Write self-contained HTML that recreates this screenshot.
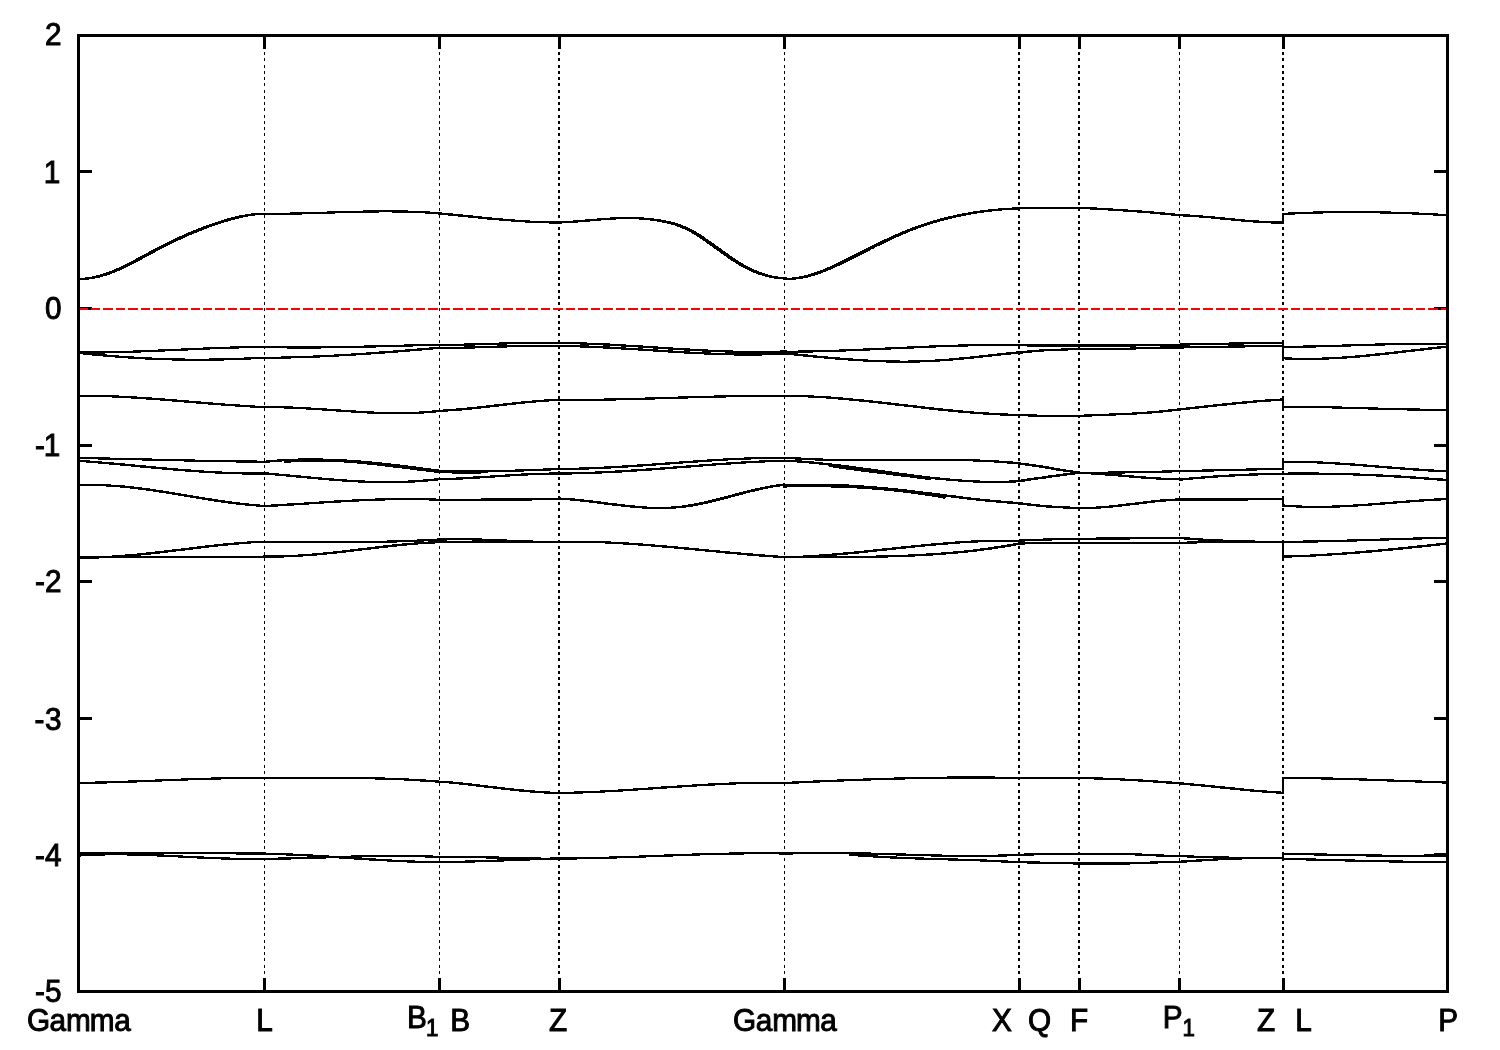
<!DOCTYPE html><html><head><meta charset="utf-8"><style>html,body{margin:0;padding:0;background:#fff;}svg{display:block}text{font-family:"Liberation Sans",Arial,sans-serif;fill:#000;stroke:#000;stroke-width:1px}</style></head><body>
<svg width="1500" height="1050" viewBox="0 0 1500 1050">
<rect width="1500" height="1050" fill="#fff"/>
<g stroke="#000" stroke-dasharray="3 3.25" shape-rendering="crispEdges" fill="none">
<path d="M264.5 52V976" stroke-width="1"/>
<path d="M439.5 52V976" stroke-width="1"/>
<path d="M559 52V976" stroke-width="2"/>
<path d="M784.5 52V976" stroke-width="1"/>
<path d="M1019 52V976" stroke-width="2"/>
<path d="M1079 52V976" stroke-width="2"/>
<path d="M1179.5 52V976" stroke-width="1"/>
<path d="M1283 52V976" stroke-width="2"/>
</g>
<defs><g id="bands" fill="none" stroke="#000" stroke-width="2.2" stroke-linejoin="round"><path d="M78.5 278.8L80.0 278.8L81.5 278.8L83.0 278.8L84.5 278.7L86.0 278.6L87.5 278.4L89.0 278.3L90.5 278.1L92.0 277.8L93.5 277.5L95.0 277.2L96.5 276.9L98.0 276.5L99.5 276.2L101.0 275.7L102.5 275.3L104.0 274.8L105.5 274.4L107.0 273.8L108.5 273.3L110.0 272.8L111.5 272.2L113.0 271.6L114.5 271.0L116.0 270.4L117.5 269.7L119.0 269.0L120.5 268.4L122.0 267.7L123.5 267.0L125.0 266.2L126.5 265.5L128.0 264.8L129.5 264.0L131.0 263.2L132.5 262.5L134.0 261.7L135.5 260.9L137.0 260.1L138.5 259.3L140.0 258.5L141.5 257.7L143.0 256.9L144.5 256.1L146.0 255.3L147.5 254.5L149.0 253.6L150.5 252.8L152.0 252.0L153.5 251.2L155.0 250.4L156.5 249.6L158.0 248.8L159.5 248.1L161.0 247.3L162.5 246.5L164.0 245.7L165.5 245.0L167.0 244.2L168.5 243.5L170.0 242.7L171.5 242.0L173.0 241.3L174.5 240.6L176.0 239.9L177.5 239.2L179.0 238.5L180.5 237.8L182.0 237.1L183.5 236.4L185.0 235.7L186.5 235.1L188.0 234.4L189.5 233.8L191.0 233.1L192.5 232.5L194.0 231.9L195.5 231.3L197.0 230.7L198.5 230.1L200.0 229.5L201.5 228.9L203.0 228.3L204.5 227.7L206.0 227.2L207.5 226.6L209.0 226.1L210.5 225.5L212.0 225.0L213.5 224.5L215.0 224.0L216.5 223.5L218.0 223.0L219.5 222.5L221.0 222.0L222.5 221.5L224.0 221.1L225.5 220.6L227.0 220.2L228.5 219.7L230.0 219.3L231.5 218.9L233.0 218.5L234.5 218.1L236.0 217.7L237.5 217.4L239.0 217.0L240.5 216.7L242.0 216.3L243.5 216.0L245.0 215.8L246.5 215.5L248.0 215.2L249.5 215.0L251.0 214.8L252.5 214.6L254.0 214.4L255.5 214.2L257.0 214.1L258.5 214.0L260.0 213.9L261.5 213.8L263.0 213.7L264.5 213.7L266.0 213.8L267.5 213.8L269.0 213.8L270.5 213.8L272.0 213.8L273.6 213.8L275.1 213.8L276.6 213.8L278.1 213.8L279.6 213.8L281.1 213.7L282.6 213.7L284.1 213.7L285.6 213.7L287.1 213.7L288.6 213.6L290.1 213.6L291.7 213.6L293.2 213.5L294.7 213.5L296.2 213.5L297.7 213.4L299.2 213.4L300.7 213.4L302.2 213.3L303.7 213.3L305.2 213.3L306.7 213.2L308.2 213.2L309.8 213.1L311.3 213.1L312.8 213.0L314.3 213.0L315.8 212.9L317.3 212.9L318.8 212.9L320.3 212.8L321.8 212.8L323.3 212.7L324.8 212.7L326.4 212.6L327.9 212.6L329.4 212.5L330.9 212.5L332.4 212.4L333.9 212.4L335.4 212.3L336.9 212.3L338.4 212.2L339.9 212.2L341.4 212.1L342.9 212.1L344.5 212.0L346.0 212.0L347.5 212.0L349.0 211.9L350.5 211.9L352.0 211.8L353.5 211.8L355.0 211.8L356.5 211.7L358.0 211.7L359.5 211.6L361.1 211.6L362.6 211.6L364.1 211.6L365.6 211.5L367.1 211.5L368.6 211.5L370.1 211.4L371.6 211.4L373.1 211.4L374.6 211.4L376.1 211.4L377.6 211.4L379.2 211.3L380.7 211.3L382.2 211.3L383.7 211.3L385.2 211.3L386.7 211.3L388.2 211.3L389.7 211.3L391.2 211.3L392.7 211.4L394.2 211.4L395.8 211.4L397.3 211.4L398.8 211.4L400.3 211.5L401.8 211.5L403.3 211.5L404.8 211.5L406.3 211.6L407.8 211.6L409.3 211.7L410.8 211.7L412.3 211.8L413.9 211.8L415.4 211.9L416.9 212.0L418.4 212.0L419.9 212.1L421.4 212.2L422.9 212.3L424.4 212.3L425.9 212.4L427.4 212.5L428.9 212.6L430.4 212.7L432.0 212.8L433.5 212.9L435.0 213.1L436.5 213.2L438.0 213.3L439.5 213.4L441.0 213.6L442.5 213.7L444.0 213.9L445.6 214.0L447.1 214.2L448.6 214.3L450.1 214.5L451.6 214.6L453.1 214.8L454.6 214.9L456.1 215.1L457.7 215.2L459.2 215.4L460.7 215.5L462.2 215.7L463.7 215.9L465.2 216.0L466.7 216.2L468.2 216.3L469.8 216.5L471.3 216.6L472.8 216.8L474.3 217.0L475.8 217.1L477.3 217.3L478.8 217.4L480.3 217.6L481.9 217.7L483.4 217.9L484.9 218.0L486.4 218.2L487.9 218.3L489.4 218.5L490.9 218.6L492.4 218.7L494.0 218.9L495.5 219.0L497.0 219.2L498.5 219.3L500.0 219.4L501.5 219.6L503.0 219.7L504.5 219.8L506.1 220.0L507.6 220.1L509.1 220.2L510.6 220.3L512.1 220.4L513.6 220.6L515.1 220.7L516.6 220.8L518.2 220.9L519.7 221.0L521.2 221.1L522.7 221.2L524.2 221.3L525.7 221.4L527.2 221.5L528.7 221.6L530.3 221.6L531.8 221.7L533.3 221.8L534.8 221.9L536.3 221.9L537.8 222.0L539.3 222.0L540.8 222.1L542.4 222.2L543.9 222.2L545.4 222.2L546.9 222.3L548.4 222.3L549.9 222.4L551.4 222.4L552.9 222.4L554.5 222.4L556.0 222.4L557.5 222.4L559.0 222.4L560.5 222.4L562.0 222.3L563.5 222.3L565.0 222.2L566.5 222.1L568.0 222.0L569.5 221.9L571.0 221.8L572.5 221.7L574.0 221.6L575.5 221.5L577.0 221.4L578.5 221.2L580.0 221.1L581.5 221.0L583.1 220.9L584.6 220.7L586.1 220.6L587.6 220.5L589.1 220.3L590.6 220.2L592.1 220.1L593.6 220.0L595.1 219.8L596.6 219.7L598.1 219.6L599.6 219.4L601.1 219.3L602.6 219.2L604.1 219.1L605.6 219.0L607.1 218.9L608.6 218.8L610.1 218.7L611.6 218.6L613.1 218.5L614.6 218.4L616.1 218.3L617.6 218.3L619.1 218.2L620.6 218.2L622.1 218.1L623.6 218.1L625.1 218.0L626.6 218.0L628.2 218.0L629.7 218.0L631.2 218.0L632.7 218.1L634.2 218.1L635.7 218.2L637.2 218.2L638.7 218.3L640.2 218.4L641.7 218.5L643.2 218.6L644.7 218.7L646.2 218.9L647.7 219.0L649.2 219.2L650.7 219.4L652.2 219.5L653.7 219.7L655.2 219.9L656.7 220.2L658.2 220.4L659.7 220.6L661.2 220.9L662.7 221.2L664.2 221.5L665.7 221.8L667.2 222.1L668.7 222.4L670.2 222.8L671.8 223.2L673.3 223.6L674.8 224.1L676.3 224.5L677.8 225.0L679.3 225.6L680.8 226.1L682.3 226.7L683.8 227.4L685.3 228.0L686.8 228.7L688.3 229.4L689.8 230.2L691.3 231.0L692.8 231.8L694.3 232.7L695.8 233.6L697.3 234.5L698.8 235.4L700.3 236.4L701.8 237.4L703.3 238.4L704.8 239.5L706.3 240.5L707.8 241.6L709.3 242.6L710.8 243.7L712.3 244.8L713.8 245.9L715.3 247.0L716.9 248.1L718.4 249.2L719.9 250.2L721.4 251.3L722.9 252.4L724.4 253.5L725.9 254.5L727.4 255.6L728.9 256.6L730.4 257.7L731.9 258.7L733.4 259.7L734.9 260.7L736.4 261.6L737.9 262.6L739.4 263.5L740.9 264.4L742.4 265.3L743.9 266.1L745.4 267.0L746.9 267.8L748.4 268.5L749.9 269.3L751.4 270.0L752.9 270.7L754.4 271.3L755.9 271.9L757.4 272.5L758.9 273.1L760.4 273.6L762.0 274.1L763.5 274.6L765.0 275.1L766.5 275.5L768.0 275.9L769.5 276.3L771.0 276.6L772.5 276.9L774.0 277.2L775.5 277.5L777.0 277.7L778.5 277.9L780.0 278.1L781.5 278.2L783.0 278.3L784.5 278.4L786.0 278.9L787.5 278.9L789.0 278.8L790.5 278.8L792.0 278.7L793.5 278.6L795.0 278.4L796.5 278.2L798.0 278.0L799.5 277.8L801.0 277.5L802.5 277.2L804.0 276.9L805.5 276.6L807.0 276.2L808.6 275.8L810.1 275.4L811.6 274.9L813.1 274.5L814.6 274.0L816.1 273.5L817.6 273.0L819.1 272.5L820.6 271.9L822.1 271.3L823.6 270.8L825.1 270.2L826.6 269.5L828.1 268.9L829.6 268.3L831.1 267.6L832.6 267.0L834.1 266.3L835.6 265.6L837.1 264.9L838.6 264.2L840.1 263.5L841.6 262.7L843.1 262.0L844.6 261.3L846.1 260.5L847.6 259.8L849.1 259.0L850.6 258.3L852.1 257.5L853.6 256.7L855.2 256.0L856.7 255.2L858.2 254.4L859.7 253.7L861.2 252.9L862.7 252.2L864.2 251.4L865.7 250.6L867.2 249.9L868.7 249.1L870.2 248.3L871.7 247.6L873.2 246.8L874.7 246.1L876.2 245.3L877.7 244.6L879.2 243.9L880.7 243.1L882.2 242.4L883.7 241.7L885.2 240.9L886.7 240.2L888.2 239.5L889.7 238.8L891.2 238.1L892.7 237.4L894.2 236.7L895.7 236.1L897.2 235.4L898.7 234.7L900.2 234.1L901.8 233.4L903.3 232.8L904.8 232.2L906.3 231.5L907.8 230.9L909.3 230.3L910.8 229.7L912.3 229.2L913.8 228.6L915.3 228.0L916.8 227.5L918.3 226.9L919.8 226.4L921.3 225.9L922.8 225.3L924.3 224.8L925.8 224.3L927.3 223.9L928.8 223.4L930.3 222.9L931.8 222.4L933.3 222.0L934.8 221.5L936.3 221.1L937.8 220.7L939.3 220.2L940.8 219.8L942.3 219.4L943.8 219.0L945.3 218.6L946.8 218.3L948.3 217.9L949.9 217.5L951.4 217.2L952.9 216.8L954.4 216.5L955.9 216.2L957.4 215.8L958.9 215.5L960.4 215.2L961.9 214.9L963.4 214.6L964.9 214.3L966.4 214.0L967.9 213.8L969.4 213.5L970.9 213.2L972.4 213.0L973.9 212.7L975.4 212.5L976.9 212.3L978.4 212.0L979.9 211.8L981.4 211.6L982.9 211.4L984.4 211.2L985.9 211.0L987.4 210.8L988.9 210.7L990.4 210.5L991.9 210.3L993.4 210.2L994.9 210.0L996.5 209.9L998.0 209.7L999.5 209.6L1001.0 209.4L1002.5 209.3L1004.0 209.2L1005.5 209.1L1007.0 209.0L1008.5 208.9L1010.0 208.8L1011.5 208.7L1013.0 208.6L1014.5 208.5L1016.0 208.5L1017.5 208.4L1019.0 208.3L1020.5 208.2L1022.0 208.1L1023.5 208.0L1025.0 208.0L1026.5 207.9L1028.0 207.8L1029.5 207.8L1031.0 207.7L1032.5 207.7L1034.0 207.7L1035.5 207.7L1037.0 207.7L1038.5 207.7L1040.0 207.7L1041.5 207.6L1043.0 207.6L1044.5 207.6L1046.0 207.6L1047.5 207.6L1049.0 207.6L1050.5 207.6L1052.0 207.6L1053.5 207.6L1055.0 207.6L1056.5 207.6L1058.0 207.6L1059.5 207.6L1061.0 207.6L1062.5 207.6L1064.0 207.6L1065.5 207.6L1067.0 207.6L1068.5 207.6L1070.0 207.6L1071.5 207.6L1073.0 207.7L1074.5 207.7L1076.0 207.7L1077.5 207.7L1079.0 207.7L1080.5 207.8L1082.0 207.9L1083.5 208.0L1085.0 208.0L1086.5 208.1L1088.0 208.2L1089.5 208.3L1091.0 208.4L1092.5 208.4L1094.0 208.5L1095.5 208.6L1097.0 208.7L1098.5 208.8L1100.0 208.9L1101.5 209.0L1103.0 209.0L1104.5 209.1L1106.0 209.2L1107.5 209.3L1109.0 209.4L1110.5 209.5L1112.0 209.6L1113.5 209.7L1115.0 209.8L1116.5 209.9L1118.0 210.0L1119.5 210.1L1121.0 210.2L1122.5 210.3L1124.0 210.4L1125.5 210.5L1127.0 210.6L1128.5 210.7L1130.0 210.8L1131.5 210.9L1133.0 211.0L1134.5 211.1L1136.0 211.2L1137.5 211.3L1139.0 211.5L1140.5 211.6L1142.0 211.7L1143.5 211.8L1145.0 211.9L1146.5 212.1L1148.0 212.2L1149.5 212.3L1151.0 212.4L1152.5 212.6L1154.0 212.7L1155.5 212.8L1157.0 213.0L1158.5 213.1L1160.0 213.2L1161.5 213.4L1163.0 213.5L1164.5 213.7L1166.0 213.8L1167.5 214.0L1169.0 214.1L1170.5 214.3L1172.0 214.4L1173.5 214.6L1175.0 214.7L1176.5 214.9L1178.0 215.0L1179.5 215.2L1181.0 215.3L1182.5 215.3L1184.0 215.4L1185.5 215.5L1187.0 215.5L1188.5 215.6L1190.0 215.7L1191.5 215.8L1193.0 215.9L1194.5 216.0L1196.0 216.1L1197.5 216.2L1199.0 216.3L1200.5 216.4L1202.0 216.6L1203.5 216.7L1205.0 216.8L1206.5 216.9L1208.0 217.1L1209.5 217.2L1211.0 217.3L1212.5 217.5L1214.0 217.6L1215.5 217.8L1217.0 217.9L1218.5 218.1L1220.0 218.2L1221.5 218.4L1223.0 218.5L1224.5 218.7L1226.0 218.8L1227.5 219.0L1229.0 219.1L1230.5 219.3L1232.0 219.4L1233.5 219.6L1235.0 219.7L1236.5 219.9L1238.0 220.0L1239.5 220.2L1241.0 220.3L1242.5 220.4L1244.0 220.6L1245.5 220.7L1247.0 220.8L1248.5 221.0L1250.0 221.1L1251.5 221.2L1253.0 221.3L1254.5 221.4L1256.0 221.5L1257.5 221.6L1259.0 221.7L1260.5 221.8L1262.0 221.9L1263.5 222.0L1265.0 222.1L1266.5 222.1L1268.0 222.2L1269.5 222.3L1271.0 222.3L1272.5 222.4L1274.0 222.4L1275.5 222.4L1277.0 222.4L1278.5 222.5L1280.0 222.5L1281.5 222.5L1283.0 222.5M1283.0 213.9L1284.5 213.8L1286.0 213.7L1287.5 213.6L1289.0 213.6L1290.5 213.5L1292.1 213.4L1293.6 213.4L1295.1 213.3L1296.6 213.2L1298.1 213.2L1299.6 213.1L1301.1 213.0L1302.6 213.0L1304.1 212.9L1305.6 212.9L1307.1 212.8L1308.7 212.8L1310.2 212.7L1311.7 212.7L1313.2 212.6L1314.7 212.6L1316.2 212.5L1317.7 212.5L1319.2 212.5L1320.7 212.4L1322.2 212.4L1323.7 212.3L1325.3 212.3L1326.8 212.3L1328.3 212.3L1329.8 212.2L1331.3 212.2L1332.8 212.2L1334.3 212.2L1335.8 212.1L1337.3 212.1L1338.8 212.1L1340.3 212.1L1341.9 212.1L1343.4 212.1L1344.9 212.1L1346.4 212.1L1347.9 212.1L1349.4 212.1L1350.9 212.0L1352.4 212.0L1353.9 212.0L1355.4 212.1L1356.9 212.1L1358.5 212.1L1360.0 212.1L1361.5 212.1L1363.0 212.1L1364.5 212.1L1366.0 212.1L1367.5 212.1L1369.0 212.2L1370.5 212.2L1372.0 212.2L1373.6 212.2L1375.1 212.2L1376.6 212.3L1378.1 212.3L1379.6 212.3L1381.1 212.4L1382.6 212.4L1384.1 212.4L1385.6 212.5L1387.1 212.5L1388.6 212.5L1390.2 212.6L1391.7 212.6L1393.2 212.7L1394.7 212.7L1396.2 212.8L1397.7 212.8L1399.2 212.8L1400.7 212.9L1402.2 213.0L1403.7 213.0L1405.2 213.1L1406.8 213.1L1408.3 213.2L1409.8 213.2L1411.3 213.3L1412.8 213.4L1414.3 213.4L1415.8 213.5L1417.3 213.6L1418.8 213.6L1420.3 213.7L1421.8 213.8L1423.4 213.9L1424.9 213.9L1426.4 214.0L1427.9 214.1L1429.4 214.2L1430.9 214.2L1432.4 214.3L1433.9 214.4L1435.4 214.5L1436.9 214.6L1438.4 214.7L1440.0 214.8L1441.5 214.9L1443.0 215.0L1444.5 215.1L1446.0 215.1L1447.5 215.2"/><path d="M78.5 352.4L80.0 352.5L81.5 352.5L83.0 352.5L84.5 352.5L86.0 352.5L87.5 352.5L89.0 352.5L90.5 352.5L92.0 352.5L93.5 352.5L95.0 352.5L96.5 352.4L98.0 352.4L99.5 352.4L101.0 352.4L102.5 352.4L104.0 352.4L105.5 352.3L107.0 352.3L108.5 352.3L110.0 352.3L111.5 352.2L113.0 352.2L114.5 352.2L116.0 352.1L117.5 352.1L119.0 352.1L120.5 352.0L122.0 352.0L123.5 351.9L125.0 351.9L126.5 351.8L128.0 351.8L129.5 351.8L131.0 351.7L132.5 351.7L134.0 351.6L135.5 351.5L137.0 351.5L138.5 351.4L140.0 351.4L141.5 351.3L143.0 351.3L144.5 351.2L146.0 351.2L147.5 351.1L149.0 351.0L150.5 351.0L152.0 350.9L153.5 350.8L155.0 350.8L156.5 350.7L158.0 350.7L159.5 350.6L161.0 350.5L162.5 350.5L164.0 350.4L165.5 350.3L167.0 350.3L168.5 350.2L170.0 350.1L171.5 350.1L173.0 350.0L174.5 349.9L176.0 349.8L177.5 349.8L179.0 349.7L180.5 349.6L182.0 349.6L183.5 349.5L185.0 349.4L186.5 349.4L188.0 349.3L189.5 349.2L191.0 349.2L192.5 349.1L194.0 349.0L195.5 349.0L197.0 348.9L198.5 348.8L200.0 348.8L201.5 348.7L203.0 348.6L204.5 348.6L206.0 348.5L207.5 348.4L209.0 348.4L210.5 348.3L212.0 348.3L213.5 348.2L215.0 348.1L216.5 348.1L218.0 348.0L219.5 348.0L221.0 347.9L222.5 347.9L224.0 347.8L225.5 347.8L227.0 347.7L228.5 347.7L230.0 347.6L231.5 347.6L233.0 347.5L234.5 347.5L236.0 347.4L237.5 347.4L239.0 347.3L240.5 347.3L242.0 347.3L243.5 347.2L245.0 347.2L246.5 347.2L248.0 347.1L249.5 347.1L251.0 347.1L252.5 347.0L254.0 347.0L255.5 347.0L257.0 347.0L258.5 347.0L260.0 346.9L261.5 346.9L263.0 346.9L264.5 346.9L266.0 347.0L267.5 347.0L269.0 347.1L270.5 347.1L272.0 347.1L273.6 347.1L275.1 347.2L276.6 347.2L278.1 347.2L279.6 347.3L281.1 347.3L282.6 347.3L284.1 347.3L285.6 347.3L287.1 347.3L288.6 347.4L290.1 347.4L291.7 347.4L293.2 347.4L294.7 347.4L296.2 347.4L297.7 347.4L299.2 347.4L300.7 347.4L302.2 347.4L303.7 347.4L305.2 347.4L306.7 347.4L308.2 347.4L309.8 347.4L311.3 347.4L312.8 347.4L314.3 347.4L315.8 347.4L317.3 347.4L318.8 347.4L320.3 347.4L321.8 347.3L323.3 347.3L324.8 347.3L326.4 347.3L327.9 347.3L329.4 347.3L330.9 347.2L332.4 347.2L333.9 347.2L335.4 347.2L336.9 347.2L338.4 347.1L339.9 347.1L341.4 347.1L342.9 347.1L344.5 347.0L346.0 347.0L347.5 347.0L349.0 346.9L350.5 346.9L352.0 346.9L353.5 346.8L355.0 346.8L356.5 346.8L358.0 346.8L359.5 346.7L361.1 346.7L362.6 346.7L364.1 346.6L365.6 346.6L367.1 346.5L368.6 346.5L370.1 346.5L371.6 346.4L373.1 346.4L374.6 346.4L376.1 346.3L377.6 346.3L379.2 346.2L380.7 346.2L382.2 346.2L383.7 346.1L385.2 346.1L386.7 346.0L388.2 346.0L389.7 346.0L391.2 345.9L392.7 345.9L394.2 345.8L395.8 345.8L397.3 345.8L398.8 345.7L400.3 345.7L401.8 345.6L403.3 345.6L404.8 345.6L406.3 345.5L407.8 345.5L409.3 345.4L410.8 345.4L412.3 345.4L413.9 345.3L415.4 345.3L416.9 345.2L418.4 345.2L419.9 345.2L421.4 345.1L422.9 345.1L424.4 345.0L425.9 345.0L427.4 345.0L428.9 344.9L430.4 344.9L432.0 344.8L433.5 344.8L435.0 344.8L436.5 344.7L438.0 344.7L439.5 344.7L441.0 344.6L442.5 344.7L444.0 344.7L445.6 344.7L447.1 344.7L448.6 344.7L450.1 344.7L451.6 344.7L453.1 344.7L454.6 344.7L456.1 344.7L457.7 344.7L459.2 344.6L460.7 344.6L462.2 344.6L463.7 344.6L465.2 344.6L466.7 344.5L468.2 344.5L469.8 344.5L471.3 344.4L472.8 344.4L474.3 344.4L475.8 344.3L477.3 344.3L478.8 344.2L480.3 344.2L481.9 344.1L483.4 344.1L484.9 344.1L486.4 344.0L487.9 344.0L489.4 343.9L490.9 343.9L492.4 343.8L494.0 343.8L495.5 343.7L497.0 343.7L498.5 343.6L500.0 343.6L501.5 343.5L503.0 343.5L504.5 343.4L506.1 343.4L507.6 343.3L509.1 343.3L510.6 343.2L512.1 343.2L513.6 343.1L515.1 343.1L516.6 343.1L518.2 343.0L519.7 343.0L521.2 342.9L522.7 342.9L524.2 342.9L525.7 342.8L527.2 342.8L528.7 342.8L530.3 342.8L531.8 342.7L533.3 342.7L534.8 342.7L536.3 342.7L537.8 342.7L539.3 342.6L540.8 342.6L542.4 342.6L543.9 342.6L545.4 342.6L546.9 342.6L548.4 342.6L549.9 342.7L551.4 342.7L552.9 342.7L554.5 342.7L556.0 342.7L557.5 342.8L559.0 342.8L560.5 342.8L562.0 342.9L563.5 342.9L565.0 342.9L566.5 342.9L568.0 343.0L569.5 343.0L571.0 343.1L572.5 343.1L574.0 343.1L575.5 343.2L577.0 343.2L578.5 343.3L580.0 343.3L581.5 343.4L583.1 343.4L584.6 343.5L586.1 343.6L587.6 343.6L589.1 343.7L590.6 343.7L592.1 343.8L593.6 343.9L595.1 343.9L596.6 344.0L598.1 344.1L599.6 344.2L601.1 344.2L602.6 344.3L604.1 344.4L605.6 344.5L607.1 344.5L608.6 344.6L610.1 344.7L611.6 344.8L613.1 344.9L614.6 345.0L616.1 345.0L617.6 345.1L619.1 345.2L620.6 345.3L622.1 345.4L623.6 345.5L625.1 345.6L626.6 345.7L628.2 345.8L629.7 345.9L631.2 346.0L632.7 346.1L634.2 346.2L635.7 346.2L637.2 346.3L638.7 346.4L640.2 346.5L641.7 346.6L643.2 346.7L644.7 346.8L646.2 346.9L647.7 347.0L649.2 347.1L650.7 347.2L652.2 347.3L653.7 347.4L655.2 347.5L656.7 347.6L658.2 347.7L659.7 347.8L661.2 347.9L662.7 348.0L664.2 348.1L665.7 348.2L667.2 348.3L668.7 348.4L670.2 348.5L671.8 348.6L673.3 348.7L674.8 348.8L676.3 348.9L677.8 349.0L679.3 349.1L680.8 349.2L682.3 349.2L683.8 349.3L685.3 349.4L686.8 349.5L688.3 349.6L689.8 349.7L691.3 349.8L692.8 349.9L694.3 349.9L695.8 350.0L697.3 350.1L698.8 350.2L700.3 350.3L701.8 350.3L703.3 350.4L704.8 350.5L706.3 350.6L707.8 350.6L709.3 350.7L710.8 350.8L712.3 350.8L713.8 350.9L715.3 351.0L716.9 351.0L718.4 351.1L719.9 351.2L721.4 351.2L722.9 351.3L724.4 351.3L725.9 351.4L727.4 351.4L728.9 351.5L730.4 351.5L731.9 351.6L733.4 351.6L734.9 351.6L736.4 351.7L737.9 351.7L739.4 351.7L740.9 351.8L742.4 351.8L743.9 351.8L745.4 351.9L746.9 351.9L748.4 351.9L749.9 351.9L751.4 351.9L752.9 351.9L754.4 351.9L755.9 351.9L757.4 351.9L758.9 351.9L760.4 351.9L762.0 351.9L763.5 351.9L765.0 351.9L766.5 351.9L768.0 351.9L769.5 351.8L771.0 351.8L772.5 351.8L774.0 351.8L775.5 351.7L777.0 351.7L778.5 351.6L780.0 351.6L781.5 351.6L783.0 351.5L784.5 351.4L786.0 351.6L787.5 351.6L789.0 351.6L790.5 351.6L792.0 351.6L793.5 351.6L795.0 351.6L796.5 351.6L798.0 351.6L799.5 351.6L801.0 351.5L802.5 351.5L804.0 351.5L805.5 351.5L807.0 351.5L808.6 351.4L810.1 351.4L811.6 351.4L813.1 351.3L814.6 351.3L816.1 351.3L817.6 351.2L819.1 351.2L820.6 351.2L822.1 351.1L823.6 351.1L825.1 351.1L826.6 351.0L828.1 351.0L829.6 350.9L831.1 350.9L832.6 350.8L834.1 350.8L835.6 350.7L837.1 350.7L838.6 350.6L840.1 350.6L841.6 350.5L843.1 350.5L844.6 350.4L846.1 350.3L847.6 350.3L849.1 350.2L850.6 350.2L852.1 350.1L853.6 350.0L855.2 350.0L856.7 349.9L858.2 349.9L859.7 349.8L861.2 349.7L862.7 349.7L864.2 349.6L865.7 349.5L867.2 349.5L868.7 349.4L870.2 349.3L871.7 349.3L873.2 349.2L874.7 349.1L876.2 349.0L877.7 349.0L879.2 348.9L880.7 348.8L882.2 348.8L883.7 348.7L885.2 348.6L886.7 348.6L888.2 348.5L889.7 348.4L891.2 348.3L892.7 348.3L894.2 348.2L895.7 348.1L897.2 348.1L898.7 348.0L900.2 347.9L901.8 347.8L903.3 347.8L904.8 347.7L906.3 347.6L907.8 347.6L909.3 347.5L910.8 347.4L912.3 347.4L913.8 347.3L915.3 347.2L916.8 347.1L918.3 347.1L919.8 347.0L921.3 347.0L922.8 346.9L924.3 346.8L925.8 346.8L927.3 346.7L928.8 346.6L930.3 346.6L931.8 346.5L933.3 346.4L934.8 346.4L936.3 346.3L937.8 346.3L939.3 346.2L940.8 346.2L942.3 346.1L943.8 346.1L945.3 346.0L946.8 345.9L948.3 345.9L949.9 345.8L951.4 345.8L952.9 345.8L954.4 345.7L955.9 345.7L957.4 345.6L958.9 345.6L960.4 345.5L961.9 345.5L963.4 345.5L964.9 345.4L966.4 345.4L967.9 345.3L969.4 345.3L970.9 345.3L972.4 345.3L973.9 345.2L975.4 345.2L976.9 345.2L978.4 345.2L979.9 345.1L981.4 345.1L982.9 345.1L984.4 345.1L985.9 345.1L987.4 345.1L988.9 345.0L990.4 345.0L991.9 345.0L993.4 345.0L994.9 345.0L996.5 345.0L998.0 345.0L999.5 345.0L1001.0 345.0L1002.5 345.0L1004.0 345.1L1005.5 345.1L1007.0 345.1L1008.5 345.1L1010.0 345.1L1011.5 345.1L1013.0 345.2L1014.5 345.2L1016.0 345.2L1017.5 345.3L1019.0 345.3L1020.5 345.2L1022.0 345.3L1023.5 345.3L1025.0 345.3L1026.5 345.3L1028.0 345.4L1029.5 345.4L1031.0 345.4L1032.5 345.4L1034.0 345.5L1035.5 345.5L1037.0 345.5L1038.5 345.5L1040.0 345.5L1041.5 345.5L1043.0 345.5L1044.5 345.5L1046.0 345.5L1047.5 345.5L1049.0 345.5L1050.5 345.5L1052.0 345.5L1053.5 345.5L1055.0 345.5L1056.5 345.5L1058.0 345.5L1059.5 345.5L1061.0 345.5L1062.5 345.5L1064.0 345.5L1065.5 345.5L1067.0 345.5L1068.5 345.5L1070.0 345.5L1071.5 345.5L1073.0 345.5L1074.5 345.5L1076.0 345.5L1077.5 345.5L1079.0 345.5L1080.5 345.5L1082.0 345.5L1083.5 345.5L1085.0 345.5L1086.5 345.5L1088.0 345.5L1089.5 345.5L1091.0 345.5L1092.5 345.5L1094.0 345.5L1095.5 345.5L1097.0 345.5L1098.5 345.5L1100.0 345.5L1101.5 345.5L1103.0 345.5L1104.5 345.5L1106.0 345.5L1107.5 345.5L1109.0 345.5L1110.5 345.5L1112.0 345.5L1113.5 345.5L1115.0 345.5L1116.5 345.5L1118.0 345.5L1119.5 345.5L1121.0 345.5L1122.5 345.5L1124.0 345.5L1125.5 345.5L1127.0 345.5L1128.5 345.5L1130.0 345.5L1131.5 345.5L1133.0 345.4L1134.5 345.4L1136.0 345.3L1137.5 345.3L1139.0 345.2L1140.5 345.2L1142.0 345.2L1143.5 345.1L1145.0 345.1L1146.5 345.1L1148.0 345.0L1149.5 345.0L1151.0 345.0L1152.5 345.0L1154.0 344.9L1155.5 344.9L1157.0 344.9L1158.5 344.9L1160.0 344.8L1161.5 344.8L1163.0 344.8L1164.5 344.8L1166.0 344.7L1167.5 344.7L1169.0 344.7L1170.5 344.7L1172.0 344.7L1173.5 344.7L1175.0 344.6L1176.5 344.6L1178.0 344.6L1179.5 344.6L1181.0 344.6L1182.5 344.5L1184.0 344.5L1185.5 344.4L1187.0 344.4L1188.5 344.4L1190.0 344.3L1191.5 344.3L1193.0 344.3L1194.5 344.2L1196.0 344.2L1197.5 344.2L1199.0 344.1L1200.5 344.1L1202.0 344.1L1203.5 344.0L1205.0 344.0L1206.5 344.0L1208.0 343.9L1209.5 343.9L1211.0 343.9L1212.5 343.9L1214.0 343.8L1215.5 343.8L1217.0 343.8L1218.5 343.8L1220.0 343.7L1221.5 343.7L1223.0 343.7L1224.5 343.7L1226.0 343.6L1227.5 343.6L1229.0 343.6L1230.5 343.6L1232.0 343.5L1233.5 343.5L1235.0 343.5L1236.5 343.5L1238.0 343.4L1239.5 343.4L1241.0 343.4L1242.5 343.4L1244.0 343.3L1245.5 343.3L1247.0 343.3L1248.5 343.2L1250.0 343.2L1251.5 343.2L1253.0 343.2L1254.5 343.1L1256.0 343.1L1257.5 343.1L1259.0 343.1L1260.5 343.0L1262.0 343.0L1263.5 343.0L1265.0 342.9L1266.5 342.9L1268.0 342.9L1269.5 342.9L1271.0 342.8L1272.5 342.8L1274.0 342.8L1275.5 342.7L1277.0 342.7L1278.5 342.7L1280.0 342.7L1281.5 342.6L1283.0 342.6M1283.0 346.8L1284.5 346.8L1286.0 346.8L1287.5 346.8L1289.0 346.8L1290.5 346.7L1292.1 346.7L1293.6 346.7L1295.1 346.7L1296.6 346.7L1298.1 346.7L1299.6 346.6L1301.1 346.6L1302.6 346.6L1304.1 346.6L1305.6 346.5L1307.1 346.5L1308.7 346.5L1310.2 346.5L1311.7 346.4L1313.2 346.4L1314.7 346.4L1316.2 346.3L1317.7 346.3L1319.2 346.2L1320.7 346.2L1322.2 346.2L1323.7 346.1L1325.3 346.1L1326.8 346.1L1328.3 346.0L1329.8 346.0L1331.3 345.9L1332.8 345.9L1334.3 345.8L1335.8 345.8L1337.3 345.8L1338.8 345.7L1340.3 345.7L1341.9 345.6L1343.4 345.6L1344.9 345.5L1346.4 345.5L1347.9 345.4L1349.4 345.4L1350.9 345.3L1352.4 345.3L1353.9 345.2L1355.4 345.2L1356.9 345.1L1358.5 345.1L1360.0 345.1L1361.5 345.0L1363.0 345.0L1364.5 344.9L1366.0 344.9L1367.5 344.8L1369.0 344.8L1370.5 344.7L1372.0 344.7L1373.6 344.6L1375.1 344.6L1376.6 344.6L1378.1 344.5L1379.6 344.5L1381.1 344.4L1382.6 344.4L1384.1 344.4L1385.6 344.3L1387.1 344.3L1388.6 344.2L1390.2 344.2L1391.7 344.2L1393.2 344.1L1394.7 344.1L1396.2 344.1L1397.7 344.1L1399.2 344.0L1400.7 344.0L1402.2 344.0L1403.7 343.9L1405.2 343.9L1406.8 343.9L1408.3 343.9L1409.8 343.9L1411.3 343.8L1412.8 343.8L1414.3 343.8L1415.8 343.8L1417.3 343.8L1418.8 343.8L1420.3 343.8L1421.8 343.8L1423.4 343.8L1424.9 343.8L1426.4 343.8L1427.9 343.8L1429.4 343.8L1430.9 343.8L1432.4 343.8L1433.9 343.8L1435.4 343.8L1436.9 343.8L1438.4 343.8L1440.0 343.9L1441.5 343.9L1443.0 343.9L1444.5 343.9L1446.0 344.0L1447.5 344.0"/><path d="M78.5 352.8L80.0 352.9L81.5 353.1L83.0 353.3L84.5 353.5L86.0 353.6L87.5 353.8L89.0 353.9L90.5 354.1L92.0 354.3L93.5 354.4L95.0 354.6L96.5 354.7L98.0 354.9L99.5 355.0L101.0 355.2L102.5 355.3L104.0 355.4L105.5 355.6L107.0 355.7L108.5 355.8L110.0 356.0L111.5 356.1L113.0 356.2L114.5 356.3L116.0 356.4L117.5 356.6L119.0 356.7L120.5 356.8L122.0 356.9L123.5 357.0L125.0 357.1L126.5 357.2L128.0 357.3L129.5 357.4L131.0 357.5L132.5 357.6L134.0 357.7L135.5 357.8L137.0 357.9L138.5 358.0L140.0 358.1L141.5 358.1L143.0 358.2L144.5 358.3L146.0 358.4L147.5 358.5L149.0 358.5L150.5 358.6L152.0 358.7L153.5 358.7L155.0 358.8L156.5 358.8L158.0 358.9L159.5 359.0L161.0 359.0L162.5 359.1L164.0 359.1L165.5 359.2L167.0 359.2L168.5 359.2L170.0 359.3L171.5 359.3L173.0 359.4L174.5 359.4L176.0 359.4L177.5 359.5L179.0 359.5L180.5 359.5L182.0 359.5L183.5 359.6L185.0 359.6L186.5 359.6L188.0 359.6L189.5 359.6L191.0 359.6L192.5 359.6L194.0 359.6L195.5 359.6L197.0 359.6L198.5 359.6L200.0 359.6L201.5 359.6L203.0 359.6L204.5 359.6L206.0 359.6L207.5 359.6L209.0 359.6L210.5 359.6L212.0 359.5L213.5 359.5L215.0 359.5L216.5 359.5L218.0 359.4L219.5 359.4L221.0 359.4L222.5 359.4L224.0 359.3L225.5 359.3L227.0 359.2L228.5 359.2L230.0 359.1L231.5 359.1L233.0 359.1L234.5 359.0L236.0 359.0L237.5 358.9L239.0 358.8L240.5 358.8L242.0 358.7L243.5 358.7L245.0 358.6L246.5 358.5L248.0 358.5L249.5 358.4L251.0 358.3L252.5 358.2L254.0 358.2L255.5 358.1L257.0 358.0L258.5 357.9L260.0 357.8L261.5 357.7L263.0 357.7L264.5 357.6L266.0 357.8L267.5 357.8L269.0 357.7L270.5 357.7L272.0 357.7L273.6 357.7L275.1 357.7L276.6 357.7L278.1 357.6L279.6 357.6L281.1 357.6L282.6 357.6L284.1 357.5L285.6 357.5L287.1 357.5L288.6 357.4L290.1 357.4L291.7 357.3L293.2 357.3L294.7 357.3L296.2 357.2L297.7 357.2L299.2 357.1L300.7 357.1L302.2 357.0L303.7 357.0L305.2 356.9L306.7 356.9L308.2 356.8L309.8 356.8L311.3 356.7L312.8 356.6L314.3 356.6L315.8 356.5L317.3 356.5L318.8 356.4L320.3 356.3L321.8 356.3L323.3 356.2L324.8 356.1L326.4 356.0L327.9 356.0L329.4 355.9L330.9 355.8L332.4 355.7L333.9 355.7L335.4 355.6L336.9 355.5L338.4 355.4L339.9 355.3L341.4 355.2L342.9 355.2L344.5 355.1L346.0 355.0L347.5 354.9L349.0 354.8L350.5 354.7L352.0 354.6L353.5 354.5L355.0 354.4L356.5 354.3L358.0 354.2L359.5 354.1L361.1 354.0L362.6 353.9L364.1 353.8L365.6 353.7L367.1 353.6L368.6 353.5L370.1 353.4L371.6 353.3L373.1 353.2L374.6 353.1L376.1 353.0L377.6 352.9L379.2 352.8L380.7 352.6L382.2 352.5L383.7 352.4L385.2 352.3L386.7 352.2L388.2 352.1L389.7 352.0L391.2 351.8L392.7 351.7L394.2 351.6L395.8 351.5L397.3 351.4L398.8 351.2L400.3 351.1L401.8 351.0L403.3 350.9L404.8 350.7L406.3 350.6L407.8 350.5L409.3 350.4L410.8 350.2L412.3 350.1L413.9 350.0L415.4 349.9L416.9 349.7L418.4 349.6L419.9 349.5L421.4 349.4L422.9 349.2L424.4 349.1L425.9 349.0L427.4 348.8L428.9 348.7L430.4 348.6L432.0 348.4L433.5 348.3L435.0 348.2L436.5 348.0L438.0 347.9L439.5 347.8L441.0 347.8L442.5 347.8L444.0 347.8L445.6 347.8L447.1 347.8L448.6 347.8L450.1 347.8L451.6 347.8L453.1 347.8L454.6 347.8L456.1 347.7L457.7 347.7L459.2 347.7L460.7 347.7L462.2 347.6L463.7 347.6L465.2 347.6L466.7 347.5L468.2 347.5L469.8 347.5L471.3 347.4L472.8 347.4L474.3 347.4L475.8 347.3L477.3 347.3L478.8 347.2L480.3 347.2L481.9 347.1L483.4 347.1L484.9 347.0L486.4 347.0L487.9 346.9L489.4 346.9L490.9 346.8L492.4 346.8L494.0 346.7L495.5 346.7L497.0 346.6L498.5 346.6L500.0 346.5L501.5 346.5L503.0 346.5L504.5 346.4L506.1 346.4L507.6 346.3L509.1 346.3L510.6 346.2L512.1 346.2L513.6 346.1L515.1 346.1L516.6 346.1L518.2 346.0L519.7 346.0L521.2 345.9L522.7 345.9L524.2 345.9L525.7 345.8L527.2 345.8L528.7 345.8L530.3 345.8L531.8 345.7L533.3 345.7L534.8 345.7L536.3 345.7L537.8 345.7L539.3 345.7L540.8 345.7L542.4 345.7L543.9 345.6L545.4 345.6L546.9 345.7L548.4 345.7L549.9 345.7L551.4 345.7L552.9 345.7L554.5 345.7L556.0 345.7L557.5 345.8L559.0 345.8L560.5 345.9L562.0 345.9L563.5 345.9L565.0 345.9L566.5 345.9L568.0 346.0L569.5 346.0L571.0 346.0L572.5 346.1L574.0 346.1L575.5 346.2L577.0 346.2L578.5 346.3L580.0 346.3L581.5 346.4L583.1 346.4L584.6 346.5L586.1 346.5L587.6 346.6L589.1 346.6L590.6 346.7L592.1 346.8L593.6 346.8L595.1 346.9L596.6 347.0L598.1 347.1L599.6 347.1L601.1 347.2L602.6 347.3L604.1 347.4L605.6 347.4L607.1 347.5L608.6 347.6L610.1 347.7L611.6 347.8L613.1 347.9L614.6 347.9L616.1 348.0L617.6 348.1L619.1 348.2L620.6 348.3L622.1 348.4L623.6 348.5L625.1 348.6L626.6 348.7L628.2 348.8L629.7 348.9L631.2 348.9L632.7 349.0L634.2 349.1L635.7 349.2L637.2 349.3L638.7 349.4L640.2 349.5L641.7 349.6L643.2 349.7L644.7 349.8L646.2 349.9L647.7 350.0L649.2 350.1L650.7 350.2L652.2 350.3L653.7 350.4L655.2 350.5L656.7 350.6L658.2 350.7L659.7 350.8L661.2 350.9L662.7 351.0L664.2 351.1L665.7 351.2L667.2 351.3L668.7 351.4L670.2 351.5L671.8 351.6L673.3 351.7L674.8 351.8L676.3 351.9L677.8 352.0L679.3 352.0L680.8 352.1L682.3 352.2L683.8 352.3L685.3 352.4L686.8 352.5L688.3 352.6L689.8 352.7L691.3 352.7L692.8 352.8L694.3 352.9L695.8 353.0L697.3 353.0L698.8 353.1L700.3 353.2L701.8 353.3L703.3 353.3L704.8 353.4L706.3 353.5L707.8 353.5L709.3 353.6L710.8 353.7L712.3 353.7L713.8 353.8L715.3 353.8L716.9 353.9L718.4 353.9L719.9 354.0L721.4 354.0L722.9 354.1L724.4 354.1L725.9 354.2L727.4 354.2L728.9 354.2L730.4 354.3L731.9 354.3L733.4 354.3L734.9 354.4L736.4 354.4L737.9 354.4L739.4 354.4L740.9 354.4L742.4 354.5L743.9 354.5L745.4 354.5L746.9 354.5L748.4 354.5L749.9 354.5L751.4 354.5L752.9 354.5L754.4 354.4L755.9 354.4L757.4 354.4L758.9 354.4L760.4 354.4L762.0 354.3L763.5 354.3L765.0 354.3L766.5 354.2L768.0 354.2L769.5 354.2L771.0 354.1L772.5 354.0L774.0 354.0L775.5 353.9L777.0 353.9L778.5 353.8L780.0 353.7L781.5 353.6L783.0 353.6L784.5 353.5L786.0 353.4L787.5 353.6L789.0 353.8L790.5 353.9L792.0 354.1L793.5 354.3L795.0 354.4L796.5 354.6L798.0 354.7L799.5 354.9L801.0 355.1L802.5 355.2L804.0 355.4L805.5 355.5L807.0 355.7L808.6 355.8L810.1 356.0L811.6 356.1L813.1 356.3L814.6 356.4L816.1 356.6L817.6 356.7L819.1 356.9L820.6 357.0L822.1 357.2L823.6 357.3L825.1 357.4L826.6 357.6L828.1 357.7L829.6 357.8L831.1 358.0L832.6 358.1L834.1 358.2L835.6 358.4L837.1 358.5L838.6 358.6L840.1 358.7L841.6 358.9L843.1 359.0L844.6 359.1L846.1 359.2L847.6 359.3L849.1 359.4L850.6 359.5L852.1 359.7L853.6 359.8L855.2 359.9L856.7 360.0L858.2 360.1L859.7 360.1L861.2 360.2L862.7 360.3L864.2 360.4L865.7 360.5L867.2 360.6L868.7 360.7L870.2 360.7L871.7 360.8L873.2 360.9L874.7 360.9L876.2 361.0L877.7 361.1L879.2 361.1L880.7 361.2L882.2 361.2L883.7 361.3L885.2 361.3L886.7 361.4L888.2 361.4L889.7 361.4L891.2 361.5L892.7 361.5L894.2 361.5L895.7 361.5L897.2 361.5L898.7 361.6L900.2 361.6L901.8 361.6L903.3 361.6L904.8 361.6L906.3 361.6L907.8 361.6L909.3 361.6L910.8 361.5L912.3 361.5L913.8 361.5L915.3 361.5L916.8 361.4L918.3 361.4L919.8 361.3L921.3 361.3L922.8 361.2L924.3 361.2L925.8 361.1L927.3 361.1L928.8 361.0L930.3 360.9L931.8 360.8L933.3 360.8L934.8 360.7L936.3 360.6L937.8 360.5L939.3 360.4L940.8 360.3L942.3 360.2L943.8 360.1L945.3 360.0L946.8 359.8L948.3 359.7L949.9 359.6L951.4 359.5L952.9 359.3L954.4 359.2L955.9 359.1L957.4 358.9L958.9 358.8L960.4 358.6L961.9 358.5L963.4 358.4L964.9 358.2L966.4 358.1L967.9 357.9L969.4 357.7L970.9 357.6L972.4 357.4L973.9 357.3L975.4 357.1L976.9 356.9L978.4 356.8L979.9 356.6L981.4 356.5L982.9 356.3L984.4 356.1L985.9 356.0L987.4 355.8L988.9 355.6L990.4 355.5L991.9 355.3L993.4 355.1L994.9 355.0L996.5 354.8L998.0 354.7L999.5 354.5L1001.0 354.3L1002.5 354.2L1004.0 354.0L1005.5 353.8L1007.0 353.7L1008.5 353.5L1010.0 353.4L1011.5 353.2L1013.0 353.1L1014.5 352.9L1016.0 352.8L1017.5 352.6L1019.0 352.5L1020.5 352.6L1022.0 352.4L1023.5 352.2L1025.0 352.0L1026.5 351.9L1028.0 351.7L1029.5 351.5L1031.0 351.4L1032.5 351.2L1034.0 351.1L1035.5 350.9L1037.0 350.8L1038.5 350.7L1040.0 350.6L1041.5 350.5L1043.0 350.4L1044.5 350.3L1046.0 350.3L1047.5 350.2L1049.0 350.1L1050.5 350.1L1052.0 350.0L1053.5 349.9L1055.0 349.9L1056.5 349.8L1058.0 349.8L1059.5 349.7L1061.0 349.7L1062.5 349.6L1064.0 349.5L1065.5 349.5L1067.0 349.4L1068.5 349.3L1070.0 349.3L1071.5 349.2L1073.0 349.1L1074.5 349.0L1076.0 349.0L1077.5 348.9L1079.0 348.8L1080.5 348.8L1082.0 348.8L1083.5 348.8L1085.0 348.8L1086.5 348.8L1088.0 348.8L1089.5 348.8L1091.0 348.8L1092.5 348.8L1094.0 348.8L1095.5 348.8L1097.0 348.8L1098.5 348.8L1100.0 348.8L1101.5 348.8L1103.0 348.8L1104.5 348.8L1106.0 348.8L1107.5 348.8L1109.0 348.8L1110.5 348.8L1112.0 348.8L1113.5 348.8L1115.0 348.8L1116.5 348.7L1118.0 348.7L1119.5 348.7L1121.0 348.7L1122.5 348.7L1124.0 348.7L1125.5 348.7L1127.0 348.7L1128.5 348.7L1130.0 348.7L1131.5 348.6L1133.0 348.5L1134.5 348.4L1136.0 348.3L1137.5 348.2L1139.0 348.1L1140.5 348.1L1142.0 348.0L1143.5 348.0L1145.0 348.0L1146.5 347.9L1148.0 347.9L1149.5 347.8L1151.0 347.8L1152.5 347.8L1154.0 347.7L1155.5 347.7L1157.0 347.7L1158.5 347.6L1160.0 347.6L1161.5 347.6L1163.0 347.5L1164.5 347.5L1166.0 347.5L1167.5 347.5L1169.0 347.5L1170.5 347.4L1172.0 347.4L1173.5 347.4L1175.0 347.4L1176.5 347.4L1178.0 347.4L1179.5 347.4L1181.0 347.4L1182.5 347.4L1184.0 347.3L1185.5 347.3L1187.0 347.3L1188.5 347.3L1190.0 347.3L1191.5 347.2L1193.0 347.2L1194.5 347.2L1196.0 347.2L1197.5 347.1L1199.0 347.1L1200.5 347.1L1202.0 347.1L1203.5 347.0L1205.0 347.0L1206.5 347.0L1208.0 347.0L1209.5 346.9L1211.0 346.9L1212.5 346.9L1214.0 346.8L1215.5 346.8L1217.0 346.8L1218.5 346.8L1220.0 346.7L1221.5 346.7L1223.0 346.7L1224.5 346.6L1226.0 346.6L1227.5 346.6L1229.0 346.6L1230.5 346.5L1232.0 346.5L1233.5 346.5L1235.0 346.5L1236.5 346.4L1238.0 346.4L1239.5 346.4L1241.0 346.4L1242.5 346.4L1244.0 346.4L1245.5 346.3L1247.0 346.3L1248.5 346.3L1250.0 346.3L1251.5 346.3L1253.0 346.2L1254.5 346.2L1256.0 346.2L1257.5 346.2L1259.0 346.2L1260.5 346.2L1262.0 346.2L1263.5 346.1L1265.0 346.1L1266.5 346.1L1268.0 346.1L1269.5 346.1L1271.0 346.1L1272.5 346.1L1274.0 346.1L1275.5 346.0L1277.0 346.0L1278.5 346.0L1280.0 346.0L1281.5 346.0L1283.0 346.0M1283.0 358.2L1284.5 358.3L1286.0 358.4L1287.5 358.4L1289.0 358.5L1290.5 358.6L1292.1 358.6L1293.6 358.7L1295.1 358.7L1296.6 358.8L1298.1 358.8L1299.6 358.8L1301.1 358.9L1302.6 358.9L1304.1 358.9L1305.6 358.9L1307.1 358.9L1308.7 358.9L1310.2 358.9L1311.7 358.9L1313.2 358.9L1314.7 358.8L1316.2 358.8L1317.7 358.8L1319.2 358.7L1320.7 358.7L1322.2 358.6L1323.7 358.6L1325.3 358.5L1326.8 358.5L1328.3 358.4L1329.8 358.3L1331.3 358.3L1332.8 358.2L1334.3 358.1L1335.8 358.0L1337.3 358.0L1338.8 357.9L1340.3 357.8L1341.9 357.7L1343.4 357.6L1344.9 357.5L1346.4 357.4L1347.9 357.3L1349.4 357.1L1350.9 357.0L1352.4 356.9L1353.9 356.8L1355.4 356.7L1356.9 356.5L1358.5 356.4L1360.0 356.3L1361.5 356.1L1363.0 356.0L1364.5 355.9L1366.0 355.7L1367.5 355.6L1369.0 355.4L1370.5 355.3L1372.0 355.1L1373.6 355.0L1375.1 354.8L1376.6 354.6L1378.1 354.5L1379.6 354.3L1381.1 354.2L1382.6 354.0L1384.1 353.8L1385.6 353.7L1387.1 353.5L1388.6 353.3L1390.2 353.2L1391.7 353.0L1393.2 352.8L1394.7 352.7L1396.2 352.5L1397.7 352.3L1399.2 352.1L1400.7 352.0L1402.2 351.8L1403.7 351.6L1405.2 351.4L1406.8 351.3L1408.3 351.1L1409.8 350.9L1411.3 350.7L1412.8 350.5L1414.3 350.4L1415.8 350.2L1417.3 350.0L1418.8 349.8L1420.3 349.7L1421.8 349.5L1423.4 349.3L1424.9 349.1L1426.4 349.0L1427.9 348.8L1429.4 348.6L1430.9 348.4L1432.4 348.3L1433.9 348.1L1435.4 347.9L1436.9 347.8L1438.4 347.6L1440.0 347.4L1441.5 347.3L1443.0 347.1L1444.5 347.0L1446.0 346.8L1447.5 346.6"/><path d="M78.5 395.6L80.0 395.6L81.5 395.6L83.0 395.6L84.5 395.6L86.0 395.6L87.5 395.7L89.0 395.7L90.5 395.7L92.0 395.7L93.5 395.7L95.0 395.8L96.5 395.8L98.0 395.8L99.5 395.9L101.0 395.9L102.5 396.0L104.0 396.0L105.5 396.1L107.0 396.1L108.5 396.2L110.0 396.2L111.5 396.3L113.0 396.4L114.5 396.4L116.0 396.5L117.5 396.6L119.0 396.6L120.5 396.7L122.0 396.8L123.5 396.9L125.0 397.0L126.5 397.0L128.0 397.1L129.5 397.2L131.0 397.3L132.5 397.4L134.0 397.5L135.5 397.6L137.0 397.7L138.5 397.8L140.0 397.9L141.5 398.0L143.0 398.1L144.5 398.2L146.0 398.3L147.5 398.4L149.0 398.5L150.5 398.6L152.0 398.7L153.5 398.8L155.0 399.0L156.5 399.1L158.0 399.2L159.5 399.3L161.0 399.4L162.5 399.5L164.0 399.7L165.5 399.8L167.0 399.9L168.5 400.0L170.0 400.1L171.5 400.3L173.0 400.4L174.5 400.5L176.0 400.6L177.5 400.8L179.0 400.9L180.5 401.0L182.0 401.1L183.5 401.3L185.0 401.4L186.5 401.5L188.0 401.6L189.5 401.8L191.0 401.9L192.5 402.0L194.0 402.1L195.5 402.3L197.0 402.4L198.5 402.5L200.0 402.6L201.5 402.8L203.0 402.9L204.5 403.0L206.0 403.1L207.5 403.3L209.0 403.4L210.5 403.5L212.0 403.6L213.5 403.8L215.0 403.9L216.5 404.0L218.0 404.1L219.5 404.2L221.0 404.3L222.5 404.5L224.0 404.6L225.5 404.7L227.0 404.8L228.5 404.9L230.0 405.0L231.5 405.1L233.0 405.2L234.5 405.3L236.0 405.4L237.5 405.5L239.0 405.6L240.5 405.7L242.0 405.8L243.5 405.9L245.0 406.0L246.5 406.1L248.0 406.2L249.5 406.3L251.0 406.4L252.5 406.5L254.0 406.6L255.5 406.6L257.0 406.7L258.5 406.8L260.0 406.9L261.5 407.0L263.0 407.0L264.5 407.1L266.0 407.1L267.5 407.1L269.0 407.1L270.5 407.1L272.0 407.1L273.6 407.1L275.1 407.1L276.6 407.1L278.1 407.2L279.6 407.2L281.1 407.2L282.6 407.3L284.1 407.3L285.6 407.4L287.1 407.4L288.6 407.5L290.1 407.5L291.7 407.6L293.2 407.7L294.7 407.7L296.2 407.8L297.7 407.9L299.2 408.0L300.7 408.0L302.2 408.1L303.7 408.2L305.2 408.3L306.7 408.4L308.2 408.5L309.8 408.6L311.3 408.6L312.8 408.7L314.3 408.8L315.8 408.9L317.3 409.0L318.8 409.1L320.3 409.2L321.8 409.3L323.3 409.4L324.8 409.5L326.4 409.7L327.9 409.8L329.4 409.9L330.9 410.0L332.4 410.1L333.9 410.2L335.4 410.3L336.9 410.4L338.4 410.5L339.9 410.6L341.4 410.7L342.9 410.8L344.5 410.9L346.0 411.0L347.5 411.1L349.0 411.2L350.5 411.3L352.0 411.4L353.5 411.5L355.0 411.6L356.5 411.7L358.0 411.8L359.5 411.9L361.1 412.0L362.6 412.0L364.1 412.1L365.6 412.2L367.1 412.3L368.6 412.4L370.1 412.4L371.6 412.5L373.1 412.6L374.6 412.6L376.1 412.7L377.6 412.7L379.2 412.8L380.7 412.9L382.2 412.9L383.7 412.9L385.2 413.0L386.7 413.0L388.2 413.1L389.7 413.1L391.2 413.1L392.7 413.1L394.2 413.1L395.8 413.1L397.3 413.1L398.8 413.1L400.3 413.1L401.8 413.1L403.3 413.1L404.8 413.1L406.3 413.1L407.8 413.0L409.3 413.0L410.8 413.0L412.3 412.9L413.9 412.9L415.4 412.8L416.9 412.7L418.4 412.7L419.9 412.6L421.4 412.5L422.9 412.4L424.4 412.3L425.9 412.2L427.4 412.1L428.9 412.0L430.4 411.8L432.0 411.7L433.5 411.6L435.0 411.4L436.5 411.2L438.0 411.1L439.5 410.9L441.0 410.8L442.5 410.7L444.0 410.6L445.6 410.5L447.1 410.4L448.6 410.3L450.1 410.2L451.6 410.1L453.1 410.0L454.6 409.9L456.1 409.7L457.7 409.6L459.2 409.5L460.7 409.4L462.2 409.2L463.7 409.1L465.2 408.9L466.7 408.8L468.2 408.6L469.8 408.5L471.3 408.3L472.8 408.2L474.3 408.0L475.8 407.9L477.3 407.7L478.8 407.5L480.3 407.4L481.9 407.2L483.4 407.0L484.9 406.9L486.4 406.7L487.9 406.5L489.4 406.3L490.9 406.2L492.4 406.0L494.0 405.8L495.5 405.6L497.0 405.5L498.5 405.3L500.0 405.1L501.5 404.9L503.0 404.8L504.5 404.6L506.1 404.4L507.6 404.2L509.1 404.1L510.6 403.9L512.1 403.7L513.6 403.6L515.1 403.4L516.6 403.2L518.2 403.1L519.7 402.9L521.2 402.7L522.7 402.6L524.2 402.4L525.7 402.3L527.2 402.1L528.7 402.0L530.3 401.8L531.8 401.7L533.3 401.6L534.8 401.4L536.3 401.3L537.8 401.2L539.3 401.0L540.8 400.9L542.4 400.8L543.9 400.7L545.4 400.6L546.9 400.5L548.4 400.4L549.9 400.3L551.4 400.2L552.9 400.1L554.5 400.0L556.0 399.9L557.5 399.9L559.0 399.8L560.5 399.8L562.0 399.8L563.5 399.8L565.0 399.8L566.5 399.8L568.0 399.8L569.5 399.9L571.0 399.9L572.5 399.9L574.0 399.9L575.5 399.9L577.0 399.8L578.5 399.8L580.0 399.8L581.5 399.8L583.1 399.8L584.6 399.8L586.1 399.8L587.6 399.8L589.1 399.8L590.6 399.8L592.1 399.7L593.6 399.7L595.1 399.7L596.6 399.7L598.1 399.7L599.6 399.6L601.1 399.6L602.6 399.6L604.1 399.6L605.6 399.6L607.1 399.5L608.6 399.5L610.1 399.5L611.6 399.4L613.1 399.4L614.6 399.4L616.1 399.3L617.6 399.3L619.1 399.3L620.6 399.3L622.1 399.2L623.6 399.2L625.1 399.1L626.6 399.1L628.2 399.1L629.7 399.0L631.2 399.0L632.7 399.0L634.2 398.9L635.7 398.9L637.2 398.8L638.7 398.8L640.2 398.8L641.7 398.7L643.2 398.7L644.7 398.6L646.2 398.6L647.7 398.5L649.2 398.5L650.7 398.5L652.2 398.4L653.7 398.4L655.2 398.3L656.7 398.3L658.2 398.2L659.7 398.2L661.2 398.1L662.7 398.1L664.2 398.0L665.7 398.0L667.2 398.0L668.7 397.9L670.2 397.9L671.8 397.8L673.3 397.8L674.8 397.7L676.3 397.7L677.8 397.6L679.3 397.6L680.8 397.5L682.3 397.5L683.8 397.5L685.3 397.4L686.8 397.4L688.3 397.3L689.8 397.3L691.3 397.2L692.8 397.2L694.3 397.1L695.8 397.1L697.3 397.1L698.8 397.0L700.3 397.0L701.8 396.9L703.3 396.9L704.8 396.8L706.3 396.8L707.8 396.8L709.3 396.7L710.8 396.7L712.3 396.7L713.8 396.6L715.3 396.6L716.9 396.5L718.4 396.5L719.9 396.5L721.4 396.4L722.9 396.4L724.4 396.4L725.9 396.3L727.4 396.3L728.9 396.3L730.4 396.3L731.9 396.2L733.4 396.2L734.9 396.2L736.4 396.1L737.9 396.1L739.4 396.1L740.9 396.1L742.4 396.1L743.9 396.0L745.4 396.0L746.9 396.0L748.4 396.0L749.9 396.0L751.4 395.9L752.9 395.9L754.4 395.9L755.9 395.9L757.4 395.9L758.9 395.9L760.4 395.9L762.0 395.9L763.5 395.9L765.0 395.9L766.5 395.9L768.0 395.9L769.5 395.9L771.0 395.9L772.5 395.9L774.0 395.9L775.5 395.9L777.0 395.9L778.5 395.9L780.0 395.9L781.5 395.9L783.0 395.9L784.5 395.9L786.0 395.8L787.5 395.8L789.0 395.9L790.5 395.9L792.0 395.9L793.5 395.9L795.0 396.0L796.5 396.0L798.0 396.0L799.5 396.1L801.0 396.1L802.5 396.2L804.0 396.2L805.5 396.3L807.0 396.3L808.6 396.4L810.1 396.5L811.6 396.5L813.1 396.6L814.6 396.7L816.1 396.8L817.6 396.9L819.1 396.9L820.6 397.0L822.1 397.1L823.6 397.2L825.1 397.3L826.6 397.4L828.1 397.5L829.6 397.6L831.1 397.7L832.6 397.9L834.1 398.0L835.6 398.1L837.1 398.2L838.6 398.3L840.1 398.5L841.6 398.6L843.1 398.7L844.6 398.9L846.1 399.0L847.6 399.1L849.1 399.3L850.6 399.4L852.1 399.6L853.6 399.7L855.2 399.8L856.7 400.0L858.2 400.1L859.7 400.3L861.2 400.5L862.7 400.6L864.2 400.8L865.7 400.9L867.2 401.1L868.7 401.2L870.2 401.4L871.7 401.6L873.2 401.7L874.7 401.9L876.2 402.1L877.7 402.2L879.2 402.4L880.7 402.6L882.2 402.7L883.7 402.9L885.2 403.1L886.7 403.3L888.2 403.4L889.7 403.6L891.2 403.8L892.7 404.0L894.2 404.1L895.7 404.3L897.2 404.5L898.7 404.7L900.2 404.8L901.8 405.0L903.3 405.2L904.8 405.4L906.3 405.6L907.8 405.7L909.3 405.9L910.8 406.1L912.3 406.3L913.8 406.4L915.3 406.6L916.8 406.8L918.3 407.0L919.8 407.1L921.3 407.3L922.8 407.5L924.3 407.7L925.8 407.8L927.3 408.0L928.8 408.2L930.3 408.4L931.8 408.5L933.3 408.7L934.8 408.9L936.3 409.0L937.8 409.2L939.3 409.4L940.8 409.5L942.3 409.7L943.8 409.8L945.3 410.0L946.8 410.2L948.3 410.3L949.9 410.5L951.4 410.6L952.9 410.8L954.4 410.9L955.9 411.1L957.4 411.2L958.9 411.3L960.4 411.5L961.9 411.6L963.4 411.8L964.9 411.9L966.4 412.0L967.9 412.2L969.4 412.3L970.9 412.4L972.4 412.5L973.9 412.7L975.4 412.8L976.9 412.9L978.4 413.0L979.9 413.1L981.4 413.2L982.9 413.3L984.4 413.4L985.9 413.5L987.4 413.6L988.9 413.7L990.4 413.8L991.9 413.9L993.4 414.0L994.9 414.1L996.5 414.1L998.0 414.2L999.5 414.3L1001.0 414.4L1002.5 414.4L1004.0 414.5L1005.5 414.5L1007.0 414.6L1008.5 414.6L1010.0 414.7L1011.5 414.7L1013.0 414.8L1014.5 414.8L1016.0 414.8L1017.5 414.8L1019.0 414.9L1020.5 415.1L1022.0 415.1L1023.5 415.2L1025.0 415.2L1026.5 415.3L1028.0 415.3L1029.5 415.4L1031.0 415.4L1032.5 415.5L1034.0 415.5L1035.5 415.6L1037.0 415.6L1038.5 415.7L1040.0 415.7L1041.5 415.7L1043.0 415.7L1044.5 415.8L1046.0 415.8L1047.5 415.8L1049.0 415.8L1050.5 415.8L1052.0 415.8L1053.5 415.8L1055.0 415.8L1056.5 415.8L1058.0 415.8L1059.5 415.8L1061.0 415.8L1062.5 415.8L1064.0 415.8L1065.5 415.8L1067.0 415.8L1068.5 415.8L1070.0 415.8L1071.5 415.8L1073.0 415.8L1074.5 415.8L1076.0 415.8L1077.5 415.8L1079.0 415.8L1080.5 415.7L1082.0 415.7L1083.5 415.6L1085.0 415.6L1086.5 415.5L1088.0 415.5L1089.5 415.4L1091.0 415.4L1092.5 415.3L1094.0 415.2L1095.5 415.2L1097.0 415.1L1098.5 415.1L1100.0 415.0L1101.5 415.0L1103.0 414.9L1104.5 414.8L1106.0 414.8L1107.5 414.7L1109.0 414.6L1110.5 414.6L1112.0 414.5L1113.5 414.5L1115.0 414.4L1116.5 414.3L1118.0 414.3L1119.5 414.2L1121.0 414.1L1122.5 414.1L1124.0 414.0L1125.5 414.0L1127.0 413.9L1128.5 413.8L1130.0 413.7L1131.5 413.7L1133.0 413.6L1134.5 413.5L1136.0 413.4L1137.5 413.3L1139.0 413.3L1140.5 413.2L1142.0 413.1L1143.5 413.0L1145.0 412.9L1146.5 412.8L1148.0 412.6L1149.5 412.5L1151.0 412.4L1152.5 412.3L1154.0 412.1L1155.5 412.0L1157.0 411.9L1158.5 411.7L1160.0 411.6L1161.5 411.4L1163.0 411.3L1164.5 411.1L1166.0 411.0L1167.5 410.8L1169.0 410.6L1170.5 410.5L1172.0 410.3L1173.5 410.1L1175.0 409.9L1176.5 409.8L1178.0 409.6L1179.5 409.4L1181.0 409.2L1182.5 409.1L1184.0 408.9L1185.5 408.7L1187.0 408.6L1188.5 408.4L1190.0 408.2L1191.5 408.0L1193.0 407.9L1194.5 407.7L1196.0 407.6L1197.5 407.4L1199.0 407.2L1200.5 407.1L1202.0 406.9L1203.5 406.7L1205.0 406.6L1206.5 406.4L1208.0 406.3L1209.5 406.1L1211.0 405.9L1212.5 405.8L1214.0 405.6L1215.5 405.5L1217.0 405.3L1218.5 405.2L1220.0 405.0L1221.5 404.8L1223.0 404.7L1224.5 404.5L1226.0 404.4L1227.5 404.2L1229.0 404.1L1230.5 403.9L1232.0 403.8L1233.5 403.6L1235.0 403.4L1236.5 403.3L1238.0 403.1L1239.5 403.0L1241.0 402.8L1242.5 402.7L1244.0 402.5L1245.5 402.4L1247.0 402.2L1248.5 402.1L1250.0 402.0L1251.5 401.8L1253.0 401.7L1254.5 401.6L1256.0 401.4L1257.5 401.3L1259.0 401.2L1260.5 401.1L1262.0 400.9L1263.5 400.8L1265.0 400.7L1266.5 400.6L1268.0 400.5L1269.5 400.4L1271.0 400.3L1272.5 400.2L1274.0 400.1L1275.5 400.0L1277.0 399.9L1278.5 399.8L1280.0 399.7L1281.5 399.6L1283.0 399.5M1283.0 406.7L1284.5 406.7L1286.0 406.7L1287.5 406.7L1289.0 406.7L1290.5 406.7L1292.1 406.7L1293.6 406.7L1295.1 406.7L1296.6 406.8L1298.1 406.8L1299.6 406.8L1301.1 406.8L1302.6 406.8L1304.1 406.8L1305.6 406.9L1307.1 406.9L1308.7 406.9L1310.2 406.9L1311.7 406.9L1313.2 407.0L1314.7 407.0L1316.2 407.0L1317.7 407.0L1319.2 407.1L1320.7 407.1L1322.2 407.1L1323.7 407.2L1325.3 407.2L1326.8 407.2L1328.3 407.3L1329.8 407.3L1331.3 407.3L1332.8 407.4L1334.3 407.4L1335.8 407.5L1337.3 407.5L1338.8 407.5L1340.3 407.6L1341.9 407.6L1343.4 407.6L1344.9 407.7L1346.4 407.7L1347.9 407.8L1349.4 407.8L1350.9 407.9L1352.4 407.9L1353.9 407.9L1355.4 408.0L1356.9 408.0L1358.5 408.1L1360.0 408.1L1361.5 408.2L1363.0 408.2L1364.5 408.2L1366.0 408.3L1367.5 408.3L1369.0 408.4L1370.5 408.4L1372.0 408.5L1373.6 408.5L1375.1 408.5L1376.6 408.6L1378.1 408.6L1379.6 408.7L1381.1 408.7L1382.6 408.7L1384.1 408.8L1385.6 408.8L1387.1 408.9L1388.6 408.9L1390.2 409.0L1391.7 409.0L1393.2 409.0L1394.7 409.1L1396.2 409.1L1397.7 409.1L1399.2 409.2L1400.7 409.2L1402.2 409.2L1403.7 409.3L1405.2 409.3L1406.8 409.3L1408.3 409.4L1409.8 409.4L1411.3 409.4L1412.8 409.5L1414.3 409.5L1415.8 409.5L1417.3 409.5L1418.8 409.6L1420.3 409.6L1421.8 409.6L1423.4 409.6L1424.9 409.7L1426.4 409.7L1427.9 409.7L1429.4 409.7L1430.9 409.7L1432.4 409.7L1433.9 409.8L1435.4 409.8L1436.9 409.8L1438.4 409.8L1440.0 409.8L1441.5 409.8L1443.0 409.8L1444.5 409.8L1446.0 409.8L1447.5 409.8"/><path d="M78.5 457.9L80.0 458.0L81.5 458.0L83.0 458.0L84.5 458.1L86.0 458.1L87.5 458.1L89.0 458.2L90.5 458.2L92.0 458.2L93.5 458.2L95.0 458.3L96.5 458.3L98.0 458.3L99.5 458.4L101.0 458.4L102.5 458.4L104.0 458.5L105.5 458.5L107.0 458.5L108.5 458.6L110.0 458.6L111.5 458.6L113.0 458.7L114.5 458.7L116.0 458.7L117.5 458.8L119.0 458.8L120.5 458.8L122.0 458.9L123.5 458.9L125.0 458.9L126.5 459.0L128.0 459.0L129.5 459.1L131.0 459.1L132.5 459.1L134.0 459.2L135.5 459.2L137.0 459.2L138.5 459.3L140.0 459.3L141.5 459.3L143.0 459.4L144.5 459.4L146.0 459.5L147.5 459.5L149.0 459.5L150.5 459.6L152.0 459.6L153.5 459.6L155.0 459.7L156.5 459.7L158.0 459.7L159.5 459.8L161.0 459.8L162.5 459.9L164.0 459.9L165.5 459.9L167.0 460.0L168.5 460.0L170.0 460.0L171.5 460.1L173.0 460.1L174.5 460.1L176.0 460.2L177.5 460.2L179.0 460.2L180.5 460.3L182.0 460.3L183.5 460.3L185.0 460.4L186.5 460.4L188.0 460.4L189.5 460.5L191.0 460.5L192.5 460.5L194.0 460.6L195.5 460.6L197.0 460.6L198.5 460.7L200.0 460.7L201.5 460.7L203.0 460.8L204.5 460.8L206.0 460.8L207.5 460.8L209.0 460.9L210.5 460.9L212.0 460.9L213.5 461.0L215.0 461.0L216.5 461.0L218.0 461.0L219.5 461.1L221.0 461.1L222.5 461.1L224.0 461.1L225.5 461.2L227.0 461.2L228.5 461.2L230.0 461.2L231.5 461.3L233.0 461.3L234.5 461.3L236.0 461.3L237.5 461.4L239.0 461.4L240.5 461.4L242.0 461.4L243.5 461.4L245.0 461.5L246.5 461.5L248.0 461.5L249.5 461.5L251.0 461.5L252.5 461.5L254.0 461.5L255.5 461.6L257.0 461.6L258.5 461.6L260.0 461.6L261.5 461.6L263.0 461.6L264.5 461.6L266.0 461.7L267.5 461.6L269.0 461.4L270.5 461.3L272.0 461.1L273.6 461.0L275.1 460.9L276.6 460.7L278.1 460.6L279.6 460.5L281.1 460.4L282.6 460.3L284.1 460.2L285.6 460.1L287.1 460.0L288.6 460.0L290.1 459.9L291.7 459.8L293.2 459.8L294.7 459.7L296.2 459.7L297.7 459.6L299.2 459.6L300.7 459.5L302.2 459.5L303.7 459.5L305.2 459.5L306.7 459.4L308.2 459.4L309.8 459.4L311.3 459.4L312.8 459.4L314.3 459.4L315.8 459.5L317.3 459.5L318.8 459.5L320.3 459.5L321.8 459.6L323.3 459.6L324.8 459.6L326.4 459.7L327.9 459.7L329.4 459.8L330.9 459.8L332.4 459.9L333.9 460.0L335.4 460.0L336.9 460.1L338.4 460.2L339.9 460.2L341.4 460.3L342.9 460.4L344.5 460.5L346.0 460.6L347.5 460.7L349.0 460.8L350.5 460.9L352.0 461.0L353.5 461.1L355.0 461.2L356.5 461.3L358.0 461.5L359.5 461.6L361.1 461.7L362.6 461.8L364.1 462.0L365.6 462.1L367.1 462.2L368.6 462.4L370.1 462.5L371.6 462.7L373.1 462.8L374.6 463.0L376.1 463.1L377.6 463.3L379.2 463.4L380.7 463.6L382.2 463.7L383.7 463.9L385.2 464.1L386.7 464.2L388.2 464.4L389.7 464.6L391.2 464.7L392.7 464.9L394.2 465.1L395.8 465.3L397.3 465.5L398.8 465.6L400.3 465.8L401.8 466.0L403.3 466.2L404.8 466.4L406.3 466.6L407.8 466.7L409.3 466.9L410.8 467.1L412.3 467.3L413.9 467.5L415.4 467.7L416.9 467.9L418.4 468.1L419.9 468.3L421.4 468.5L422.9 468.7L424.4 468.9L425.9 469.1L427.4 469.3L428.9 469.5L430.4 469.7L432.0 469.9L433.5 470.1L435.0 470.3L436.5 470.5L438.0 470.7L439.5 470.9L441.0 470.7L442.5 470.8L444.0 470.8L445.6 470.9L447.1 471.0L448.6 471.0L450.1 471.1L451.6 471.1L453.1 471.2L454.6 471.2L456.1 471.2L457.7 471.3L459.2 471.3L460.7 471.3L462.2 471.4L463.7 471.4L465.2 471.4L466.7 471.4L468.2 471.4L469.8 471.4L471.3 471.4L472.8 471.4L474.3 471.4L475.8 471.4L477.3 471.4L478.8 471.4L480.3 471.4L481.9 471.4L483.4 471.4L484.9 471.4L486.4 471.4L487.9 471.3L489.4 471.3L490.9 471.3L492.4 471.3L494.0 471.2L495.5 471.2L497.0 471.2L498.5 471.1L500.0 471.1L501.5 471.0L503.0 471.0L504.5 471.0L506.1 470.9L507.6 470.9L509.1 470.8L510.6 470.8L512.1 470.7L513.6 470.7L515.1 470.6L516.6 470.6L518.2 470.5L519.7 470.5L521.2 470.4L522.7 470.4L524.2 470.3L525.7 470.3L527.2 470.2L528.7 470.1L530.3 470.1L531.8 470.0L533.3 470.0L534.8 469.9L536.3 469.9L537.8 469.8L539.3 469.8L540.8 469.7L542.4 469.6L543.9 469.6L545.4 469.5L546.9 469.5L548.4 469.4L549.9 469.4L551.4 469.3L552.9 469.3L554.5 469.2L556.0 469.2L557.5 469.1L559.0 469.1L560.5 468.9L562.0 468.9L563.5 468.9L565.0 468.9L566.5 468.8L568.0 468.8L569.5 468.8L571.0 468.8L572.5 468.8L574.0 468.7L575.5 468.7L577.0 468.7L578.5 468.6L580.0 468.6L581.5 468.5L583.1 468.5L584.6 468.5L586.1 468.4L587.6 468.4L589.1 468.3L590.6 468.2L592.1 468.2L593.6 468.1L595.1 468.1L596.6 468.0L598.1 467.9L599.6 467.9L601.1 467.8L602.6 467.7L604.1 467.7L605.6 467.6L607.1 467.5L608.6 467.4L610.1 467.4L611.6 467.3L613.1 467.2L614.6 467.1L616.1 467.0L617.6 466.9L619.1 466.9L620.6 466.8L622.1 466.7L623.6 466.6L625.1 466.5L626.6 466.4L628.2 466.3L629.7 466.2L631.2 466.1L632.7 466.0L634.2 465.9L635.7 465.8L637.2 465.7L638.7 465.6L640.2 465.5L641.7 465.4L643.2 465.3L644.7 465.2L646.2 465.1L647.7 465.0L649.2 464.9L650.7 464.8L652.2 464.7L653.7 464.5L655.2 464.4L656.7 464.3L658.2 464.2L659.7 464.1L661.2 464.0L662.7 463.9L664.2 463.8L665.7 463.7L667.2 463.5L668.7 463.4L670.2 463.3L671.8 463.2L673.3 463.1L674.8 463.0L676.3 462.9L677.8 462.8L679.3 462.7L680.8 462.5L682.3 462.4L683.8 462.3L685.3 462.2L686.8 462.1L688.3 462.0L689.8 461.9L691.3 461.8L692.8 461.7L694.3 461.6L695.8 461.5L697.3 461.3L698.8 461.2L700.3 461.1L701.8 461.0L703.3 460.9L704.8 460.8L706.3 460.7L707.8 460.6L709.3 460.5L710.8 460.4L712.3 460.3L713.8 460.2L715.3 460.1L716.9 460.0L718.4 460.0L719.9 459.9L721.4 459.8L722.9 459.7L724.4 459.6L725.9 459.5L727.4 459.4L728.9 459.3L730.4 459.3L731.9 459.2L733.4 459.1L734.9 459.0L736.4 459.0L737.9 458.9L739.4 458.8L740.9 458.8L742.4 458.7L743.9 458.6L745.4 458.6L746.9 458.5L748.4 458.4L749.9 458.4L751.4 458.3L752.9 458.3L754.4 458.2L755.9 458.2L757.4 458.1L758.9 458.1L760.4 458.0L762.0 458.0L763.5 458.0L765.0 457.9L766.5 457.9L768.0 457.9L769.5 457.8L771.0 457.8L772.5 457.8L774.0 457.8L775.5 457.8L777.0 457.8L778.5 457.7L780.0 457.7L781.5 457.7L783.0 457.7L784.5 457.7L786.0 457.7L787.5 457.8L789.0 457.9L790.5 458.0L792.0 458.1L793.5 458.2L795.0 458.3L796.5 458.4L798.0 458.5L799.5 458.6L801.0 458.7L802.5 458.8L804.0 458.8L805.5 458.9L807.0 459.0L808.6 459.1L810.1 459.1L811.6 459.2L813.1 459.3L814.6 459.3L816.1 459.4L817.6 459.4L819.1 459.5L820.6 459.5L822.1 459.6L823.6 459.6L825.1 459.7L826.6 459.7L828.1 459.7L829.6 459.8L831.1 459.8L832.6 459.8L834.1 459.9L835.6 459.9L837.1 459.9L838.6 459.9L840.1 460.0L841.6 460.0L843.1 460.0L844.6 460.0L846.1 460.0L847.6 460.1L849.1 460.1L850.6 460.1L852.1 460.1L853.6 460.1L855.2 460.1L856.7 460.1L858.2 460.1L859.7 460.1L861.2 460.1L862.7 460.1L864.2 460.1L865.7 460.1L867.2 460.1L868.7 460.1L870.2 460.1L871.7 460.1L873.2 460.1L874.7 460.1L876.2 460.1L877.7 460.0L879.2 460.0L880.7 460.0L882.2 460.0L883.7 460.0L885.2 460.0L886.7 460.0L888.2 460.0L889.7 460.0L891.2 459.9L892.7 459.9L894.2 459.9L895.7 459.9L897.2 459.9L898.7 459.9L900.2 459.9L901.8 459.9L903.3 459.8L904.8 459.8L906.3 459.8L907.8 459.8L909.3 459.8L910.8 459.8L912.3 459.8L913.8 459.8L915.3 459.8L916.8 459.8L918.3 459.7L919.8 459.7L921.3 459.7L922.8 459.7L924.3 459.7L925.8 459.7L927.3 459.7L928.8 459.7L930.3 459.7L931.8 459.7L933.3 459.7L934.8 459.7L936.3 459.7L937.8 459.7L939.3 459.7L940.8 459.7L942.3 459.8L943.8 459.8L945.3 459.8L946.8 459.8L948.3 459.8L949.9 459.8L951.4 459.8L952.9 459.9L954.4 459.9L955.9 459.9L957.4 459.9L958.9 460.0L960.4 460.0L961.9 460.0L963.4 460.1L964.9 460.1L966.4 460.2L967.9 460.2L969.4 460.2L970.9 460.3L972.4 460.3L973.9 460.4L975.4 460.4L976.9 460.5L978.4 460.6L979.9 460.6L981.4 460.7L982.9 460.8L984.4 460.8L985.9 460.9L987.4 461.0L988.9 461.1L990.4 461.1L991.9 461.2L993.4 461.3L994.9 461.4L996.5 461.5L998.0 461.6L999.5 461.7L1001.0 461.8L1002.5 461.9L1004.0 462.0L1005.5 462.1L1007.0 462.3L1008.5 462.4L1010.0 462.5L1011.5 462.6L1013.0 462.8L1014.5 462.9L1016.0 463.1L1017.5 463.2L1019.0 463.4L1020.5 463.7L1022.0 463.9L1023.5 464.1L1025.0 464.3L1026.5 464.5L1028.0 464.7L1029.5 464.9L1031.0 465.1L1032.5 465.3L1034.0 465.5L1035.5 465.7L1037.0 465.9L1038.5 466.2L1040.0 466.4L1041.5 466.6L1043.0 466.9L1044.5 467.1L1046.0 467.4L1047.5 467.6L1049.0 467.9L1050.5 468.2L1052.0 468.4L1053.5 468.7L1055.0 469.0L1056.5 469.2L1058.0 469.5L1059.5 469.7L1061.0 470.0L1062.5 470.2L1064.0 470.4L1065.5 470.7L1067.0 470.9L1068.5 471.1L1070.0 471.3L1071.5 471.5L1073.0 471.8L1074.5 472.0L1076.0 472.2L1077.5 472.4L1079.0 472.6L1080.5 472.6L1082.0 472.6L1083.5 472.6L1085.0 472.6L1086.5 472.6L1088.0 472.6L1089.5 472.6L1091.0 472.6L1092.5 472.6L1094.0 472.6L1095.5 472.6L1097.0 472.6L1098.5 472.6L1100.0 472.6L1101.5 472.6L1103.0 472.6L1104.5 472.6L1106.0 472.6L1107.5 472.6L1109.0 472.6L1110.5 472.5L1112.0 472.5L1113.5 472.5L1115.0 472.5L1116.5 472.5L1118.0 472.5L1119.5 472.4L1121.0 472.4L1122.5 472.4L1124.0 472.4L1125.5 472.3L1127.0 472.3L1128.5 472.3L1130.0 472.3L1131.5 472.2L1133.0 472.2L1134.5 472.2L1136.0 472.2L1137.5 472.1L1139.0 472.1L1140.5 472.1L1142.0 472.1L1143.5 472.0L1145.0 472.0L1146.5 472.0L1148.0 471.9L1149.5 471.9L1151.0 471.9L1152.5 471.9L1154.0 471.8L1155.5 471.8L1157.0 471.7L1158.5 471.7L1160.0 471.7L1161.5 471.6L1163.0 471.6L1164.5 471.5L1166.0 471.5L1167.5 471.5L1169.0 471.4L1170.5 471.4L1172.0 471.3L1173.5 471.3L1175.0 471.2L1176.5 471.2L1178.0 471.1L1179.5 471.1L1181.0 471.1L1182.5 471.0L1184.0 471.0L1185.5 471.0L1187.0 470.9L1188.5 470.9L1190.0 470.9L1191.5 470.8L1193.0 470.8L1194.5 470.8L1196.0 470.7L1197.5 470.7L1199.0 470.7L1200.5 470.6L1202.0 470.6L1203.5 470.6L1205.0 470.5L1206.5 470.5L1208.0 470.5L1209.5 470.4L1211.0 470.4L1212.5 470.4L1214.0 470.3L1215.5 470.3L1217.0 470.3L1218.5 470.2L1220.0 470.2L1221.5 470.2L1223.0 470.1L1224.5 470.1L1226.0 470.1L1227.5 470.0L1229.0 470.0L1230.5 470.0L1232.0 469.9L1233.5 469.9L1235.0 469.9L1236.5 469.8L1238.0 469.8L1239.5 469.7L1241.0 469.7L1242.5 469.7L1244.0 469.6L1245.5 469.6L1247.0 469.6L1248.5 469.5L1250.0 469.5L1251.5 469.5L1253.0 469.4L1254.5 469.4L1256.0 469.4L1257.5 469.3L1259.0 469.3L1260.5 469.3L1262.0 469.3L1263.5 469.2L1265.0 469.2L1266.5 469.2L1268.0 469.2L1269.5 469.1L1271.0 469.1L1272.5 469.1L1274.0 469.0L1275.5 469.0L1277.0 469.0L1278.5 469.0L1280.0 468.9L1281.5 468.9L1283.0 468.9M1283.0 461.7L1284.5 461.7L1286.0 461.7L1287.5 461.7L1289.0 461.7L1290.5 461.7L1292.1 461.7L1293.6 461.7L1295.1 461.8L1296.6 461.8L1298.1 461.8L1299.6 461.8L1301.1 461.9L1302.6 461.9L1304.1 461.9L1305.6 462.0L1307.1 462.0L1308.7 462.1L1310.2 462.1L1311.7 462.2L1313.2 462.2L1314.7 462.3L1316.2 462.3L1317.7 462.4L1319.2 462.5L1320.7 462.5L1322.2 462.6L1323.7 462.7L1325.3 462.8L1326.8 462.9L1328.3 462.9L1329.8 463.0L1331.3 463.1L1332.8 463.2L1334.3 463.3L1335.8 463.4L1337.3 463.5L1338.8 463.6L1340.3 463.7L1341.9 463.8L1343.4 463.9L1344.9 464.0L1346.4 464.1L1347.9 464.2L1349.4 464.3L1350.9 464.4L1352.4 464.5L1353.9 464.6L1355.4 464.8L1356.9 464.9L1358.5 465.0L1360.0 465.1L1361.5 465.2L1363.0 465.3L1364.5 465.5L1366.0 465.6L1367.5 465.7L1369.0 465.8L1370.5 465.9L1372.0 466.1L1373.6 466.2L1375.1 466.3L1376.6 466.4L1378.1 466.6L1379.6 466.7L1381.1 466.8L1382.6 466.9L1384.1 467.1L1385.6 467.2L1387.1 467.3L1388.6 467.4L1390.2 467.6L1391.7 467.7L1393.2 467.8L1394.7 467.9L1396.2 468.0L1397.7 468.2L1399.2 468.3L1400.7 468.4L1402.2 468.5L1403.7 468.6L1405.2 468.8L1406.8 468.9L1408.3 469.0L1409.8 469.1L1411.3 469.2L1412.8 469.3L1414.3 469.4L1415.8 469.5L1417.3 469.6L1418.8 469.7L1420.3 469.8L1421.8 469.9L1423.4 470.0L1424.9 470.1L1426.4 470.2L1427.9 470.3L1429.4 470.4L1430.9 470.5L1432.4 470.6L1433.9 470.7L1435.4 470.8L1436.9 470.8L1438.4 470.9L1440.0 471.0L1441.5 471.1L1443.0 471.1L1444.5 471.2L1446.0 471.3L1447.5 471.3"/><path d="M285.0 461.8L286.5 461.7L288.0 461.5L289.5 461.4L291.0 461.3L292.5 461.2L294.0 461.1L295.5 461.0L297.0 460.9L298.5 460.8L300.0 460.8L301.5 460.7L303.0 460.6L304.5 460.6L306.0 460.5L307.5 460.5L309.0 460.5L310.5 460.4L312.0 460.4L313.5 460.4L315.0 460.4L316.5 460.4L318.0 460.4L319.5 460.4L321.0 460.4L322.5 460.5L324.0 460.5L325.5 460.5L327.0 460.6L328.5 460.6L330.0 460.7L331.5 460.7L333.0 460.8L334.5 460.8L336.0 460.9L337.5 461.0L339.0 461.1L340.5 461.1L342.0 461.2L343.5 461.3L345.0 461.4L346.5 461.5L348.0 461.6L349.5 461.7L351.0 461.8L352.5 462.0L354.0 462.1L355.5 462.2L357.0 462.3L358.5 462.5L360.0 462.6L361.5 462.7L363.0 462.9L364.5 463.0L366.0 463.2L367.5 463.3L369.0 463.5L370.5 463.6L372.0 463.8L373.5 463.9L375.0 464.1L376.5 464.3L378.0 464.4L379.5 464.6L381.0 464.8L382.5 464.9L384.0 465.1L385.5 465.3L387.0 465.5L388.5 465.6L390.0 465.8L391.5 466.0L393.0 466.2L394.5 466.4L396.0 466.6L397.5 466.7L399.0 466.9L400.5 467.1L402.0 467.3L403.5 467.5L405.0 467.7L406.5 467.9L408.0 468.1L409.5 468.2L411.0 468.4L412.5 468.6L414.0 468.8L415.5 469.0L417.0 469.2L418.5 469.4L420.0 469.6L421.5 469.8L423.0 469.9L424.5 470.1L426.0 470.3L427.5 470.5L429.0 470.7L430.5 470.9L432.0 471.0L433.5 471.2L435.0 471.4L436.5 471.6L438.0 471.8L439.5 471.9L441.0 471.9L442.5 471.9L444.0 472.0L445.5 472.1L447.0 472.1L448.5 472.2L450.0 472.3L451.5 472.3L453.0 472.4L454.5 472.4L456.0 472.4L457.5 472.5L459.0 472.5L460.5 472.5L462.0 472.5L463.5 472.5L465.0 472.5L466.5 472.6L468.0 472.6L469.5 472.6L471.0 472.6L472.5 472.6L474.0 472.6L475.5 472.6L477.0 472.6L478.5 472.6L480.0 472.6"/><path d="M78.5 460.7L80.0 460.9L81.5 461.0L83.0 461.1L84.5 461.2L86.0 461.3L87.5 461.4L89.0 461.6L90.5 461.7L92.0 461.8L93.5 461.9L95.0 462.0L96.5 462.2L98.0 462.3L99.5 462.4L101.0 462.6L102.5 462.7L104.0 462.8L105.5 463.0L107.0 463.1L108.5 463.2L110.0 463.4L111.5 463.5L113.0 463.6L114.5 463.8L116.0 463.9L117.5 464.1L119.0 464.2L120.5 464.3L122.0 464.5L123.5 464.6L125.0 464.8L126.5 464.9L128.0 465.1L129.5 465.2L131.0 465.3L132.5 465.5L134.0 465.6L135.5 465.8L137.0 465.9L138.5 466.1L140.0 466.2L141.5 466.4L143.0 466.5L144.5 466.6L146.0 466.8L147.5 466.9L149.0 467.1L150.5 467.2L152.0 467.4L153.5 467.5L155.0 467.6L156.5 467.8L158.0 467.9L159.5 468.1L161.0 468.2L162.5 468.3L164.0 468.5L165.5 468.6L167.0 468.7L168.5 468.9L170.0 469.0L171.5 469.1L173.0 469.3L174.5 469.4L176.0 469.5L177.5 469.7L179.0 469.8L180.5 469.9L182.0 470.0L183.5 470.1L185.0 470.3L186.5 470.4L188.0 470.5L189.5 470.6L191.0 470.7L192.5 470.9L194.0 471.0L195.5 471.1L197.0 471.2L198.5 471.3L200.0 471.4L201.5 471.5L203.0 471.6L204.5 471.7L206.0 471.8L207.5 471.9L209.0 472.0L210.5 472.1L212.0 472.1L213.5 472.2L215.0 472.3L216.5 472.4L218.0 472.5L219.5 472.5L221.0 472.6L222.5 472.7L224.0 472.8L225.5 472.8L227.0 472.9L228.5 472.9L230.0 473.0L231.5 473.1L233.0 473.1L234.5 473.2L236.0 473.2L237.5 473.2L239.0 473.3L240.5 473.3L242.0 473.3L243.5 473.4L245.0 473.4L246.5 473.4L248.0 473.4L249.5 473.5L251.0 473.5L252.5 473.5L254.0 473.5L255.5 473.5L257.0 473.5L258.5 473.5L260.0 473.5L261.5 473.5L263.0 473.4L264.5 473.4L266.0 473.5L267.5 473.6L269.0 473.7L270.5 473.9L272.0 474.0L273.6 474.1L275.1 474.3L276.6 474.4L278.1 474.6L279.6 474.7L281.1 474.8L282.6 475.0L284.1 475.1L285.6 475.3L287.1 475.4L288.6 475.6L290.1 475.7L291.7 475.9L293.2 476.0L294.7 476.1L296.2 476.3L297.7 476.4L299.2 476.6L300.7 476.7L302.2 476.9L303.7 477.0L305.2 477.2L306.7 477.3L308.2 477.4L309.8 477.6L311.3 477.7L312.8 477.9L314.3 478.0L315.8 478.1L317.3 478.3L318.8 478.4L320.3 478.6L321.8 478.7L323.3 478.8L324.8 478.9L326.4 479.1L327.9 479.2L329.4 479.3L330.9 479.5L332.4 479.6L333.9 479.7L335.4 479.8L336.9 479.9L338.4 480.0L339.9 480.2L341.4 480.3L342.9 480.4L344.5 480.5L346.0 480.6L347.5 480.7L349.0 480.8L350.5 480.9L352.0 480.9L353.5 481.0L355.0 481.1L356.5 481.2L358.0 481.3L359.5 481.4L361.1 481.4L362.6 481.5L364.1 481.6L365.6 481.6L367.1 481.7L368.6 481.7L370.1 481.8L371.6 481.8L373.1 481.9L374.6 481.9L376.1 481.9L377.6 482.0L379.2 482.0L380.7 482.0L382.2 482.1L383.7 482.1L385.2 482.1L386.7 482.1L388.2 482.1L389.7 482.1L391.2 482.1L392.7 482.1L394.2 482.0L395.8 482.0L397.3 482.0L398.8 482.0L400.3 481.9L401.8 481.9L403.3 481.8L404.8 481.8L406.3 481.7L407.8 481.7L409.3 481.6L410.8 481.5L412.3 481.5L413.9 481.4L415.4 481.3L416.9 481.2L418.4 481.1L419.9 481.0L421.4 480.9L422.9 480.8L424.4 480.6L425.9 480.5L427.4 480.4L428.9 480.2L430.4 480.1L432.0 479.9L433.5 479.8L435.0 479.6L436.5 479.4L438.0 479.3L439.5 479.1L441.0 479.4L442.5 479.3L444.0 479.3L445.6 479.2L447.1 479.1L448.6 479.1L450.1 479.0L451.6 478.9L453.1 478.9L454.6 478.8L456.1 478.7L457.7 478.6L459.2 478.5L460.7 478.5L462.2 478.4L463.7 478.3L465.2 478.2L466.7 478.1L468.2 478.0L469.8 477.9L471.3 477.8L472.8 477.7L474.3 477.6L475.8 477.5L477.3 477.5L478.8 477.4L480.3 477.3L481.9 477.2L483.4 477.1L484.9 477.0L486.4 476.9L487.9 476.8L489.4 476.7L490.9 476.6L492.4 476.5L494.0 476.4L495.5 476.3L497.0 476.2L498.5 476.1L500.0 476.0L501.5 475.9L503.0 475.8L504.5 475.7L506.1 475.6L507.6 475.5L509.1 475.4L510.6 475.3L512.1 475.2L513.6 475.1L515.1 475.0L516.6 474.9L518.2 474.9L519.7 474.8L521.2 474.7L522.7 474.6L524.2 474.5L525.7 474.5L527.2 474.4L528.7 474.3L530.3 474.2L531.8 474.2L533.3 474.1L534.8 474.0L536.3 474.0L537.8 473.9L539.3 473.9L540.8 473.8L542.4 473.8L543.9 473.7L545.4 473.7L546.9 473.6L548.4 473.6L549.9 473.6L551.4 473.5L552.9 473.5L554.5 473.5L556.0 473.5L557.5 473.4L559.0 473.4L560.5 473.5L562.0 473.5L563.5 473.5L565.0 473.4L566.5 473.4L568.0 473.4L569.5 473.4L571.0 473.4L572.5 473.3L574.0 473.3L575.5 473.3L577.0 473.2L578.5 473.2L580.0 473.1L581.5 473.1L583.1 473.1L584.6 473.0L586.1 473.0L587.6 472.9L589.1 472.9L590.6 472.8L592.1 472.8L593.6 472.7L595.1 472.6L596.6 472.6L598.1 472.5L599.6 472.4L601.1 472.4L602.6 472.3L604.1 472.2L605.6 472.2L607.1 472.1L608.6 472.0L610.1 471.9L611.6 471.9L613.1 471.8L614.6 471.7L616.1 471.6L617.6 471.5L619.1 471.4L620.6 471.4L622.1 471.3L623.6 471.2L625.1 471.1L626.6 471.0L628.2 470.9L629.7 470.8L631.2 470.7L632.7 470.6L634.2 470.5L635.7 470.4L637.2 470.3L638.7 470.2L640.2 470.1L641.7 470.0L643.2 469.9L644.7 469.8L646.2 469.7L647.7 469.6L649.2 469.5L650.7 469.4L652.2 469.3L653.7 469.1L655.2 469.0L656.7 468.9L658.2 468.8L659.7 468.7L661.2 468.6L662.7 468.5L664.2 468.4L665.7 468.2L667.2 468.1L668.7 468.0L670.2 467.9L671.8 467.8L673.3 467.7L674.8 467.5L676.3 467.4L677.8 467.3L679.3 467.2L680.8 467.1L682.3 467.0L683.8 466.8L685.3 466.7L686.8 466.6L688.3 466.5L689.8 466.4L691.3 466.3L692.8 466.1L694.3 466.0L695.8 465.9L697.3 465.8L698.8 465.7L700.3 465.6L701.8 465.4L703.3 465.3L704.8 465.2L706.3 465.1L707.8 465.0L709.3 464.9L710.8 464.8L712.3 464.7L713.8 464.5L715.3 464.4L716.9 464.3L718.4 464.2L719.9 464.1L721.4 464.0L722.9 463.9L724.4 463.8L725.9 463.7L727.4 463.6L728.9 463.5L730.4 463.4L731.9 463.3L733.4 463.2L734.9 463.1L736.4 463.0L737.9 462.9L739.4 462.8L740.9 462.7L742.4 462.6L743.9 462.5L745.4 462.4L746.9 462.3L748.4 462.2L749.9 462.1L751.4 462.0L752.9 462.0L754.4 461.9L755.9 461.8L757.4 461.7L758.9 461.6L760.4 461.6L762.0 461.5L763.5 461.4L765.0 461.3L766.5 461.3L768.0 461.2L769.5 461.1L771.0 461.1L772.5 461.0L774.0 460.9L775.5 460.9L777.0 460.8L778.5 460.8L780.0 460.7L781.5 460.7L783.0 460.6L784.5 460.6L786.0 460.6L787.5 460.7L789.0 460.8L790.5 460.9L792.0 460.9L793.5 461.0L795.0 461.1L796.5 461.3L798.0 461.4L799.5 461.5L801.0 461.6L802.5 461.7L804.0 461.8L805.5 462.0L807.0 462.1L808.6 462.2L810.1 462.4L811.6 462.5L813.1 462.6L814.6 462.8L816.1 462.9L817.6 463.1L819.1 463.2L820.6 463.4L822.1 463.6L823.6 463.7L825.1 463.9L826.6 464.1L828.1 464.2L829.6 464.4L831.1 464.6L832.6 464.8L834.1 464.9L835.6 465.1L837.1 465.3L838.6 465.5L840.1 465.7L841.6 465.9L843.1 466.1L844.6 466.3L846.1 466.5L847.6 466.6L849.1 466.8L850.6 467.0L852.1 467.2L853.6 467.4L855.2 467.7L856.7 467.9L858.2 468.1L859.7 468.3L861.2 468.5L862.7 468.7L864.2 468.9L865.7 469.1L867.2 469.3L868.7 469.5L870.2 469.7L871.7 469.9L873.2 470.2L874.7 470.4L876.2 470.6L877.7 470.8L879.2 471.0L880.7 471.2L882.2 471.4L883.7 471.6L885.2 471.8L886.7 472.1L888.2 472.3L889.7 472.5L891.2 472.7L892.7 472.9L894.2 473.1L895.7 473.3L897.2 473.5L898.7 473.7L900.2 473.9L901.8 474.1L903.3 474.3L904.8 474.5L906.3 474.7L907.8 474.9L909.3 475.1L910.8 475.3L912.3 475.5L913.8 475.7L915.3 475.9L916.8 476.1L918.3 476.3L919.8 476.5L921.3 476.7L922.8 476.8L924.3 477.0L925.8 477.2L927.3 477.4L928.8 477.6L930.3 477.7L931.8 477.9L933.3 478.1L934.8 478.2L936.3 478.4L937.8 478.5L939.3 478.7L940.8 478.9L942.3 479.0L943.8 479.2L945.3 479.3L946.8 479.4L948.3 479.6L949.9 479.7L951.4 479.8L952.9 480.0L954.4 480.1L955.9 480.2L957.4 480.3L958.9 480.4L960.4 480.6L961.9 480.7L963.4 480.8L964.9 480.9L966.4 481.0L967.9 481.0L969.4 481.1L970.9 481.2L972.4 481.3L973.9 481.4L975.4 481.4L976.9 481.5L978.4 481.6L979.9 481.6L981.4 481.7L982.9 481.7L984.4 481.7L985.9 481.8L987.4 481.8L988.9 481.8L990.4 481.8L991.9 481.9L993.4 481.9L994.9 481.9L996.5 481.9L998.0 481.9L999.5 481.9L1001.0 481.8L1002.5 481.8L1004.0 481.8L1005.5 481.7L1007.0 481.7L1008.5 481.7L1010.0 481.6L1011.5 481.5L1013.0 481.5L1014.5 481.4L1016.0 481.3L1017.5 481.2L1019.0 481.1L1020.5 480.8L1022.0 480.6L1023.5 480.4L1025.0 480.1L1026.5 479.9L1028.0 479.7L1029.5 479.5L1031.0 479.3L1032.5 479.1L1034.0 478.9L1035.5 478.6L1037.0 478.4L1038.5 478.2L1040.0 478.0L1041.5 477.8L1043.0 477.6L1044.5 477.4L1046.0 477.1L1047.5 476.9L1049.0 476.7L1050.5 476.5L1052.0 476.3L1053.5 476.1L1055.0 475.9L1056.5 475.7L1058.0 475.5L1059.5 475.3L1061.0 475.1L1062.5 474.9L1064.0 474.7L1065.5 474.5L1067.0 474.3L1068.5 474.1L1070.0 473.9L1071.5 473.7L1073.0 473.5L1074.5 473.3L1076.0 473.2L1077.5 473.0L1079.0 472.8L1080.5 472.8L1082.0 472.9L1083.5 473.0L1085.0 473.0L1086.5 473.1L1088.0 473.2L1089.5 473.2L1091.0 473.3L1092.5 473.4L1094.0 473.5L1095.5 473.6L1097.0 473.7L1098.5 473.8L1100.0 473.9L1101.5 474.0L1103.0 474.1L1104.5 474.2L1106.0 474.4L1107.5 474.5L1109.0 474.6L1110.5 474.7L1112.0 474.8L1113.5 475.0L1115.0 475.1L1116.5 475.2L1118.0 475.3L1119.5 475.5L1121.0 475.6L1122.5 475.7L1124.0 475.9L1125.5 476.0L1127.0 476.1L1128.5 476.3L1130.0 476.4L1131.5 476.5L1133.0 476.7L1134.5 476.8L1136.0 476.9L1137.5 477.0L1139.0 477.2L1140.5 477.3L1142.0 477.4L1143.5 477.5L1145.0 477.6L1146.5 477.7L1148.0 477.8L1149.5 478.0L1151.0 478.1L1152.5 478.2L1154.0 478.3L1155.5 478.3L1157.0 478.4L1158.5 478.5L1160.0 478.6L1161.5 478.7L1163.0 478.8L1164.5 478.8L1166.0 478.9L1167.5 478.9L1169.0 479.0L1170.5 479.0L1172.0 479.1L1173.5 479.1L1175.0 479.1L1176.5 479.2L1178.0 479.2L1179.5 479.2L1181.0 479.5L1182.5 479.3L1184.0 479.2L1185.5 479.0L1187.0 478.9L1188.5 478.8L1190.0 478.6L1191.5 478.5L1193.1 478.3L1194.6 478.2L1196.1 478.1L1197.6 477.9L1199.1 477.8L1200.6 477.7L1202.1 477.6L1203.6 477.4L1205.1 477.3L1206.6 477.2L1208.1 477.1L1209.6 477.0L1211.1 476.9L1212.6 476.8L1214.1 476.6L1215.6 476.5L1217.1 476.4L1218.6 476.3L1220.2 476.2L1221.7 476.1L1223.2 476.0L1224.7 475.9L1226.2 475.8L1227.7 475.8L1229.2 475.7L1230.7 475.6L1232.2 475.5L1233.7 475.4L1235.2 475.3L1236.7 475.2L1238.2 475.2L1239.7 475.1L1241.2 475.0L1242.7 474.9L1244.2 474.9L1245.7 474.8L1247.3 474.7L1248.8 474.7L1250.3 474.6L1251.8 474.5L1253.3 474.5L1254.8 474.4L1256.3 474.4L1257.8 474.3L1259.3 474.3L1260.8 474.2L1262.3 474.2L1263.8 474.1L1265.3 474.1L1266.8 474.0L1268.3 474.0L1269.8 473.9L1271.3 473.9L1272.8 473.9L1274.4 473.8L1275.9 473.8L1277.4 473.8L1278.9 473.7L1280.4 473.7L1281.9 473.7L1283.4 473.6L1284.9 473.6L1286.4 473.6L1287.9 473.6L1289.4 473.6L1290.9 473.5L1292.4 473.5L1293.9 473.5L1295.4 473.5L1296.9 473.5L1298.4 473.5L1299.9 473.5L1301.5 473.5L1303.0 473.5L1304.5 473.5L1306.0 473.5L1307.5 473.5L1309.0 473.5L1310.5 473.5L1312.0 473.5L1313.5 473.5L1315.0 473.5L1316.5 473.5L1318.0 473.6L1319.5 473.6L1321.0 473.6L1322.5 473.6L1324.0 473.6L1325.5 473.6L1327.1 473.7L1328.6 473.7L1330.1 473.7L1331.6 473.8L1333.1 473.8L1334.6 473.8L1336.1 473.9L1337.6 473.9L1339.1 473.9L1340.6 474.0L1342.1 474.0L1343.6 474.1L1345.1 474.1L1346.6 474.1L1348.1 474.2L1349.6 474.2L1351.1 474.3L1352.6 474.3L1354.2 474.4L1355.7 474.4L1357.2 474.5L1358.7 474.6L1360.2 474.6L1361.7 474.7L1363.2 474.7L1364.7 474.8L1366.2 474.9L1367.7 474.9L1369.2 475.0L1370.7 475.1L1372.2 475.1L1373.7 475.2L1375.2 475.3L1376.7 475.4L1378.2 475.4L1379.7 475.5L1381.3 475.6L1382.8 475.7L1384.3 475.8L1385.8 475.8L1387.3 475.9L1388.8 476.0L1390.3 476.1L1391.8 476.2L1393.3 476.3L1394.8 476.4L1396.3 476.4L1397.8 476.5L1399.3 476.6L1400.8 476.7L1402.3 476.8L1403.8 476.9L1405.3 477.0L1406.8 477.1L1408.4 477.2L1409.9 477.3L1411.4 477.4L1412.9 477.5L1414.4 477.6L1415.9 477.7L1417.4 477.8L1418.9 477.9L1420.4 478.0L1421.9 478.2L1423.4 478.3L1424.9 478.4L1426.4 478.5L1427.9 478.6L1429.4 478.7L1430.9 478.8L1432.4 478.9L1433.9 479.1L1435.5 479.2L1437.0 479.3L1438.5 479.4L1440.0 479.5L1441.5 479.6L1443.0 479.8L1444.5 479.9L1446.0 480.0L1447.5 480.1"/><path d="M830.0 465.8L831.5 466.0L833.0 466.3L834.5 466.5L836.1 466.7L837.6 466.9L839.1 467.2L840.6 467.4L842.1 467.6L843.6 467.8L845.2 468.0L846.7 468.2L848.2 468.5L849.7 468.7L851.2 468.9L852.7 469.1L854.2 469.3L855.8 469.5L857.3 469.7L858.8 469.9L860.3 470.1L861.8 470.3L863.3 470.5L864.8 470.7L866.4 470.9L867.9 471.1L869.4 471.3L870.9 471.5L872.4 471.6L873.9 471.8L875.5 472.0L877.0 472.2L878.5 472.4L880.0 472.6L881.5 472.8L883.0 473.0L884.5 473.1L886.1 473.3L887.6 473.5L889.1 473.7L890.6 473.9L892.1 474.1L893.6 474.3L895.2 474.5L896.7 474.6L898.2 474.8L899.7 475.0L901.2 475.2L902.7 475.4L904.2 475.6L905.8 475.8L907.3 476.0L908.8 476.2L910.3 476.3L911.8 476.5L913.3 476.7L914.8 476.9L916.4 477.1L917.9 477.3L919.4 477.5L920.9 477.7L922.4 477.9L923.9 478.1L925.5 478.3L927.0 478.5L928.5 478.7L930.0 478.9"/><path d="M78.5 485.2L80.0 485.2L81.5 485.1L83.0 485.1L84.5 485.0L86.0 485.0L87.5 485.0L89.0 485.0L90.5 485.0L92.0 485.0L93.5 485.0L95.0 485.0L96.5 485.0L98.0 485.0L99.5 485.1L101.0 485.1L102.5 485.2L104.0 485.2L105.5 485.3L107.0 485.4L108.5 485.5L110.0 485.6L111.5 485.7L113.0 485.8L114.5 485.9L116.0 486.0L117.5 486.1L119.0 486.2L120.5 486.3L122.0 486.5L123.5 486.6L125.0 486.8L126.5 486.9L128.0 487.1L129.5 487.2L131.0 487.4L132.5 487.6L134.0 487.7L135.5 487.9L137.0 488.1L138.5 488.3L140.0 488.5L141.5 488.7L143.0 488.9L144.5 489.1L146.0 489.3L147.5 489.5L149.0 489.7L150.5 489.9L152.0 490.1L153.5 490.3L155.0 490.6L156.5 490.8L158.0 491.0L159.5 491.3L161.0 491.5L162.5 491.7L164.0 492.0L165.5 492.2L167.0 492.4L168.5 492.7L170.0 492.9L171.5 493.2L173.0 493.4L174.5 493.7L176.0 493.9L177.5 494.2L179.0 494.4L180.5 494.7L182.0 494.9L183.5 495.2L185.0 495.4L186.5 495.7L188.0 495.9L189.5 496.2L191.0 496.4L192.5 496.7L194.0 496.9L195.5 497.2L197.0 497.4L198.5 497.7L200.0 497.9L201.5 498.2L203.0 498.4L204.5 498.7L206.0 498.9L207.5 499.2L209.0 499.4L210.5 499.6L212.0 499.9L213.5 500.1L215.0 500.3L216.5 500.6L218.0 500.8L219.5 501.0L221.0 501.2L222.5 501.5L224.0 501.7L225.5 501.9L227.0 502.1L228.5 502.3L230.0 502.5L231.5 502.7L233.0 502.9L234.5 503.1L236.0 503.3L237.5 503.5L239.0 503.7L240.5 503.8L242.0 504.0L243.5 504.2L245.0 504.3L246.5 504.5L248.0 504.6L249.5 504.8L251.0 504.9L252.5 505.1L254.0 505.2L255.5 505.3L257.0 505.4L258.5 505.6L260.0 505.7L261.5 505.8L263.0 505.9L264.5 506.0L266.0 506.0L267.5 505.9L269.0 505.8L270.5 505.7L272.0 505.6L273.6 505.5L275.1 505.5L276.6 505.4L278.1 505.3L279.6 505.2L281.1 505.1L282.6 505.0L284.1 504.9L285.6 504.8L287.1 504.7L288.6 504.6L290.1 504.5L291.7 504.5L293.2 504.4L294.7 504.3L296.2 504.2L297.7 504.1L299.2 504.0L300.7 503.9L302.2 503.8L303.7 503.7L305.2 503.6L306.7 503.5L308.2 503.4L309.8 503.3L311.3 503.2L312.8 503.1L314.3 503.0L315.8 502.9L317.3 502.8L318.8 502.7L320.3 502.6L321.8 502.5L323.3 502.4L324.8 502.3L326.4 502.2L327.9 502.1L329.4 502.0L330.9 501.9L332.4 501.8L333.9 501.7L335.4 501.6L336.9 501.5L338.4 501.5L339.9 501.4L341.4 501.3L342.9 501.2L344.5 501.1L346.0 501.0L347.5 500.9L349.0 500.8L350.5 500.8L352.0 500.7L353.5 500.6L355.0 500.5L356.5 500.5L358.0 500.4L359.5 500.3L361.1 500.2L362.6 500.2L364.1 500.1L365.6 500.0L367.1 500.0L368.6 499.9L370.1 499.8L371.6 499.8L373.1 499.7L374.6 499.7L376.1 499.6L377.6 499.5L379.2 499.5L380.7 499.4L382.2 499.4L383.7 499.4L385.2 499.3L386.7 499.3L388.2 499.2L389.7 499.2L391.2 499.2L392.7 499.1L394.2 499.1L395.8 499.1L397.3 499.1L398.8 499.1L400.3 499.0L401.8 499.0L403.3 499.0L404.8 499.0L406.3 499.0L407.8 499.0L409.3 499.0L410.8 499.0L412.3 499.0L413.9 499.0L415.4 499.0L416.9 499.1L418.4 499.1L419.9 499.1L421.4 499.1L422.9 499.2L424.4 499.2L425.9 499.2L427.4 499.3L428.9 499.3L430.4 499.4L432.0 499.4L433.5 499.5L435.0 499.6L436.5 499.6L438.0 499.7L439.5 499.8L441.0 499.6L442.5 499.6L444.0 499.6L445.6 499.6L447.1 499.6L448.6 499.6L450.1 499.6L451.6 499.6L453.1 499.6L454.6 499.6L456.1 499.6L457.7 499.6L459.2 499.6L460.7 499.6L462.2 499.6L463.7 499.6L465.2 499.6L466.7 499.6L468.2 499.6L469.8 499.6L471.3 499.6L472.8 499.6L474.3 499.6L475.8 499.6L477.3 499.6L478.8 499.6L480.3 499.6L481.9 499.6L483.4 499.5L484.9 499.5L486.4 499.5L487.9 499.5L489.4 499.5L490.9 499.5L492.4 499.5L494.0 499.5L495.5 499.5L497.0 499.5L498.5 499.5L500.0 499.5L501.5 499.5L503.0 499.5L504.5 499.5L506.1 499.5L507.6 499.5L509.1 499.5L510.6 499.5L512.1 499.4L513.6 499.4L515.1 499.4L516.6 499.4L518.2 499.4L519.7 499.4L521.2 499.4L522.7 499.4L524.2 499.4L525.7 499.4L527.2 499.4L528.7 499.4L530.3 499.4L531.8 499.3L533.3 499.3L534.8 499.3L536.3 499.3L537.8 499.3L539.3 499.3L540.8 499.3L542.4 499.3L543.9 499.3L545.4 499.2L546.9 499.2L548.4 499.2L549.9 499.1L551.4 499.1L552.9 499.1L554.5 499.0L556.0 499.0L557.5 498.9L559.0 498.9L560.5 498.6L562.0 498.7L563.5 498.8L565.0 498.9L566.5 499.0L568.0 499.1L569.5 499.2L571.0 499.4L572.5 499.5L574.0 499.6L575.5 499.8L577.0 499.9L578.5 500.1L580.0 500.3L581.5 500.4L583.1 500.6L584.6 500.8L586.1 500.9L587.6 501.1L589.1 501.3L590.6 501.5L592.1 501.7L593.6 501.9L595.1 502.1L596.6 502.2L598.1 502.4L599.6 502.6L601.1 502.8L602.6 503.0L604.1 503.2L605.6 503.4L607.1 503.6L608.6 503.8L610.1 504.0L611.6 504.2L613.1 504.4L614.6 504.5L616.1 504.7L617.6 504.9L619.1 505.1L620.6 505.3L622.1 505.4L623.6 505.6L625.1 505.8L626.6 505.9L628.2 506.1L629.7 506.3L631.2 506.4L632.7 506.5L634.2 506.7L635.7 506.8L637.2 506.9L638.7 507.1L640.2 507.2L641.7 507.3L643.2 507.4L644.7 507.5L646.2 507.6L647.7 507.6L649.2 507.7L650.7 507.8L652.2 507.8L653.7 507.9L655.2 507.9L656.7 507.9L658.2 507.9L659.7 507.9L661.2 507.9L662.7 507.9L664.2 507.9L665.7 507.9L667.2 507.8L668.7 507.8L670.2 507.7L671.8 507.6L673.3 507.5L674.8 507.4L676.3 507.3L677.8 507.1L679.3 507.0L680.8 506.8L682.3 506.7L683.8 506.5L685.3 506.3L686.8 506.1L688.3 505.8L689.8 505.6L691.3 505.4L692.8 505.1L694.3 504.8L695.8 504.6L697.3 504.3L698.8 504.0L700.3 503.7L701.8 503.3L703.3 503.0L704.8 502.7L706.3 502.4L707.8 502.0L709.3 501.7L710.8 501.3L712.3 500.9L713.8 500.6L715.3 500.2L716.9 499.8L718.4 499.4L719.9 499.1L721.4 498.7L722.9 498.3L724.4 497.9L725.9 497.5L727.4 497.1L728.9 496.7L730.4 496.3L731.9 495.9L733.4 495.5L734.9 495.1L736.4 494.7L737.9 494.3L739.4 493.9L740.9 493.5L742.4 493.1L743.9 492.7L745.4 492.3L746.9 492.0L748.4 491.6L749.9 491.2L751.4 490.8L752.9 490.5L754.4 490.1L755.9 489.7L757.4 489.4L758.9 489.1L760.4 488.7L762.0 488.4L763.5 488.1L765.0 487.8L766.5 487.5L768.0 487.2L769.5 486.9L771.0 486.6L772.5 486.3L774.0 486.1L775.5 485.8L777.0 485.6L778.5 485.4L780.0 485.2L781.5 485.0L783.0 484.8L784.5 484.6L786.0 485.2L787.5 485.2L789.0 485.1L790.5 485.0L792.0 485.0L793.5 484.9L795.0 484.9L796.5 484.8L798.0 484.8L799.5 484.8L801.0 484.7L802.5 484.7L804.0 484.7L805.5 484.7L807.0 484.6L808.6 484.6L810.1 484.6L811.6 484.6L813.1 484.6L814.6 484.6L816.1 484.6L817.6 484.6L819.1 484.7L820.6 484.7L822.1 484.7L823.6 484.7L825.1 484.8L826.6 484.8L828.1 484.8L829.6 484.9L831.1 484.9L832.6 485.0L834.1 485.0L835.6 485.1L837.1 485.1L838.6 485.2L840.1 485.2L841.6 485.3L843.1 485.4L844.6 485.5L846.1 485.5L847.6 485.6L849.1 485.7L850.6 485.8L852.1 485.9L853.6 485.9L855.2 486.0L856.7 486.1L858.2 486.2L859.7 486.3L861.2 486.4L862.7 486.6L864.2 486.7L865.7 486.8L867.2 486.9L868.7 487.0L870.2 487.1L871.7 487.2L873.2 487.4L874.7 487.5L876.2 487.6L877.7 487.8L879.2 487.9L880.7 488.0L882.2 488.2L883.7 488.3L885.2 488.5L886.7 488.6L888.2 488.8L889.7 488.9L891.2 489.1L892.7 489.2L894.2 489.4L895.7 489.5L897.2 489.7L898.7 489.8L900.2 490.0L901.8 490.2L903.3 490.3L904.8 490.5L906.3 490.7L907.8 490.9L909.3 491.0L910.8 491.2L912.3 491.4L913.8 491.6L915.3 491.7L916.8 491.9L918.3 492.1L919.8 492.3L921.3 492.5L922.8 492.7L924.3 492.8L925.8 493.0L927.3 493.2L928.8 493.4L930.3 493.6L931.8 493.8L933.3 494.0L934.8 494.2L936.3 494.4L937.8 494.5L939.3 494.7L940.8 494.9L942.3 495.1L943.8 495.3L945.3 495.5L946.8 495.7L948.3 495.9L949.9 496.1L951.4 496.3L952.9 496.5L954.4 496.6L955.9 496.8L957.4 497.0L958.9 497.2L960.4 497.4L961.9 497.6L963.4 497.8L964.9 497.9L966.4 498.1L967.9 498.3L969.4 498.5L970.9 498.7L972.4 498.8L973.9 499.0L975.4 499.2L976.9 499.3L978.4 499.5L979.9 499.7L981.4 499.8L982.9 500.0L984.4 500.2L985.9 500.3L987.4 500.5L988.9 500.6L990.4 500.8L991.9 500.9L993.4 501.1L994.9 501.2L996.5 501.3L998.0 501.5L999.5 501.6L1001.0 501.8L1002.5 501.9L1004.0 502.0L1005.5 502.1L1007.0 502.3L1008.5 502.4L1010.0 502.5L1011.5 502.6L1013.0 502.7L1014.5 502.8L1016.0 502.9L1017.5 503.0L1019.0 503.1L1020.5 503.5L1022.0 503.7L1023.5 503.9L1025.0 504.1L1026.5 504.3L1028.0 504.4L1029.5 504.6L1031.0 504.8L1032.5 505.0L1034.0 505.1L1035.5 505.3L1037.0 505.4L1038.5 505.6L1040.0 505.7L1041.5 505.8L1043.0 506.0L1044.5 506.1L1046.0 506.2L1047.5 506.4L1049.0 506.5L1050.5 506.6L1052.0 506.7L1053.5 506.8L1055.0 506.9L1056.5 507.0L1058.0 507.1L1059.5 507.2L1061.0 507.2L1062.5 507.3L1064.0 507.4L1065.5 507.5L1067.0 507.5L1068.5 507.6L1070.0 507.6L1071.5 507.7L1073.0 507.7L1074.5 507.8L1076.0 507.8L1077.5 507.9L1079.0 507.9L1080.5 507.9L1082.0 507.9L1083.5 507.9L1085.0 507.9L1086.5 507.9L1088.0 507.9L1089.5 507.9L1091.0 507.8L1092.5 507.8L1094.0 507.7L1095.5 507.7L1097.0 507.6L1098.5 507.5L1100.0 507.4L1101.5 507.3L1103.0 507.2L1104.5 507.1L1106.0 507.0L1107.5 506.8L1109.0 506.7L1110.5 506.6L1112.0 506.4L1113.5 506.3L1115.0 506.1L1116.5 505.9L1118.0 505.8L1119.5 505.6L1121.0 505.4L1122.5 505.3L1124.0 505.1L1125.5 504.9L1127.0 504.7L1128.5 504.5L1130.0 504.3L1131.5 504.2L1133.0 504.0L1134.5 503.8L1136.0 503.6L1137.5 503.4L1139.0 503.2L1140.5 503.0L1142.0 502.8L1143.5 502.7L1145.0 502.5L1146.5 502.3L1148.0 502.1L1149.5 501.9L1151.0 501.8L1152.5 501.6L1154.0 501.4L1155.5 501.3L1157.0 501.1L1158.5 500.9L1160.0 500.8L1161.5 500.6L1163.0 500.5L1164.5 500.4L1166.0 500.2L1167.5 500.1L1169.0 500.0L1170.5 499.9L1172.0 499.8L1173.5 499.7L1175.0 499.6L1176.5 499.6L1178.0 499.5L1179.5 499.4L1181.0 499.5L1182.5 499.5L1184.0 499.5L1185.5 499.5L1187.0 499.5L1188.5 499.5L1190.0 499.5L1191.5 499.5L1193.0 499.5L1194.5 499.5L1196.0 499.5L1197.5 499.5L1199.0 499.4L1200.5 499.4L1202.0 499.4L1203.5 499.4L1205.0 499.4L1206.5 499.4L1208.0 499.4L1209.5 499.4L1211.0 499.4L1212.5 499.4L1214.0 499.4L1215.5 499.4L1217.0 499.4L1218.5 499.4L1220.0 499.4L1221.5 499.4L1223.0 499.4L1224.5 499.4L1226.0 499.4L1227.5 499.4L1229.0 499.4L1230.5 499.4L1232.0 499.4L1233.5 499.4L1235.0 499.4L1236.5 499.4L1238.0 499.4L1239.5 499.4L1241.0 499.4L1242.5 499.4L1244.0 499.4L1245.5 499.4L1247.0 499.4L1248.5 499.3L1250.0 499.3L1251.5 499.3L1253.0 499.3L1254.5 499.3L1256.0 499.3L1257.5 499.3L1259.0 499.3L1260.5 499.3L1262.0 499.3L1263.5 499.3L1265.0 499.3L1266.5 499.3L1268.0 499.3L1269.5 499.3L1271.0 499.3L1272.5 499.3L1274.0 499.3L1275.5 499.3L1277.0 499.3L1278.5 499.3L1280.0 499.3L1281.5 499.3L1283.0 499.3M1283.0 505.5L1284.5 505.7L1286.0 505.8L1287.5 505.9L1289.0 506.0L1290.5 506.1L1292.1 506.2L1293.6 506.3L1295.1 506.3L1296.6 506.4L1298.1 506.5L1299.6 506.5L1301.1 506.6L1302.6 506.7L1304.1 506.7L1305.6 506.7L1307.1 506.8L1308.7 506.8L1310.2 506.8L1311.7 506.8L1313.2 506.8L1314.7 506.9L1316.2 506.9L1317.7 506.9L1319.2 506.8L1320.7 506.8L1322.2 506.8L1323.7 506.8L1325.3 506.8L1326.8 506.7L1328.3 506.7L1329.8 506.7L1331.3 506.6L1332.8 506.6L1334.3 506.5L1335.8 506.5L1337.3 506.4L1338.8 506.4L1340.3 506.3L1341.9 506.2L1343.4 506.2L1344.9 506.1L1346.4 506.0L1347.9 505.9L1349.4 505.9L1350.9 505.8L1352.4 505.7L1353.9 505.6L1355.4 505.5L1356.9 505.4L1358.5 505.3L1360.0 505.2L1361.5 505.1L1363.0 505.0L1364.5 504.9L1366.0 504.8L1367.5 504.7L1369.0 504.6L1370.5 504.5L1372.0 504.3L1373.6 504.2L1375.1 504.1L1376.6 504.0L1378.1 503.9L1379.6 503.8L1381.1 503.6L1382.6 503.5L1384.1 503.4L1385.6 503.3L1387.1 503.2L1388.6 503.0L1390.2 502.9L1391.7 502.8L1393.2 502.7L1394.7 502.6L1396.2 502.4L1397.7 502.3L1399.2 502.2L1400.7 502.1L1402.2 501.9L1403.7 501.8L1405.2 501.7L1406.8 501.6L1408.3 501.5L1409.8 501.3L1411.3 501.2L1412.8 501.1L1414.3 501.0L1415.8 500.9L1417.3 500.8L1418.8 500.7L1420.3 500.6L1421.8 500.5L1423.4 500.4L1424.9 500.3L1426.4 500.2L1427.9 500.1L1429.4 500.0L1430.9 499.9L1432.4 499.8L1433.9 499.7L1435.4 499.6L1436.9 499.5L1438.4 499.4L1440.0 499.4L1441.5 499.3L1443.0 499.2L1444.5 499.1L1446.0 499.1L1447.5 499.0"/><path d="M784.5 486.4L786.0 486.4L787.5 486.3L789.0 486.3L790.5 486.3L792.0 486.2L793.5 486.2L795.0 486.2L796.5 486.2L798.0 486.2L799.5 486.1L801.0 486.1L802.5 486.1L804.0 486.1L805.5 486.1L807.0 486.1L808.5 486.1L810.0 486.1L811.5 486.1L813.0 486.1L814.5 486.1L816.0 486.1L817.5 486.1L819.0 486.1L820.5 486.2L822.0 486.2L823.5 486.2L825.0 486.2L826.5 486.2L828.0 486.3L829.5 486.3L831.0 486.3L832.5 486.4L834.0 486.4L835.5 486.5L837.0 486.5L838.5 486.5L840.0 486.6L841.5 486.6L843.0 486.7L844.5 486.8L846.0 486.8L847.5 486.9L849.0 486.9L850.5 487.0L852.0 487.1L853.5 487.2L855.0 487.2L856.5 487.3L858.0 487.4L859.5 487.5L861.0 487.6L862.5 487.7L864.0 487.8L865.5 487.9L867.0 488.0L868.5 488.1L870.0 488.2L871.5 488.3L873.0 488.4L874.5 488.5L876.0 488.6L877.5 488.7L879.0 488.9L880.5 489.0L882.0 489.1L883.5 489.2L885.0 489.4L886.5 489.5L888.0 489.7L889.5 489.8L891.0 490.0L892.5 490.1L894.0 490.3L895.5 490.4L897.0 490.6L898.5 490.7L900.0 490.9L901.5 491.1L903.0 491.3L904.5 491.4L906.0 491.6L907.5 491.8L909.0 492.0L910.5 492.2L912.0 492.4L913.5 492.6L915.0 492.8L916.5 493.0L918.0 493.2L919.5 493.4L921.0 493.6L922.5 493.8L924.0 494.0L925.5 494.3L927.0 494.5L928.5 494.7L930.0 494.9L931.5 495.2L933.0 495.4L934.5 495.7L936.0 495.9L937.5 496.2L939.0 496.4L940.5 496.7L942.0 497.0L943.5 497.2L945.0 497.5"/><path d="M78.5 557.6L80.0 557.6L81.5 557.6L83.0 557.6L84.5 557.6L86.0 557.6L87.5 557.6L89.0 557.6L90.5 557.6L92.0 557.5L93.5 557.5L95.0 557.5L96.5 557.4L98.0 557.4L99.5 557.3L101.0 557.3L102.5 557.2L104.0 557.1L105.5 557.1L107.0 557.0L108.5 556.9L110.0 556.8L111.5 556.7L113.0 556.6L114.5 556.5L116.0 556.4L117.5 556.3L119.0 556.2L120.5 556.1L122.0 556.0L123.5 555.9L125.0 555.8L126.5 555.6L128.0 555.5L129.5 555.4L131.0 555.3L132.5 555.1L134.0 555.0L135.5 554.8L137.0 554.7L138.5 554.6L140.0 554.4L141.5 554.3L143.0 554.1L144.5 553.9L146.0 553.8L147.5 553.6L149.0 553.5L150.5 553.3L152.0 553.1L153.5 553.0L155.0 552.8L156.5 552.6L158.0 552.5L159.5 552.3L161.0 552.1L162.5 551.9L164.0 551.8L165.5 551.6L167.0 551.4L168.5 551.2L170.0 551.1L171.5 550.9L173.0 550.7L174.5 550.5L176.0 550.3L177.5 550.1L179.0 550.0L180.5 549.8L182.0 549.6L183.5 549.4L185.0 549.2L186.5 549.0L188.0 548.9L189.5 548.7L191.0 548.5L192.5 548.3L194.0 548.1L195.5 547.9L197.0 547.8L198.5 547.6L200.0 547.4L201.5 547.2L203.0 547.0L204.5 546.9L206.0 546.7L207.5 546.5L209.0 546.3L210.5 546.2L212.0 546.0L213.5 545.8L215.0 545.7L216.5 545.5L218.0 545.3L219.5 545.2L221.0 545.0L222.5 544.9L224.0 544.7L225.5 544.5L227.0 544.4L228.5 544.2L230.0 544.1L231.5 544.0L233.0 543.8L234.5 543.7L236.0 543.5L237.5 543.4L239.0 543.3L240.5 543.1L242.0 543.0L243.5 542.9L245.0 542.8L246.5 542.7L248.0 542.6L249.5 542.4L251.0 542.3L252.5 542.2L254.0 542.1L255.5 542.0L257.0 542.0L258.5 541.9L260.0 541.8L261.5 541.7L263.0 541.6L264.5 541.6L266.0 541.6L267.5 541.6L269.0 541.6L270.5 541.7L272.0 541.7L273.6 541.7L275.1 541.7L276.6 541.8L278.1 541.8L279.6 541.8L281.1 541.8L282.6 541.9L284.1 541.9L285.6 541.9L287.1 541.9L288.6 541.9L290.1 542.0L291.7 542.0L293.2 542.0L294.7 542.0L296.2 542.0L297.7 542.1L299.2 542.1L300.7 542.1L302.2 542.1L303.7 542.1L305.2 542.1L306.7 542.2L308.2 542.2L309.8 542.2L311.3 542.2L312.8 542.2L314.3 542.2L315.8 542.2L317.3 542.2L318.8 542.2L320.3 542.2L321.8 542.2L323.3 542.3L324.8 542.3L326.4 542.3L327.9 542.3L329.4 542.3L330.9 542.3L332.4 542.3L333.9 542.3L335.4 542.3L336.9 542.3L338.4 542.3L339.9 542.3L341.4 542.2L342.9 542.2L344.5 542.2L346.0 542.2L347.5 542.2L349.0 542.2L350.5 542.2L352.0 542.2L353.5 542.2L355.0 542.2L356.5 542.1L358.0 542.1L359.5 542.1L361.1 542.1L362.6 542.1L364.1 542.1L365.6 542.0L367.1 542.0L368.6 542.0L370.1 542.0L371.6 541.9L373.1 541.9L374.6 541.9L376.1 541.9L377.6 541.8L379.2 541.8L380.7 541.8L382.2 541.7L383.7 541.7L385.2 541.7L386.7 541.6L388.2 541.6L389.7 541.5L391.2 541.5L392.7 541.5L394.2 541.4L395.8 541.4L397.3 541.3L398.8 541.3L400.3 541.2L401.8 541.2L403.3 541.1L404.8 541.1L406.3 541.0L407.8 541.0L409.3 540.9L410.8 540.9L412.3 540.8L413.9 540.7L415.4 540.7L416.9 540.6L418.4 540.6L419.9 540.5L421.4 540.4L422.9 540.4L424.4 540.3L425.9 540.2L427.4 540.1L428.9 540.1L430.4 540.0L432.0 539.9L433.5 539.8L435.0 539.8L436.5 539.7L438.0 539.6L439.5 539.5L441.0 539.6L442.5 539.5L444.0 539.4L445.6 539.4L447.1 539.3L448.6 539.3L450.1 539.3L451.6 539.3L453.1 539.2L454.6 539.2L456.1 539.2L457.7 539.2L459.2 539.2L460.7 539.2L462.2 539.2L463.7 539.2L465.2 539.2L466.7 539.3L468.2 539.3L469.8 539.3L471.3 539.3L472.8 539.4L474.3 539.4L475.8 539.4L477.3 539.5L478.8 539.5L480.3 539.6L481.9 539.6L483.4 539.7L484.9 539.7L486.4 539.8L487.9 539.8L489.4 539.9L490.9 540.0L492.4 540.0L494.0 540.1L495.5 540.1L497.0 540.2L498.5 540.3L500.0 540.3L501.5 540.4L503.0 540.5L504.5 540.5L506.1 540.6L507.6 540.7L509.1 540.7L510.6 540.8L512.1 540.9L513.6 540.9L515.1 541.0L516.6 541.0L518.2 541.1L519.7 541.2L521.2 541.2L522.7 541.3L524.2 541.3L525.7 541.4L527.2 541.4L528.7 541.5L530.3 541.5L531.8 541.6L533.3 541.6L534.8 541.6L536.3 541.7L537.8 541.7L539.3 541.7L540.8 541.7L542.4 541.7L543.9 541.8L545.4 541.8L546.9 541.8L548.4 541.8L549.9 541.8L551.4 541.8L552.9 541.7L554.5 541.7L556.0 541.7L557.5 541.7L559.0 541.6L560.5 541.6L562.0 541.6L563.5 541.6L565.0 541.6L566.5 541.6L568.0 541.6L569.5 541.6L571.0 541.6L572.5 541.6L574.0 541.6L575.5 541.6L577.0 541.6L578.5 541.6L580.0 541.6L581.5 541.6L583.1 541.7L584.6 541.7L586.1 541.7L587.6 541.8L589.1 541.8L590.6 541.8L592.1 541.9L593.6 541.9L595.1 542.0L596.6 542.0L598.1 542.1L599.6 542.1L601.1 542.2L602.6 542.3L604.1 542.3L605.6 542.4L607.1 542.5L608.6 542.5L610.1 542.6L611.6 542.7L613.1 542.8L614.6 542.8L616.1 542.9L617.6 543.0L619.1 543.1L620.6 543.2L622.1 543.3L623.6 543.4L625.1 543.5L626.6 543.5L628.2 543.6L629.7 543.7L631.2 543.8L632.7 544.0L634.2 544.1L635.7 544.2L637.2 544.3L638.7 544.4L640.2 544.5L641.7 544.6L643.2 544.7L644.7 544.8L646.2 545.0L647.7 545.1L649.2 545.2L650.7 545.3L652.2 545.4L653.7 545.6L655.2 545.7L656.7 545.8L658.2 545.9L659.7 546.1L661.2 546.2L662.7 546.3L664.2 546.5L665.7 546.6L667.2 546.7L668.7 546.9L670.2 547.0L671.8 547.1L673.3 547.3L674.8 547.4L676.3 547.6L677.8 547.7L679.3 547.8L680.8 548.0L682.3 548.1L683.8 548.3L685.3 548.4L686.8 548.5L688.3 548.7L689.8 548.8L691.3 549.0L692.8 549.1L694.3 549.3L695.8 549.4L697.3 549.6L698.8 549.7L700.3 549.8L701.8 550.0L703.3 550.1L704.8 550.3L706.3 550.4L707.8 550.6L709.3 550.7L710.8 550.9L712.3 551.0L713.8 551.2L715.3 551.3L716.9 551.4L718.4 551.6L719.9 551.7L721.4 551.9L722.9 552.0L724.4 552.2L725.9 552.3L727.4 552.5L728.9 552.6L730.4 552.7L731.9 552.9L733.4 553.0L734.9 553.2L736.4 553.3L737.9 553.4L739.4 553.6L740.9 553.7L742.4 553.8L743.9 554.0L745.4 554.1L746.9 554.2L748.4 554.4L749.9 554.5L751.4 554.6L752.9 554.8L754.4 554.9L755.9 555.0L757.4 555.1L758.9 555.3L760.4 555.4L762.0 555.5L763.5 555.6L765.0 555.7L766.5 555.9L768.0 556.0L769.5 556.1L771.0 556.2L772.5 556.3L774.0 556.4L775.5 556.5L777.0 556.6L778.5 556.7L780.0 556.8L781.5 556.9L783.0 557.0L784.5 557.1L786.0 557.2L787.5 557.2L789.0 557.2L790.5 557.1L792.0 557.1L793.5 557.0L795.0 557.0L796.5 556.9L798.0 556.9L799.5 556.8L801.0 556.7L802.5 556.7L804.0 556.6L805.5 556.5L807.0 556.4L808.6 556.3L810.1 556.3L811.6 556.2L813.1 556.1L814.6 556.0L816.1 555.9L817.6 555.8L819.1 555.7L820.6 555.6L822.1 555.5L823.6 555.4L825.1 555.3L826.6 555.1L828.1 555.0L829.6 554.9L831.1 554.8L832.6 554.7L834.1 554.5L835.6 554.4L837.1 554.3L838.6 554.2L840.1 554.0L841.6 553.9L843.1 553.8L844.6 553.6L846.1 553.5L847.6 553.3L849.1 553.2L850.6 553.1L852.1 552.9L853.6 552.8L855.2 552.6L856.7 552.5L858.2 552.3L859.7 552.2L861.2 552.0L862.7 551.9L864.2 551.7L865.7 551.6L867.2 551.4L868.7 551.2L870.2 551.1L871.7 550.9L873.2 550.8L874.7 550.6L876.2 550.4L877.7 550.3L879.2 550.1L880.7 550.0L882.2 549.8L883.7 549.6L885.2 549.5L886.7 549.3L888.2 549.2L889.7 549.0L891.2 548.8L892.7 548.7L894.2 548.5L895.7 548.3L897.2 548.2L898.7 548.0L900.2 547.9L901.8 547.7L903.3 547.5L904.8 547.4L906.3 547.2L907.8 547.1L909.3 546.9L910.8 546.8L912.3 546.6L913.8 546.4L915.3 546.3L916.8 546.1L918.3 546.0L919.8 545.8L921.3 545.7L922.8 545.5L924.3 545.4L925.8 545.2L927.3 545.1L928.8 544.9L930.3 544.8L931.8 544.7L933.3 544.5L934.8 544.4L936.3 544.3L937.8 544.1L939.3 544.0L940.8 543.9L942.3 543.7L943.8 543.6L945.3 543.5L946.8 543.4L948.3 543.2L949.9 543.1L951.4 543.0L952.9 542.9L954.4 542.8L955.9 542.7L957.4 542.5L958.9 542.4L960.4 542.3L961.9 542.2L963.4 542.1L964.9 542.1L966.4 542.0L967.9 541.9L969.4 541.8L970.9 541.7L972.4 541.6L973.9 541.5L975.4 541.5L976.9 541.4L978.4 541.3L979.9 541.3L981.4 541.2L982.9 541.1L984.4 541.1L985.9 541.0L987.4 541.0L988.9 540.9L990.4 540.9L991.9 540.9L993.4 540.8L994.9 540.8L996.5 540.8L998.0 540.8L999.5 540.7L1001.0 540.7L1002.5 540.7L1004.0 540.7L1005.5 540.7L1007.0 540.7L1008.5 540.7L1010.0 540.7L1011.5 540.7L1013.0 540.8L1014.5 540.8L1016.0 540.8L1017.5 540.9L1019.0 540.9L1020.5 540.5L1022.0 540.5L1023.5 540.4L1025.0 540.3L1026.5 540.3L1028.0 540.2L1029.5 540.2L1031.0 540.1L1032.5 540.0L1034.0 540.0L1035.5 539.9L1037.0 539.9L1038.5 539.8L1040.0 539.7L1041.5 539.7L1043.0 539.6L1044.5 539.6L1046.0 539.5L1047.5 539.5L1049.0 539.4L1050.5 539.4L1052.0 539.3L1053.5 539.3L1055.0 539.2L1056.5 539.2L1058.0 539.2L1059.5 539.1L1061.0 539.1L1062.5 539.0L1064.0 539.0L1065.5 538.9L1067.0 538.9L1068.5 538.9L1070.0 538.8L1071.5 538.8L1073.0 538.7L1074.5 538.7L1076.0 538.7L1077.5 538.6L1079.0 538.6L1080.5 538.6L1082.0 538.6L1083.5 538.6L1085.0 538.6L1086.5 538.6L1088.0 538.6L1089.5 538.6L1091.0 538.6L1092.5 538.6L1094.0 538.6L1095.5 538.6L1097.0 538.6L1098.5 538.5L1100.0 538.5L1101.5 538.5L1103.0 538.5L1104.5 538.5L1106.0 538.5L1107.5 538.5L1109.0 538.5L1110.5 538.5L1112.0 538.5L1113.5 538.5L1115.0 538.5L1116.5 538.5L1118.0 538.4L1119.5 538.4L1121.0 538.4L1122.5 538.4L1124.0 538.4L1125.5 538.4L1127.0 538.4L1128.5 538.4L1130.0 538.3L1131.5 538.3L1133.0 538.3L1134.5 538.3L1136.0 538.3L1137.5 538.3L1139.0 538.3L1140.5 538.3L1142.0 538.3L1143.5 538.3L1145.0 538.3L1146.5 538.3L1148.0 538.3L1149.5 538.3L1151.0 538.3L1152.5 538.3L1154.0 538.3L1155.5 538.3L1157.0 538.3L1158.5 538.3L1160.0 538.3L1161.5 538.3L1163.0 538.3L1164.5 538.3L1166.0 538.3L1167.5 538.3L1169.0 538.3L1170.5 538.3L1172.0 538.3L1173.5 538.3L1175.0 538.3L1176.5 538.3L1178.0 538.3L1179.5 538.3L1181.0 538.0L1182.5 538.1L1184.0 538.2L1185.5 538.4L1187.0 538.5L1188.5 538.6L1190.0 538.7L1191.5 538.8L1193.1 539.0L1194.6 539.1L1196.1 539.2L1197.6 539.3L1199.1 539.4L1200.6 539.5L1202.1 539.6L1203.6 539.7L1205.1 539.8L1206.6 539.8L1208.1 539.9L1209.6 540.0L1211.1 540.1L1212.6 540.2L1214.1 540.3L1215.6 540.3L1217.1 540.4L1218.6 540.5L1220.2 540.5L1221.7 540.6L1223.2 540.7L1224.7 540.7L1226.2 540.8L1227.7 540.9L1229.2 540.9L1230.7 541.0L1232.2 541.0L1233.7 541.1L1235.2 541.1L1236.7 541.2L1238.2 541.2L1239.7 541.3L1241.2 541.3L1242.7 541.3L1244.2 541.4L1245.7 541.4L1247.3 541.4L1248.8 541.5L1250.3 541.5L1251.8 541.5L1253.3 541.6L1254.8 541.6L1256.3 541.6L1257.8 541.6L1259.3 541.6L1260.8 541.7L1262.3 541.7L1263.8 541.7L1265.3 541.7L1266.8 541.7L1268.3 541.7L1269.8 541.7L1271.3 541.7L1272.8 541.7L1274.4 541.7L1275.9 541.8L1277.4 541.8L1278.9 541.8L1280.4 541.8L1281.9 541.7L1283.4 541.7L1284.9 541.7L1286.4 541.7L1287.9 541.7L1289.4 541.7L1290.9 541.7L1292.4 541.7L1293.9 541.7L1295.4 541.7L1296.9 541.7L1298.4 541.6L1299.9 541.6L1301.5 541.6L1303.0 541.6L1304.5 541.6L1306.0 541.5L1307.5 541.5L1309.0 541.5L1310.5 541.5L1312.0 541.4L1313.5 541.4L1315.0 541.4L1316.5 541.4L1318.0 541.3L1319.5 541.3L1321.0 541.3L1322.5 541.2L1324.0 541.2L1325.5 541.2L1327.1 541.1L1328.6 541.1L1330.1 541.1L1331.6 541.0L1333.1 541.0L1334.6 541.0L1336.1 540.9L1337.6 540.9L1339.1 540.8L1340.6 540.8L1342.1 540.8L1343.6 540.7L1345.1 540.7L1346.6 540.6L1348.1 540.6L1349.6 540.5L1351.1 540.5L1352.6 540.5L1354.2 540.4L1355.7 540.4L1357.2 540.3L1358.7 540.3L1360.2 540.2L1361.7 540.2L1363.2 540.1L1364.7 540.1L1366.2 540.1L1367.7 540.0L1369.2 540.0L1370.7 539.9L1372.2 539.9L1373.7 539.8L1375.2 539.8L1376.7 539.7L1378.2 539.7L1379.7 539.6L1381.3 539.6L1382.8 539.5L1384.3 539.5L1385.8 539.4L1387.3 539.4L1388.8 539.3L1390.3 539.3L1391.8 539.2L1393.3 539.2L1394.8 539.2L1396.3 539.1L1397.8 539.1L1399.3 539.0L1400.8 539.0L1402.3 538.9L1403.8 538.9L1405.3 538.8L1406.8 538.8L1408.4 538.7L1409.9 538.7L1411.4 538.6L1412.9 538.6L1414.4 538.6L1415.9 538.5L1417.4 538.5L1418.9 538.4L1420.4 538.4L1421.9 538.3L1423.4 538.3L1424.9 538.3L1426.4 538.2L1427.9 538.2L1429.4 538.2L1430.9 538.1L1432.4 538.1L1433.9 538.0L1435.5 538.0L1437.0 538.0L1438.5 537.9L1440.0 537.9L1441.5 537.9L1443.0 537.8L1444.5 537.8L1446.0 537.8L1447.5 537.7"/><path d="M78.5 557.6L80.0 557.6L81.5 557.6L83.0 557.5L84.5 557.5L86.0 557.5L87.5 557.5L89.0 557.5L90.5 557.4L92.0 557.4L93.5 557.4L95.0 557.4L96.5 557.4L98.0 557.3L99.5 557.3L101.0 557.3L102.5 557.3L104.0 557.3L105.5 557.2L107.0 557.2L108.5 557.2L110.0 557.2L111.5 557.2L113.0 557.2L114.5 557.2L116.0 557.2L117.5 557.1L119.0 557.1L120.5 557.1L122.0 557.1L123.5 557.1L125.0 557.1L126.5 557.1L128.0 557.1L129.5 557.1L131.0 557.1L132.5 557.1L134.0 557.1L135.5 557.1L137.0 557.1L138.5 557.1L140.0 557.1L141.5 557.1L143.0 557.1L144.5 557.1L146.0 557.1L147.5 557.1L149.0 557.1L150.5 557.1L152.0 557.1L153.5 557.1L155.0 557.1L156.5 557.1L158.0 557.1L159.5 557.1L161.0 557.1L162.5 557.1L164.0 557.1L165.5 557.1L167.0 557.1L168.5 557.1L170.0 557.1L171.5 557.1L173.0 557.1L174.5 557.1L176.0 557.1L177.5 557.1L179.0 557.1L180.5 557.1L182.0 557.1L183.5 557.1L185.0 557.1L186.5 557.1L188.0 557.1L189.5 557.1L191.0 557.1L192.5 557.1L194.0 557.1L195.5 557.1L197.0 557.1L198.5 557.1L200.0 557.1L201.5 557.1L203.0 557.1L204.5 557.1L206.0 557.1L207.5 557.1L209.0 557.1L210.5 557.0L212.0 557.0L213.5 557.0L215.0 557.0L216.5 557.0L218.0 557.0L219.5 557.0L221.0 557.0L222.5 557.0L224.0 557.0L225.5 557.0L227.0 556.9L228.5 556.9L230.0 556.9L231.5 556.9L233.0 556.9L234.5 556.9L236.0 556.9L237.5 556.9L239.0 556.9L240.5 556.8L242.0 556.8L243.5 556.8L245.0 556.8L246.5 556.8L248.0 556.8L249.5 556.8L251.0 556.7L252.5 556.7L254.0 556.7L255.5 556.7L257.0 556.7L258.5 556.7L260.0 556.6L261.5 556.6L263.0 556.6L264.5 556.6L266.0 556.5L267.5 556.5L269.0 556.5L270.5 556.5L272.0 556.5L273.6 556.5L275.1 556.5L276.6 556.5L278.1 556.5L279.6 556.5L281.1 556.4L282.6 556.4L284.1 556.3L285.6 556.3L287.1 556.2L288.6 556.2L290.1 556.1L291.7 556.1L293.2 556.0L294.7 555.9L296.2 555.8L297.7 555.7L299.2 555.6L300.7 555.5L302.2 555.4L303.7 555.3L305.2 555.2L306.7 555.1L308.2 555.0L309.8 554.9L311.3 554.8L312.8 554.6L314.3 554.5L315.8 554.4L317.3 554.2L318.8 554.1L320.3 554.0L321.8 553.8L323.3 553.7L324.8 553.5L326.4 553.4L327.9 553.2L329.4 553.1L330.9 552.9L332.4 552.7L333.9 552.6L335.4 552.4L336.9 552.2L338.4 552.1L339.9 551.9L341.4 551.7L342.9 551.6L344.5 551.4L346.0 551.2L347.5 551.0L349.0 550.8L350.5 550.7L352.0 550.5L353.5 550.3L355.0 550.1L356.5 549.9L358.0 549.8L359.5 549.6L361.1 549.4L362.6 549.2L364.1 549.0L365.6 548.9L367.1 548.7L368.6 548.5L370.1 548.3L371.6 548.1L373.1 547.9L374.6 547.8L376.1 547.6L377.6 547.4L379.2 547.2L380.7 547.1L382.2 546.9L383.7 546.7L385.2 546.5L386.7 546.4L388.2 546.2L389.7 546.0L391.2 545.9L392.7 545.7L394.2 545.5L395.8 545.4L397.3 545.2L398.8 545.1L400.3 544.9L401.8 544.8L403.3 544.6L404.8 544.5L406.3 544.3L407.8 544.2L409.3 544.1L410.8 543.9L412.3 543.8L413.9 543.7L415.4 543.6L416.9 543.4L418.4 543.3L419.9 543.2L421.4 543.1L422.9 543.0L424.4 542.9L425.9 542.8L427.4 542.7L428.9 542.6L430.4 542.5L432.0 542.5L433.5 542.4L435.0 542.3L436.5 542.3L438.0 542.2L439.5 542.1L441.0 542.3L442.5 542.3L444.0 542.2L445.5 542.2L447.0 542.2L448.6 542.2L450.1 542.2L451.6 542.2L453.1 542.2L454.6 542.1L456.1 542.1L457.6 542.1L459.1 542.1L460.6 542.1L462.1 542.1L463.6 542.1L465.1 542.0L466.6 542.0L468.2 542.0L469.7 542.0L471.2 542.0L472.7 542.0L474.2 542.0L475.7 542.0L477.2 541.9L478.7 541.9L480.2 541.9L481.7 541.9L483.2 541.9L484.8 541.9L486.3 541.9L487.8 541.9L489.3 541.9L490.8 541.9L492.3 541.8L493.8 541.8L495.3 541.8L496.8 541.8L498.3 541.8L499.8 541.8L501.3 541.8L502.9 541.8L504.4 541.8L505.9 541.8L507.4 541.8L508.9 541.7L510.4 541.7L511.9 541.7L513.4 541.7L514.9 541.7L516.4 541.7L517.9 541.7L519.4 541.7L521.0 541.7L522.5 541.7L524.0 541.6L525.5 541.6L527.0 541.6L528.5 541.6L530.0 541.6M784.5 557.2L786.0 557.2L787.5 557.2L789.0 557.2L790.5 557.2L792.0 557.2L793.5 557.1L795.0 557.1L796.5 557.1L798.0 557.1L799.5 557.1L801.0 557.1L802.5 557.1L804.0 557.1L805.5 557.1L807.0 557.1L808.6 557.1L810.1 557.1L811.6 557.1L813.1 557.1L814.6 557.1L816.1 557.1L817.6 557.1L819.1 557.1L820.6 557.1L822.1 557.1L823.6 557.1L825.1 557.1L826.6 557.1L828.1 557.1L829.6 557.1L831.1 557.1L832.6 557.1L834.1 557.1L835.6 557.1L837.1 557.1L838.6 557.0L840.1 557.0L841.6 557.0L843.1 557.0L844.6 557.0L846.1 557.0L847.6 557.0L849.1 557.0L850.6 557.0L852.1 557.0L853.6 556.9L855.2 556.9L856.7 556.9L858.2 556.9L859.7 556.9L861.2 556.9L862.7 556.8L864.2 556.8L865.7 556.8L867.2 556.8L868.7 556.7L870.2 556.7L871.7 556.7L873.2 556.7L874.7 556.6L876.2 556.6L877.7 556.6L879.2 556.5L880.7 556.5L882.2 556.5L883.7 556.4L885.2 556.4L886.7 556.4L888.2 556.3L889.7 556.3L891.2 556.2L892.7 556.2L894.2 556.1L895.7 556.1L897.2 556.0L898.7 556.0L900.2 555.9L901.8 555.9L903.3 555.8L904.8 555.8L906.3 555.7L907.8 555.6L909.3 555.6L910.8 555.5L912.3 555.4L913.8 555.4L915.3 555.3L916.8 555.2L918.3 555.1L919.8 555.1L921.3 555.0L922.8 554.9L924.3 554.8L925.8 554.7L927.3 554.6L928.8 554.5L930.3 554.5L931.8 554.4L933.3 554.3L934.8 554.2L936.3 554.0L937.8 553.9L939.3 553.8L940.8 553.7L942.3 553.6L943.8 553.5L945.3 553.4L946.8 553.2L948.3 553.1L949.9 553.0L951.4 552.9L952.9 552.7L954.4 552.6L955.9 552.5L957.4 552.3L958.9 552.2L960.4 552.0L961.9 551.9L963.4 551.7L964.9 551.6L966.4 551.4L967.9 551.2L969.4 551.1L970.9 550.9L972.4 550.7L973.9 550.6L975.4 550.4L976.9 550.2L978.4 550.0L979.9 549.8L981.4 549.6L982.9 549.4L984.4 549.2L985.9 549.0L987.4 548.8L988.9 548.6L990.4 548.4L991.9 548.2L993.4 548.0L994.9 547.7L996.5 547.5L998.0 547.3L999.5 547.1L1001.0 546.8L1002.5 546.6L1004.0 546.3L1005.5 546.1L1007.0 545.8L1008.5 545.6L1010.0 545.3L1011.5 545.0L1013.0 544.8L1014.5 544.5L1016.0 544.2L1017.5 543.9L1019.0 543.7L1020.5 543.5L1022.0 543.4L1023.5 543.4L1025.0 543.3L1026.5 543.2L1028.0 543.1L1029.5 543.1L1031.0 543.0L1032.5 542.9L1034.0 542.9L1035.5 542.9L1037.0 542.8L1038.5 542.8L1040.0 542.8L1041.5 542.8L1043.0 542.8L1044.5 542.8L1046.0 542.8L1047.5 542.8L1049.0 542.8L1050.5 542.8L1052.0 542.8L1053.5 542.8L1055.0 542.8L1056.5 542.8L1058.0 542.8L1059.5 542.8L1061.0 542.8L1062.5 542.8L1064.0 542.8L1065.5 542.8L1067.0 542.8L1068.5 542.8L1070.0 542.8L1071.5 542.8L1073.0 542.8L1074.5 542.8L1076.0 542.8L1077.5 542.8L1079.0 542.8L1080.5 542.8L1082.0 542.8L1083.5 542.8L1085.0 542.8L1086.5 542.8L1088.0 542.8L1089.5 542.8L1091.0 542.8L1092.5 542.8L1094.0 542.9L1095.5 542.9L1097.0 542.9L1098.5 542.9L1100.0 542.9L1101.5 542.9L1103.0 542.9L1104.5 542.9L1106.0 542.9L1107.5 542.9L1109.0 542.9L1110.5 542.9L1112.0 542.9L1113.5 542.9L1115.0 542.9L1116.5 542.9L1118.0 542.9L1119.5 542.9L1121.0 542.9L1122.5 542.9L1124.0 542.9L1125.5 542.9L1127.0 542.9L1128.5 542.9L1130.0 542.9L1131.5 542.9L1133.0 542.9L1134.5 542.9L1136.0 542.9L1137.5 542.9L1139.0 542.9L1140.5 542.9L1142.0 542.9L1143.5 542.9L1145.0 542.9L1146.5 542.9L1148.0 542.9L1149.5 542.9L1151.0 542.9L1152.5 542.9L1154.0 542.9L1155.5 542.9L1157.0 542.9L1158.5 542.9L1160.0 542.9L1161.5 542.9L1163.0 542.9L1164.5 542.9L1166.0 542.9L1167.5 542.9L1169.0 542.8L1170.5 542.8L1172.0 542.8L1173.5 542.8L1175.0 542.8L1176.5 542.8L1178.0 542.8L1179.5 542.8L1181.0 542.8L1182.5 542.7L1184.0 542.7L1185.5 542.6L1187.0 542.6L1188.5 542.6L1190.0 542.5L1191.5 542.5L1193.0 542.5L1194.5 542.4L1196.0 542.4L1197.5 542.3L1199.0 542.3L1200.5 542.3L1202.0 542.2L1203.5 542.2L1205.0 542.2L1206.5 542.2L1208.0 542.1L1209.5 542.1L1211.0 542.1L1212.5 542.1L1214.0 542.1L1215.5 542.0L1217.0 542.0L1218.5 542.0L1220.0 542.0L1221.5 542.0L1223.0 542.0L1224.5 542.0L1226.0 542.0L1227.5 542.0L1229.0 542.0L1230.5 541.9L1232.0 541.9L1233.5 541.9L1235.0 541.9L1236.5 541.9L1238.0 541.9L1239.5 541.9L1241.0 541.9L1242.5 541.9L1244.0 541.9L1245.5 541.9L1247.0 541.9L1248.5 541.9L1250.0 541.9L1251.5 541.9L1253.0 541.8L1254.5 541.8L1256.0 541.8L1257.5 541.8L1259.0 541.8L1260.5 541.8L1262.0 541.8L1263.5 541.8L1265.0 541.8L1266.5 541.8L1268.0 541.8L1269.5 541.8L1271.0 541.8L1272.5 541.8L1274.0 541.8L1275.5 541.8L1277.0 541.8L1278.5 541.8L1280.0 541.8L1281.5 541.8L1283.0 541.8M1283.0 556.6L1284.5 556.5L1286.0 556.5L1287.5 556.5L1289.0 556.4L1290.5 556.4L1292.1 556.3L1293.6 556.3L1295.1 556.2L1296.6 556.2L1298.1 556.1L1299.6 556.1L1301.1 556.0L1302.6 556.0L1304.1 555.9L1305.6 555.8L1307.1 555.8L1308.7 555.7L1310.2 555.6L1311.7 555.6L1313.2 555.5L1314.7 555.4L1316.2 555.3L1317.7 555.3L1319.2 555.2L1320.7 555.1L1322.2 555.0L1323.7 554.9L1325.3 554.8L1326.8 554.7L1328.3 554.6L1329.8 554.5L1331.3 554.4L1332.8 554.3L1334.3 554.2L1335.8 554.1L1337.3 554.0L1338.8 553.9L1340.3 553.8L1341.9 553.7L1343.4 553.6L1344.9 553.5L1346.4 553.4L1347.9 553.3L1349.4 553.2L1350.9 553.0L1352.4 552.9L1353.9 552.8L1355.4 552.7L1356.9 552.5L1358.5 552.4L1360.0 552.3L1361.5 552.2L1363.0 552.0L1364.5 551.9L1366.0 551.8L1367.5 551.6L1369.0 551.5L1370.5 551.4L1372.0 551.2L1373.6 551.1L1375.1 551.0L1376.6 550.8L1378.1 550.7L1379.6 550.5L1381.1 550.4L1382.6 550.3L1384.1 550.1L1385.6 550.0L1387.1 549.8L1388.6 549.7L1390.2 549.5L1391.7 549.4L1393.2 549.2L1394.7 549.1L1396.2 548.9L1397.7 548.8L1399.2 548.6L1400.7 548.5L1402.2 548.3L1403.7 548.2L1405.2 548.0L1406.8 547.9L1408.3 547.7L1409.8 547.5L1411.3 547.4L1412.8 547.2L1414.3 547.1L1415.8 546.9L1417.3 546.7L1418.8 546.6L1420.3 546.4L1421.8 546.3L1423.4 546.1L1424.9 545.9L1426.4 545.8L1427.9 545.6L1429.4 545.5L1430.9 545.3L1432.4 545.1L1433.9 545.0L1435.4 544.8L1436.9 544.6L1438.4 544.5L1440.0 544.3L1441.5 544.1L1443.0 544.0L1444.5 543.8L1446.0 543.6L1447.5 543.5"/><path d="M78.5 782.9L80.0 782.8L81.5 782.8L83.0 782.8L84.5 782.8L86.0 782.8L87.5 782.7L89.0 782.7L90.5 782.7L92.0 782.7L93.5 782.6L95.0 782.6L96.5 782.6L98.0 782.5L99.5 782.5L101.0 782.5L102.5 782.4L104.0 782.4L105.5 782.4L107.0 782.3L108.5 782.3L110.0 782.2L111.5 782.2L113.0 782.1L114.5 782.1L116.0 782.1L117.5 782.0L119.0 782.0L120.5 781.9L122.0 781.9L123.5 781.8L125.0 781.8L126.5 781.7L128.0 781.7L129.5 781.6L131.0 781.5L132.5 781.5L134.0 781.4L135.5 781.4L137.0 781.3L138.5 781.3L140.0 781.2L141.5 781.2L143.0 781.1L144.5 781.0L146.0 781.0L147.5 780.9L149.0 780.9L150.5 780.8L152.0 780.7L153.5 780.7L155.0 780.6L156.5 780.6L158.0 780.5L159.5 780.4L161.0 780.4L162.5 780.3L164.0 780.3L165.5 780.2L167.0 780.1L168.5 780.1L170.0 780.0L171.5 780.0L173.0 779.9L174.5 779.9L176.0 779.8L177.5 779.7L179.0 779.7L180.5 779.6L182.0 779.6L183.5 779.5L185.0 779.5L186.5 779.4L188.0 779.3L189.5 779.3L191.0 779.2L192.5 779.2L194.0 779.1L195.5 779.1L197.0 779.0L198.5 779.0L200.0 778.9L201.5 778.9L203.0 778.8L204.5 778.8L206.0 778.7L207.5 778.7L209.0 778.6L210.5 778.6L212.0 778.6L213.5 778.5L215.0 778.5L216.5 778.4L218.0 778.4L219.5 778.4L221.0 778.3L222.5 778.3L224.0 778.3L225.5 778.2L227.0 778.2L228.5 778.2L230.0 778.1L231.5 778.1L233.0 778.1L234.5 778.1L236.0 778.0L237.5 778.0L239.0 778.0L240.5 778.0L242.0 778.0L243.5 777.9L245.0 777.9L246.5 777.9L248.0 777.9L249.5 777.9L251.0 777.9L252.5 777.9L254.0 777.9L255.5 777.9L257.0 777.9L258.5 777.9L260.0 777.9L261.5 777.9L263.0 777.9L264.5 777.9L266.0 777.9L267.5 777.9L269.0 777.9L270.5 777.9L272.0 777.9L273.6 777.9L275.1 777.9L276.6 777.9L278.1 777.9L279.6 777.9L281.1 777.9L282.6 777.9L284.1 777.8L285.6 777.8L287.1 777.8L288.6 777.8L290.1 777.8L291.7 777.8L293.2 777.8L294.7 777.8L296.2 777.8L297.7 777.8L299.2 777.8L300.7 777.8L302.2 777.8L303.7 777.8L305.2 777.8L306.7 777.8L308.2 777.8L309.8 777.8L311.3 777.8L312.8 777.8L314.3 777.8L315.8 777.8L317.3 777.8L318.8 777.8L320.3 777.8L321.8 777.8L323.3 777.8L324.8 777.8L326.4 777.8L327.9 777.8L329.4 777.8L330.9 777.8L332.4 777.8L333.9 777.8L335.4 777.8L336.9 777.8L338.4 777.8L339.9 777.8L341.4 777.8L342.9 777.8L344.5 777.8L346.0 777.9L347.5 777.9L349.0 777.9L350.5 777.9L352.0 777.9L353.5 777.9L355.0 778.0L356.5 778.0L358.0 778.0L359.5 778.0L361.1 778.0L362.6 778.1L364.1 778.1L365.6 778.1L367.1 778.2L368.6 778.2L370.1 778.2L371.6 778.3L373.1 778.3L374.6 778.3L376.1 778.4L377.6 778.4L379.2 778.4L380.7 778.5L382.2 778.5L383.7 778.6L385.2 778.6L386.7 778.7L388.2 778.7L389.7 778.8L391.2 778.8L392.7 778.9L394.2 779.0L395.8 779.0L397.3 779.1L398.8 779.1L400.3 779.2L401.8 779.3L403.3 779.3L404.8 779.4L406.3 779.5L407.8 779.6L409.3 779.6L410.8 779.7L412.3 779.8L413.9 779.9L415.4 780.0L416.9 780.1L418.4 780.2L419.9 780.3L421.4 780.4L422.9 780.5L424.4 780.6L425.9 780.7L427.4 780.8L428.9 780.9L430.4 781.0L432.0 781.1L433.5 781.2L435.0 781.3L436.5 781.5L438.0 781.6L439.5 781.7L441.0 781.6L442.5 781.8L444.0 781.9L445.6 782.0L447.1 782.1L448.6 782.3L450.1 782.4L451.6 782.6L453.1 782.7L454.6 782.9L456.1 783.0L457.7 783.2L459.2 783.3L460.7 783.5L462.2 783.7L463.7 783.8L465.2 784.0L466.7 784.2L468.2 784.3L469.8 784.5L471.3 784.7L472.8 784.9L474.3 785.0L475.8 785.2L477.3 785.4L478.8 785.6L480.3 785.8L481.9 785.9L483.4 786.1L484.9 786.3L486.4 786.5L487.9 786.7L489.4 786.9L490.9 787.0L492.4 787.2L494.0 787.4L495.5 787.6L497.0 787.8L498.5 788.0L500.0 788.1L501.5 788.3L503.0 788.5L504.5 788.7L506.1 788.8L507.6 789.0L509.1 789.2L510.6 789.4L512.1 789.5L513.6 789.7L515.1 789.9L516.6 790.0L518.2 790.2L519.7 790.3L521.2 790.5L522.7 790.6L524.2 790.8L525.7 790.9L527.2 791.1L528.7 791.2L530.3 791.3L531.8 791.5L533.3 791.6L534.8 791.7L536.3 791.8L537.8 791.9L539.3 792.0L540.8 792.1L542.4 792.2L543.9 792.3L545.4 792.4L546.9 792.5L548.4 792.6L549.9 792.7L551.4 792.7L552.9 792.8L554.5 792.8L556.0 792.9L557.5 792.9L559.0 793.0L560.5 792.9L562.0 792.9L563.5 792.8L565.0 792.8L566.5 792.8L568.0 792.8L569.5 792.7L571.0 792.7L572.5 792.7L574.0 792.6L575.5 792.6L577.0 792.5L578.5 792.5L580.0 792.4L581.5 792.4L583.1 792.3L584.6 792.3L586.1 792.2L587.6 792.2L589.1 792.1L590.6 792.0L592.1 792.0L593.6 791.9L595.1 791.8L596.6 791.8L598.1 791.7L599.6 791.6L601.1 791.6L602.6 791.5L604.1 791.4L605.6 791.3L607.1 791.3L608.6 791.2L610.1 791.1L611.6 791.0L613.1 790.9L614.6 790.8L616.1 790.7L617.6 790.7L619.1 790.6L620.6 790.5L622.1 790.4L623.6 790.3L625.1 790.2L626.6 790.1L628.2 790.0L629.7 789.9L631.2 789.8L632.7 789.7L634.2 789.6L635.7 789.5L637.2 789.4L638.7 789.3L640.2 789.2L641.7 789.1L643.2 789.0L644.7 788.9L646.2 788.8L647.7 788.7L649.2 788.6L650.7 788.5L652.2 788.4L653.7 788.3L655.2 788.2L656.7 788.1L658.2 788.0L659.7 787.9L661.2 787.8L662.7 787.6L664.2 787.5L665.7 787.4L667.2 787.3L668.7 787.2L670.2 787.1L671.8 787.0L673.3 786.9L674.8 786.8L676.3 786.7L677.8 786.6L679.3 786.5L680.8 786.4L682.3 786.3L683.8 786.2L685.3 786.1L686.8 786.0L688.3 785.9L689.8 785.8L691.3 785.7L692.8 785.6L694.3 785.5L695.8 785.4L697.3 785.3L698.8 785.2L700.3 785.1L701.8 785.0L703.3 784.9L704.8 784.9L706.3 784.8L707.8 784.7L709.3 784.6L710.8 784.5L712.3 784.4L713.8 784.4L715.3 784.3L716.9 784.2L718.4 784.1L719.9 784.0L721.4 784.0L722.9 783.9L724.4 783.8L725.9 783.8L727.4 783.7L728.9 783.6L730.4 783.6L731.9 783.5L733.4 783.4L734.9 783.4L736.4 783.3L737.9 783.3L739.4 783.2L740.9 783.2L742.4 783.1L743.9 783.1L745.4 783.0L746.9 783.0L748.4 782.9L749.9 782.9L751.4 782.9L752.9 782.8L754.4 782.8L755.9 782.8L757.4 782.8L758.9 782.7L760.4 782.7L762.0 782.7L763.5 782.7L765.0 782.7L766.5 782.7L768.0 782.7L769.5 782.7L771.0 782.7L772.5 782.7L774.0 782.7L775.5 782.7L777.0 782.7L778.5 782.7L780.0 782.7L781.5 782.7L783.0 782.8L784.5 782.8L786.0 782.9L787.5 782.9L789.0 782.8L790.5 782.7L792.0 782.7L793.5 782.6L795.0 782.5L796.5 782.4L798.0 782.4L799.5 782.3L801.0 782.2L802.5 782.2L804.0 782.1L805.5 782.0L807.0 782.0L808.6 781.9L810.1 781.8L811.6 781.7L813.1 781.7L814.6 781.6L816.1 781.5L817.6 781.5L819.1 781.4L820.6 781.3L822.1 781.3L823.6 781.2L825.1 781.1L826.6 781.1L828.1 781.0L829.6 780.9L831.1 780.9L832.6 780.8L834.1 780.8L835.6 780.7L837.1 780.6L838.6 780.6L840.1 780.5L841.6 780.4L843.1 780.4L844.6 780.3L846.1 780.3L847.6 780.2L849.1 780.1L850.6 780.1L852.1 780.0L853.6 780.0L855.2 779.9L856.7 779.9L858.2 779.8L859.7 779.7L861.2 779.7L862.7 779.6L864.2 779.6L865.7 779.5L867.2 779.5L868.7 779.4L870.2 779.4L871.7 779.3L873.2 779.3L874.7 779.2L876.2 779.2L877.7 779.1L879.2 779.1L880.7 779.0L882.2 779.0L883.7 778.9L885.2 778.9L886.7 778.8L888.2 778.8L889.7 778.7L891.2 778.7L892.7 778.7L894.2 778.6L895.7 778.6L897.2 778.5L898.7 778.5L900.2 778.4L901.8 778.4L903.3 778.4L904.8 778.3L906.3 778.3L907.8 778.3L909.3 778.2L910.8 778.2L912.3 778.2L913.8 778.1L915.3 778.1L916.8 778.1L918.3 778.0L919.8 778.0L921.3 778.0L922.8 777.9L924.3 777.9L925.8 777.9L927.3 777.9L928.8 777.8L930.3 777.8L931.8 777.8L933.3 777.8L934.8 777.7L936.3 777.7L937.8 777.7L939.3 777.7L940.8 777.6L942.3 777.6L943.8 777.6L945.3 777.6L946.8 777.6L948.3 777.6L949.9 777.5L951.4 777.5L952.9 777.5L954.4 777.5L955.9 777.5L957.4 777.5L958.9 777.5L960.4 777.5L961.9 777.5L963.4 777.5L964.9 777.5L966.4 777.5L967.9 777.5L969.4 777.4L970.9 777.4L972.4 777.4L973.9 777.4L975.4 777.5L976.9 777.5L978.4 777.5L979.9 777.5L981.4 777.5L982.9 777.5L984.4 777.5L985.9 777.5L987.4 777.5L988.9 777.5L990.4 777.5L991.9 777.5L993.4 777.6L994.9 777.6L996.5 777.6L998.0 777.6L999.5 777.6L1001.0 777.6L1002.5 777.7L1004.0 777.7L1005.5 777.7L1007.0 777.7L1008.5 777.8L1010.0 777.8L1011.5 777.8L1013.0 777.8L1014.5 777.9L1016.0 777.9L1017.5 777.9L1019.0 778.0L1020.5 777.9L1022.0 777.9L1023.5 777.9L1025.0 777.9L1026.5 777.9L1028.0 777.9L1029.5 777.9L1031.0 777.9L1032.5 777.9L1034.0 777.9L1035.5 777.9L1037.0 777.9L1038.5 777.9L1040.0 777.9L1041.5 777.9L1043.0 777.9L1044.5 777.9L1046.0 777.9L1047.5 777.9L1049.0 777.9L1050.5 777.9L1052.0 777.9L1053.5 777.9L1055.0 777.9L1056.5 777.9L1058.0 777.9L1059.5 777.9L1061.0 777.9L1062.5 777.9L1064.0 777.9L1065.5 777.9L1067.0 777.9L1068.5 777.9L1070.0 777.9L1071.5 777.9L1073.0 777.9L1074.5 777.9L1076.0 777.9L1077.5 777.9L1079.0 777.9L1080.5 777.9L1082.0 778.0L1083.5 778.0L1085.0 778.0L1086.5 778.1L1088.0 778.1L1089.5 778.2L1091.0 778.2L1092.5 778.3L1094.0 778.3L1095.5 778.4L1097.0 778.4L1098.5 778.5L1100.0 778.5L1101.5 778.6L1103.0 778.6L1104.5 778.7L1106.0 778.7L1107.5 778.8L1109.0 778.9L1110.5 778.9L1112.0 779.0L1113.5 779.0L1115.0 779.1L1116.5 779.2L1118.0 779.3L1119.5 779.3L1121.0 779.4L1122.5 779.5L1124.0 779.6L1125.5 779.7L1127.0 779.7L1128.5 779.8L1130.0 779.9L1131.5 780.0L1133.0 780.1L1134.5 780.2L1136.0 780.3L1137.5 780.3L1139.0 780.4L1140.5 780.5L1142.0 780.6L1143.5 780.7L1145.0 780.8L1146.5 780.9L1148.0 781.0L1149.5 781.1L1151.0 781.2L1152.5 781.3L1154.0 781.4L1155.5 781.5L1157.0 781.6L1158.5 781.7L1160.0 781.8L1161.5 781.9L1163.0 782.0L1164.5 782.1L1166.0 782.3L1167.5 782.4L1169.0 782.5L1170.5 782.6L1172.0 782.7L1173.5 782.8L1175.0 782.9L1176.5 783.1L1178.0 783.2L1179.5 783.3L1181.0 783.4L1182.5 783.6L1184.0 783.7L1185.5 783.9L1187.0 784.0L1188.5 784.1L1190.0 784.3L1191.5 784.4L1193.0 784.6L1194.5 784.7L1196.0 784.9L1197.5 785.0L1199.0 785.1L1200.5 785.3L1202.0 785.4L1203.5 785.6L1205.0 785.7L1206.5 785.9L1208.0 786.0L1209.5 786.2L1211.0 786.3L1212.5 786.5L1214.0 786.6L1215.5 786.8L1217.0 786.9L1218.5 787.1L1220.0 787.2L1221.5 787.4L1223.0 787.5L1224.5 787.7L1226.0 787.8L1227.5 788.0L1229.0 788.1L1230.5 788.3L1232.0 788.5L1233.5 788.6L1235.0 788.8L1236.5 789.0L1238.0 789.1L1239.5 789.3L1241.0 789.4L1242.5 789.6L1244.0 789.7L1245.5 789.9L1247.0 790.0L1248.5 790.2L1250.0 790.3L1251.5 790.4L1253.0 790.6L1254.5 790.7L1256.0 790.8L1257.5 790.9L1259.0 791.1L1260.5 791.2L1262.0 791.3L1263.5 791.4L1265.0 791.5L1266.5 791.7L1268.0 791.8L1269.5 791.9L1271.0 792.0L1272.5 792.1L1274.0 792.2L1275.5 792.3L1277.0 792.4L1278.5 792.5L1280.0 792.6L1281.5 792.7L1283.0 792.8M1283.0 777.9L1284.5 777.9L1286.0 777.9L1287.5 777.9L1289.0 777.9L1290.5 777.9L1292.1 777.9L1293.6 777.9L1295.1 778.0L1296.6 778.0L1298.1 778.0L1299.6 778.0L1301.1 778.0L1302.6 778.0L1304.1 778.0L1305.6 778.1L1307.1 778.1L1308.7 778.1L1310.2 778.1L1311.7 778.2L1313.2 778.2L1314.7 778.2L1316.2 778.2L1317.7 778.3L1319.2 778.3L1320.7 778.3L1322.2 778.4L1323.7 778.4L1325.3 778.4L1326.8 778.5L1328.3 778.5L1329.8 778.5L1331.3 778.6L1332.8 778.6L1334.3 778.6L1335.8 778.7L1337.3 778.7L1338.8 778.8L1340.3 778.8L1341.9 778.8L1343.4 778.9L1344.9 778.9L1346.4 779.0L1347.9 779.0L1349.4 779.1L1350.9 779.1L1352.4 779.1L1353.9 779.2L1355.4 779.2L1356.9 779.3L1358.5 779.3L1360.0 779.4L1361.5 779.4L1363.0 779.5L1364.5 779.5L1366.0 779.6L1367.5 779.6L1369.0 779.7L1370.5 779.7L1372.0 779.8L1373.6 779.8L1375.1 779.9L1376.6 780.0L1378.1 780.0L1379.6 780.1L1381.1 780.1L1382.6 780.2L1384.1 780.2L1385.6 780.3L1387.1 780.3L1388.6 780.4L1390.2 780.4L1391.7 780.5L1393.2 780.6L1394.7 780.6L1396.2 780.7L1397.7 780.7L1399.2 780.8L1400.7 780.8L1402.2 780.9L1403.7 780.9L1405.2 781.0L1406.8 781.1L1408.3 781.1L1409.8 781.2L1411.3 781.2L1412.8 781.3L1414.3 781.3L1415.8 781.4L1417.3 781.4L1418.8 781.5L1420.3 781.6L1421.8 781.6L1423.4 781.7L1424.9 781.7L1426.4 781.8L1427.9 781.8L1429.4 781.9L1430.9 781.9L1432.4 782.0L1433.9 782.0L1435.4 782.1L1436.9 782.1L1438.4 782.2L1440.0 782.2L1441.5 782.3L1443.0 782.4L1444.5 782.4L1446.0 782.4L1447.5 782.5"/><path d="M78.5 853.4L80.0 853.4L81.5 853.3L83.0 853.3L84.5 853.3L86.0 853.3L87.5 853.3L89.0 853.3L90.5 853.3L92.0 853.3L93.5 853.3L95.0 853.3L96.5 853.3L98.0 853.3L99.5 853.3L101.0 853.3L102.5 853.3L104.0 853.2L105.5 853.2L107.0 853.2L108.5 853.2L110.0 853.2L111.5 853.2L113.0 853.2L114.5 853.2L116.0 853.2L117.5 853.2L119.0 853.2L120.5 853.2L122.0 853.2L123.5 853.2L125.0 853.2L126.5 853.2L128.0 853.2L129.5 853.2L131.0 853.2L132.5 853.2L134.0 853.2L135.5 853.2L137.0 853.2L138.5 853.1L140.0 853.1L141.5 853.1L143.0 853.1L144.5 853.1L146.0 853.1L147.5 853.1L149.0 853.1L150.5 853.1L152.0 853.1L153.5 853.1L155.0 853.1L156.5 853.1L158.0 853.1L159.5 853.1L161.0 853.1L162.5 853.1L164.0 853.1L165.5 853.1L167.0 853.1L168.5 853.1L170.0 853.1L171.5 853.1L173.0 853.1L174.5 853.1L176.0 853.1L177.5 853.1L179.0 853.1L180.5 853.1L182.0 853.1L183.5 853.1L185.0 853.1L186.5 853.2L188.0 853.2L189.5 853.2L191.0 853.2L192.5 853.2L194.0 853.2L195.5 853.2L197.0 853.2L198.5 853.2L200.0 853.2L201.5 853.2L203.0 853.2L204.5 853.2L206.0 853.2L207.5 853.2L209.0 853.2L210.5 853.2L212.0 853.2L213.5 853.2L215.0 853.2L216.5 853.2L218.0 853.3L219.5 853.3L221.0 853.3L222.5 853.3L224.0 853.3L225.5 853.3L227.0 853.3L228.5 853.3L230.0 853.3L231.5 853.3L233.0 853.3L234.5 853.3L236.0 853.3L237.5 853.4L239.0 853.4L240.5 853.4L242.0 853.4L243.5 853.4L245.0 853.4L246.5 853.4L248.0 853.4L249.5 853.4L251.0 853.5L252.5 853.5L254.0 853.5L255.5 853.5L257.0 853.5L258.5 853.5L260.0 853.5L261.5 853.5L263.0 853.5L264.5 853.6L266.0 853.7L267.5 853.8L269.0 853.8L270.5 853.8L272.0 853.9L273.6 853.9L275.1 853.9L276.6 854.0L278.1 854.0L279.6 854.1L281.1 854.1L282.6 854.2L284.1 854.3L285.6 854.3L287.1 854.4L288.6 854.4L290.1 854.5L291.7 854.6L293.2 854.6L294.7 854.7L296.2 854.8L297.7 854.9L299.2 854.9L300.7 855.0L302.2 855.1L303.7 855.2L305.2 855.3L306.7 855.3L308.2 855.4L309.8 855.5L311.3 855.6L312.8 855.7L314.3 855.8L315.8 855.9L317.3 855.9L318.8 856.0L320.3 856.1L321.8 856.2L323.3 856.3L324.8 856.4L326.4 856.5L327.9 856.6L329.4 856.7L330.9 856.8L332.4 856.9L333.9 857.0L335.4 857.1L336.9 857.2L338.4 857.3L339.9 857.4L341.4 857.5L342.9 857.6L344.5 857.7L346.0 857.8L347.5 857.9L349.0 858.0L350.5 858.1L352.0 858.2L353.5 858.3L355.0 858.4L356.5 858.5L358.0 858.6L359.5 858.7L361.1 858.8L362.6 858.9L364.1 859.0L365.6 859.1L367.1 859.2L368.6 859.3L370.1 859.4L371.6 859.5L373.1 859.5L374.6 859.6L376.1 859.7L377.6 859.8L379.2 859.9L380.7 860.0L382.2 860.1L383.7 860.2L385.2 860.3L386.7 860.3L388.2 860.4L389.7 860.5L391.2 860.6L392.7 860.7L394.2 860.7L395.8 860.8L397.3 860.9L398.8 861.0L400.3 861.0L401.8 861.1L403.3 861.2L404.8 861.2L406.3 861.3L407.8 861.4L409.3 861.4L410.8 861.5L412.3 861.5L413.9 861.6L415.4 861.6L416.9 861.7L418.4 861.7L419.9 861.8L421.4 861.8L422.9 861.8L424.4 861.9L425.9 861.9L427.4 861.9L428.9 862.0L430.4 862.0L432.0 862.0L433.5 862.0L435.0 862.1L436.5 862.1L438.0 862.1L439.5 862.1L441.0 861.9L442.5 861.9L444.0 861.9L445.6 861.9L447.1 861.9L448.6 861.9L450.1 861.8L451.6 861.8L453.1 861.8L454.6 861.8L456.1 861.8L457.7 861.8L459.2 861.7L460.7 861.7L462.2 861.7L463.7 861.6L465.2 861.6L466.7 861.6L468.2 861.5L469.8 861.5L471.3 861.5L472.8 861.4L474.3 861.4L475.8 861.3L477.3 861.3L478.8 861.3L480.3 861.2L481.9 861.2L483.4 861.1L484.9 861.1L486.4 861.0L487.9 861.0L489.4 860.9L490.9 860.9L492.4 860.8L494.0 860.7L495.5 860.7L497.0 860.6L498.5 860.6L500.0 860.5L501.5 860.5L503.0 860.4L504.5 860.3L506.1 860.3L507.6 860.2L509.1 860.2L510.6 860.1L512.1 860.0L513.6 860.0L515.1 859.9L516.6 859.9L518.2 859.8L519.7 859.7L521.2 859.7L522.7 859.6L524.2 859.6L525.7 859.5L527.2 859.4L528.7 859.4L530.3 859.3L531.8 859.3L533.3 859.2L534.8 859.1L536.3 859.1L537.8 859.0L539.3 859.0L540.8 858.9L542.4 858.9L543.9 858.8L545.4 858.8L546.9 858.7L548.4 858.7L549.9 858.6L551.4 858.6L552.9 858.5L554.5 858.5L556.0 858.4L557.5 858.4L559.0 858.3L560.5 858.5L562.0 858.5L563.5 858.5L565.0 858.5L566.5 858.5L568.0 858.5L569.5 858.4L571.0 858.4L572.5 858.4L574.0 858.4L575.5 858.4L577.0 858.3L578.5 858.3L580.0 858.3L581.5 858.3L583.1 858.2L584.6 858.2L586.1 858.2L587.6 858.2L589.1 858.1L590.6 858.1L592.1 858.1L593.6 858.0L595.1 858.0L596.6 858.0L598.1 857.9L599.6 857.9L601.1 857.8L602.6 857.8L604.1 857.8L605.6 857.7L607.1 857.7L608.6 857.6L610.1 857.6L611.6 857.5L613.1 857.5L614.6 857.4L616.1 857.4L617.6 857.3L619.1 857.3L620.6 857.2L622.1 857.2L623.6 857.1L625.1 857.1L626.6 857.0L628.2 857.0L629.7 856.9L631.2 856.9L632.7 856.8L634.2 856.8L635.7 856.7L637.2 856.7L638.7 856.6L640.2 856.6L641.7 856.5L643.2 856.4L644.7 856.4L646.2 856.3L647.7 856.3L649.2 856.2L650.7 856.2L652.2 856.1L653.7 856.0L655.2 856.0L656.7 855.9L658.2 855.9L659.7 855.8L661.2 855.8L662.7 855.7L664.2 855.6L665.7 855.6L667.2 855.5L668.7 855.5L670.2 855.4L671.8 855.4L673.3 855.3L674.8 855.2L676.3 855.2L677.8 855.1L679.3 855.1L680.8 855.0L682.3 855.0L683.8 854.9L685.3 854.9L686.8 854.8L688.3 854.8L689.8 854.7L691.3 854.6L692.8 854.6L694.3 854.5L695.8 854.5L697.3 854.4L698.8 854.4L700.3 854.3L701.8 854.3L703.3 854.3L704.8 854.2L706.3 854.2L707.8 854.1L709.3 854.1L710.8 854.0L712.3 854.0L713.8 853.9L715.3 853.9L716.9 853.9L718.4 853.8L719.9 853.8L721.4 853.8L722.9 853.7L724.4 853.7L725.9 853.7L727.4 853.6L728.9 853.6L730.4 853.6L731.9 853.5L733.4 853.5L734.9 853.5L736.4 853.4L737.9 853.4L739.4 853.4L740.9 853.4L742.4 853.4L743.9 853.3L745.4 853.3L746.9 853.3L748.4 853.3L749.9 853.3L751.4 853.3L752.9 853.3L754.4 853.3L755.9 853.2L757.4 853.2L758.9 853.2L760.4 853.2L762.0 853.2L763.5 853.2L765.0 853.2L766.5 853.2L768.0 853.2L769.5 853.3L771.0 853.3L772.5 853.3L774.0 853.3L775.5 853.3L777.0 853.3L778.5 853.3L780.0 853.4L781.5 853.4L783.0 853.4L784.5 853.4L786.0 853.6L787.5 853.5L789.0 853.5L790.5 853.4L792.0 853.4L793.5 853.3L795.0 853.3L796.5 853.2L798.0 853.2L799.5 853.2L801.0 853.1L802.5 853.1L804.0 853.1L805.5 853.0L807.0 853.0L808.6 853.0L810.1 853.0L811.6 853.0L813.1 852.9L814.6 852.9L816.1 852.9L817.6 852.9L819.1 852.9L820.6 852.9L822.1 852.9L823.6 852.9L825.1 852.9L826.6 852.9L828.1 852.9L829.6 852.9L831.1 852.9L832.6 852.9L834.1 852.9L835.6 852.9L837.1 852.9L838.6 853.0L840.1 853.0L841.6 853.0L843.1 853.0L844.6 853.0L846.1 853.1L847.6 853.1L849.1 853.1L850.6 853.1L852.1 853.2L853.6 853.2L855.2 853.2L856.7 853.2L858.2 853.3L859.7 853.3L861.2 853.3L862.7 853.4L864.2 853.4L865.7 853.5L867.2 853.5L868.7 853.5L870.2 853.6L871.7 853.6L873.2 853.6L874.7 853.7L876.2 853.7L877.7 853.8L879.2 853.8L880.7 853.9L882.2 853.9L883.7 853.9L885.2 854.0L886.7 854.0L888.2 854.1L889.7 854.1L891.2 854.2L892.7 854.2L894.2 854.3L895.7 854.3L897.2 854.4L898.7 854.4L900.2 854.5L901.8 854.5L903.3 854.5L904.8 854.6L906.3 854.6L907.8 854.7L909.3 854.7L910.8 854.8L912.3 854.8L913.8 854.9L915.3 854.9L916.8 855.0L918.3 855.0L919.8 855.0L921.3 855.1L922.8 855.1L924.3 855.2L925.8 855.2L927.3 855.2L928.8 855.3L930.3 855.3L931.8 855.4L933.3 855.4L934.8 855.4L936.3 855.5L937.8 855.5L939.3 855.5L940.8 855.6L942.3 855.6L943.8 855.6L945.3 855.7L946.8 855.7L948.3 855.7L949.9 855.8L951.4 855.8L952.9 855.8L954.4 855.8L955.9 855.8L957.4 855.9L958.9 855.9L960.4 855.9L961.9 855.9L963.4 855.9L964.9 855.9L966.4 855.9L967.9 855.9L969.4 855.9L970.9 856.0L972.4 856.0L973.9 856.0L975.4 855.9L976.9 855.9L978.4 855.9L979.9 855.9L981.4 855.9L982.9 855.9L984.4 855.9L985.9 855.9L987.4 855.8L988.9 855.8L990.4 855.8L991.9 855.8L993.4 855.7L994.9 855.7L996.5 855.7L998.0 855.6L999.5 855.6L1001.0 855.5L1002.5 855.5L1004.0 855.4L1005.5 855.4L1007.0 855.3L1008.5 855.3L1010.0 855.2L1011.5 855.1L1013.0 855.1L1014.5 855.0L1016.0 854.9L1017.5 854.8L1019.0 854.8L1020.5 854.7L1022.0 854.7L1023.5 854.6L1025.0 854.6L1026.5 854.5L1028.0 854.5L1029.5 854.4L1031.0 854.4L1032.5 854.4L1034.0 854.3L1035.5 854.3L1037.0 854.3L1038.5 854.2L1040.0 854.2L1041.5 854.2L1043.0 854.2L1044.5 854.1L1046.0 854.1L1047.5 854.1L1049.0 854.1L1050.5 854.0L1052.0 854.0L1053.5 854.0L1055.0 854.0L1056.5 854.0L1058.0 853.9L1059.5 853.9L1061.0 853.9L1062.5 853.9L1064.0 853.9L1065.5 853.9L1067.0 853.8L1068.5 853.8L1070.0 853.8L1071.5 853.8L1073.0 853.8L1074.5 853.8L1076.0 853.8L1077.5 853.8L1079.0 853.8L1080.5 853.8L1082.0 853.8L1083.5 853.8L1085.0 853.8L1086.5 853.8L1088.0 853.8L1089.5 853.8L1091.0 853.8L1092.5 853.8L1094.0 853.8L1095.5 853.8L1097.0 853.8L1098.5 853.8L1100.0 853.8L1101.5 853.8L1103.0 853.8L1104.5 853.8L1106.0 853.8L1107.5 853.8L1109.0 853.8L1110.5 853.8L1112.0 853.8L1113.5 853.8L1115.0 853.8L1116.5 853.8L1118.0 853.8L1119.5 853.8L1121.0 853.8L1122.5 853.8L1124.0 853.8L1125.5 853.9L1127.0 853.9L1128.5 854.0L1130.0 854.1L1131.5 854.1L1133.0 854.2L1134.5 854.3L1136.0 854.4L1137.5 854.4L1139.0 854.5L1140.5 854.6L1142.0 854.7L1143.5 854.8L1145.0 854.9L1146.5 854.9L1148.0 855.0L1149.5 855.1L1151.0 855.1L1152.5 855.2L1154.0 855.3L1155.5 855.3L1157.0 855.4L1158.5 855.4L1160.0 855.5L1161.5 855.5L1163.0 855.6L1164.5 855.6L1166.0 855.7L1167.5 855.7L1169.0 855.8L1170.5 855.8L1172.0 855.9L1173.5 855.9L1175.0 856.0L1176.5 856.0L1178.0 856.1L1179.5 856.1L1181.0 856.1L1182.5 856.2L1184.0 856.2L1185.5 856.3L1187.0 856.3L1188.5 856.4L1190.0 856.4L1191.5 856.5L1193.0 856.6L1194.5 856.6L1196.0 856.7L1197.5 856.7L1199.0 856.8L1200.5 856.8L1202.0 856.9L1203.5 856.9L1205.0 857.0L1206.5 857.0L1208.0 857.0L1209.5 857.1L1211.0 857.1L1212.5 857.2L1214.0 857.2L1215.5 857.3L1217.0 857.3L1218.5 857.3L1220.0 857.4L1221.5 857.4L1223.0 857.5L1224.5 857.5L1226.0 857.5L1227.5 857.6L1229.0 857.6L1230.5 857.6L1232.0 857.7L1233.5 857.7L1235.0 857.7L1236.5 857.8L1238.0 857.8L1239.5 857.8L1241.0 857.8L1242.5 857.9L1244.0 857.9L1245.5 857.9L1247.0 857.9L1248.5 858.0L1250.0 858.0L1251.5 858.0L1253.0 858.0L1254.5 858.1L1256.0 858.1L1257.5 858.1L1259.0 858.1L1260.5 858.1L1262.0 858.1L1263.5 858.2L1265.0 858.2L1266.5 858.2L1268.0 858.2L1269.5 858.2L1271.0 858.2L1272.5 858.2L1274.0 858.2L1275.5 858.3L1277.0 858.3L1278.5 858.3L1280.0 858.3L1281.5 858.3L1283.0 858.3M1283.0 853.8L1284.5 853.8L1286.0 853.9L1287.5 853.9L1289.0 853.9L1290.5 853.9L1292.1 854.0L1293.6 854.0L1295.1 854.0L1296.6 854.0L1298.1 854.1L1299.6 854.1L1301.1 854.1L1302.6 854.2L1304.1 854.2L1305.6 854.2L1307.1 854.2L1308.7 854.3L1310.2 854.3L1311.7 854.3L1313.2 854.3L1314.7 854.4L1316.2 854.4L1317.7 854.4L1319.2 854.4L1320.7 854.5L1322.2 854.5L1323.7 854.5L1325.3 854.6L1326.8 854.6L1328.3 854.6L1329.8 854.6L1331.3 854.7L1332.8 854.7L1334.3 854.7L1335.8 854.7L1337.3 854.8L1338.8 854.8L1340.3 854.8L1341.9 854.8L1343.4 854.9L1344.9 854.9L1346.4 854.9L1347.9 854.9L1349.4 855.0L1350.9 855.0L1352.4 855.0L1353.9 855.1L1355.4 855.1L1356.9 855.1L1358.5 855.2L1360.0 855.2L1361.5 855.2L1363.0 855.3L1364.5 855.3L1366.0 855.3L1367.5 855.4L1369.0 855.4L1370.5 855.4L1372.0 855.4L1373.6 855.5L1375.1 855.5L1376.6 855.5L1378.1 855.5L1379.6 855.5L1381.1 855.6L1382.6 855.6L1384.1 855.6L1385.6 855.6L1387.1 855.6L1388.6 855.6L1390.2 855.6L1391.7 855.6L1393.2 855.6L1394.7 855.6L1396.2 855.6L1397.7 855.6L1399.2 855.6L1400.7 855.6L1402.2 855.6L1403.7 855.6L1405.2 855.6L1406.8 855.6L1408.3 855.6L1409.8 855.6L1411.3 855.6L1412.8 855.6L1414.3 855.6L1415.8 855.6L1417.3 855.6L1418.8 855.6L1420.3 855.6L1421.8 855.6L1423.4 855.6L1424.9 855.6L1426.4 855.5L1427.9 855.5L1429.4 855.5L1430.9 855.5L1432.4 855.5L1433.9 855.5L1435.4 855.5L1436.9 855.5L1438.4 855.5L1440.0 855.5L1441.5 855.5L1443.0 855.4L1444.5 855.4L1446.0 855.4L1447.5 855.4"/><path d="M78.5 855.5L80.0 855.4L81.5 855.3L83.0 855.2L84.5 855.1L86.0 855.0L87.5 854.9L89.0 854.9L90.5 854.8L92.0 854.7L93.5 854.7L95.0 854.6L96.5 854.6L98.0 854.5L99.5 854.5L101.0 854.4L102.5 854.4L104.0 854.4L105.5 854.3L107.0 854.3L108.5 854.3L110.0 854.3L111.5 854.3L113.0 854.3L114.5 854.3L116.0 854.3L117.5 854.3L119.0 854.3L120.5 854.3L122.0 854.3L123.5 854.3L125.0 854.3L126.5 854.3L128.0 854.4L129.5 854.4L131.0 854.4L132.5 854.5L134.0 854.5L135.5 854.5L137.0 854.6L138.5 854.6L140.0 854.7L141.5 854.7L143.0 854.8L144.5 854.8L146.0 854.9L147.5 854.9L149.0 855.0L150.5 855.0L152.0 855.1L153.5 855.2L155.0 855.2L156.5 855.3L158.0 855.4L159.5 855.4L161.0 855.5L162.5 855.6L164.0 855.6L165.5 855.7L167.0 855.8L168.5 855.9L170.0 855.9L171.5 856.0L173.0 856.1L174.5 856.2L176.0 856.2L177.5 856.3L179.0 856.4L180.5 856.5L182.0 856.6L183.5 856.6L185.0 856.7L186.5 856.8L188.0 856.9L189.5 856.9L191.0 857.0L192.5 857.1L194.0 857.2L195.5 857.2L197.0 857.3L198.5 857.4L200.0 857.5L201.5 857.5L203.0 857.6L204.5 857.7L206.0 857.7L207.5 857.8L209.0 857.9L210.5 857.9L212.0 858.0L213.5 858.1L215.0 858.1L216.5 858.2L218.0 858.2L219.5 858.3L221.0 858.3L222.5 858.4L224.0 858.4L225.5 858.5L227.0 858.5L228.5 858.6L230.0 858.6L231.5 858.7L233.0 858.7L234.5 858.7L236.0 858.7L237.5 858.8L239.0 858.8L240.5 858.8L242.0 858.8L243.5 858.8L245.0 858.9L246.5 858.9L248.0 858.9L249.5 858.9L251.0 858.9L252.5 858.9L254.0 858.9L255.5 858.8L257.0 858.8L258.5 858.8L260.0 858.8L261.5 858.7L263.0 858.7L264.5 858.7L266.0 858.8L267.5 858.7L269.0 858.7L270.5 858.7L272.0 858.7L273.6 858.7L275.1 858.6L276.6 858.6L278.1 858.6L279.6 858.6L281.1 858.5L282.6 858.5L284.1 858.5L285.6 858.5L287.1 858.4L288.6 858.4L290.1 858.4L291.7 858.3L293.2 858.3L294.7 858.2L296.2 858.2L297.7 858.2L299.2 858.1L300.7 858.1L302.2 858.1L303.7 858.0L305.2 858.0L306.7 857.9L308.2 857.9L309.8 857.8L311.3 857.8L312.8 857.7L314.3 857.7L315.8 857.7L317.3 857.6L318.8 857.6L320.3 857.5L321.8 857.5L323.3 857.4L324.8 857.4L326.4 857.3L327.9 857.3L329.4 857.2L330.9 857.2L332.4 857.1L333.9 857.1L335.4 857.1L336.9 857.0L338.4 857.0L339.9 856.9L341.4 856.9L342.9 856.8L344.5 856.8L346.0 856.7L347.5 856.7L349.0 856.7L350.5 856.6L352.0 856.6L353.5 856.5L355.0 856.5L356.5 856.5L358.0 856.4L359.5 856.4L361.1 856.4L362.6 856.3L364.1 856.3L365.6 856.3L367.1 856.2L368.6 856.2L370.1 856.2L371.6 856.1L373.1 856.1L374.6 856.1L376.1 856.1L377.6 856.0L379.2 856.0L380.7 856.0L382.2 856.0L383.7 856.0L385.2 856.0L386.7 855.9L388.2 855.9L389.7 855.9L391.2 855.9L392.7 855.9L394.2 855.9L395.8 855.9L397.3 855.9L398.8 855.9L400.3 855.9L401.8 855.9L403.3 855.9L404.8 855.9L406.3 856.0L407.8 856.0L409.3 856.0L410.8 856.0L412.3 856.0L413.9 856.1L415.4 856.1L416.9 856.1L418.4 856.2L419.9 856.2L421.4 856.2L422.9 856.3L424.4 856.3L425.9 856.4L427.4 856.4L428.9 856.5L430.4 856.5L432.0 856.6L433.5 856.6L435.0 856.7L436.5 856.8L438.0 856.9L439.5 856.9L441.0 856.9L442.5 856.9L444.0 856.9L445.5 856.9L447.0 856.9L448.5 856.9L450.0 856.9L451.5 856.9L453.0 856.9L454.5 856.9L456.0 856.9L457.5 857.0L459.0 857.0L460.5 857.0L462.0 857.0L463.5 857.0L465.0 857.0L466.5 857.0L468.0 857.1L469.5 857.1L471.0 857.1L472.5 857.1L474.0 857.1L475.5 857.2L477.0 857.2L478.5 857.2L480.0 857.2L481.5 857.3L483.0 857.3L484.5 857.3L486.0 857.3L487.5 857.4L489.0 857.4L490.5 857.4L492.0 857.5L493.5 857.5L495.0 857.5L496.5 857.5L498.0 857.6L499.5 857.6L501.0 857.6L502.5 857.7L504.0 857.7L505.5 857.7L507.0 857.8L508.5 857.8L510.0 857.8L511.5 857.8L513.0 857.9L514.5 857.9L516.0 857.9L517.5 858.0L519.0 858.0L520.5 858.0L522.0 858.1L523.5 858.1L525.0 858.1L526.5 858.2L528.0 858.2L529.5 858.2L531.0 858.2L532.5 858.3L534.0 858.3L535.5 858.3L537.0 858.3L538.5 858.4L540.0 858.4M850.0 854.6L851.5 854.7L853.0 854.9L854.5 855.0L856.0 855.1L857.5 855.2L859.1 855.4L860.6 855.5L862.1 855.6L863.6 855.7L865.1 855.8L866.6 855.9L868.1 856.0L869.6 856.1L871.1 856.2L872.6 856.3L874.1 856.4L875.7 856.5L877.2 856.6L878.7 856.7L880.2 856.8L881.7 856.9L883.2 857.0L884.7 857.1L886.2 857.1L887.7 857.2L889.2 857.3L890.7 857.4L892.2 857.4L893.8 857.5L895.3 857.6L896.8 857.6L898.3 857.7L899.8 857.8L901.3 857.8L902.8 857.9L904.3 858.0L905.8 858.0L907.3 858.1L908.8 858.1L910.4 858.2L911.9 858.2L913.4 858.3L914.9 858.3L916.4 858.4L917.9 858.4L919.4 858.5L920.9 858.5L922.4 858.6L923.9 858.6L925.4 858.7L927.0 858.7L928.5 858.8L930.0 858.8L931.5 858.9L933.0 858.9L934.5 858.9L936.0 859.0L937.5 859.0L939.0 859.1L940.5 859.1L942.0 859.2L943.6 859.2L945.1 859.2L946.6 859.3L948.1 859.3L949.6 859.4L951.1 859.4L952.6 859.5L954.1 859.5L955.6 859.5L957.1 859.6L958.6 859.6L960.2 859.7L961.7 859.7L963.2 859.8L964.7 859.8L966.2 859.9L967.7 859.9L969.2 860.0L970.7 860.0L972.2 860.1L973.7 860.1L975.2 860.2L976.8 860.2L978.3 860.3L979.8 860.3L981.3 860.4L982.8 860.5L984.3 860.5L985.8 860.6L987.3 860.6L988.8 860.7L990.3 860.8L991.8 860.8L993.3 860.9L994.9 861.0L996.4 861.1L997.9 861.1L999.4 861.2L1000.9 861.3L1002.4 861.4L1003.9 861.4L1005.4 861.5L1006.9 861.6L1008.4 861.7L1009.9 861.8L1011.5 861.9L1013.0 862.0L1014.5 862.1L1016.0 862.2L1017.5 862.3L1019.0 862.4L1020.5 862.2L1022.0 862.3L1023.5 862.3L1025.0 862.3L1026.5 862.3L1028.0 862.4L1029.5 862.4L1031.0 862.4L1032.5 862.4L1034.0 862.5L1035.5 862.5L1037.0 862.5L1038.5 862.6L1040.0 862.6L1041.5 862.6L1043.0 862.7L1044.5 862.7L1046.0 862.7L1047.5 862.8L1049.0 862.8L1050.5 862.8L1052.0 862.9L1053.5 862.9L1055.0 862.9L1056.5 863.0L1058.0 863.0L1059.5 863.0L1061.0 863.1L1062.5 863.1L1064.0 863.1L1065.5 863.2L1067.0 863.2L1068.5 863.2L1070.0 863.3L1071.5 863.3L1073.0 863.3L1074.5 863.4L1076.0 863.4L1077.5 863.5L1079.0 863.5L1080.5 863.5L1082.0 863.5L1083.5 863.5L1085.0 863.5L1086.5 863.5L1088.0 863.5L1089.5 863.5L1091.0 863.5L1092.5 863.5L1094.0 863.5L1095.5 863.5L1097.0 863.5L1098.5 863.5L1100.0 863.5L1101.5 863.5L1103.0 863.5L1104.5 863.5L1106.0 863.5L1107.5 863.5L1109.0 863.5L1110.5 863.5L1112.0 863.5L1113.5 863.5L1115.0 863.5L1116.5 863.5L1118.0 863.5L1119.5 863.5L1121.0 863.5L1122.5 863.5L1124.0 863.5L1125.5 863.4L1127.0 863.4L1128.5 863.4L1130.0 863.3L1131.5 863.3L1133.0 863.2L1134.5 863.2L1136.0 863.1L1137.5 863.1L1139.0 863.0L1140.5 862.9L1142.0 862.9L1143.5 862.8L1145.0 862.8L1146.5 862.7L1148.0 862.7L1149.5 862.6L1151.0 862.6L1152.5 862.5L1154.0 862.5L1155.5 862.4L1157.0 862.4L1158.5 862.3L1160.0 862.3L1161.5 862.3L1163.0 862.2L1164.5 862.2L1166.0 862.1L1167.5 862.1L1169.0 862.0L1170.5 862.0L1172.0 861.9L1173.5 861.9L1175.0 861.8L1176.5 861.8L1178.0 861.7L1179.5 861.7L1181.0 861.7L1182.5 861.6L1184.0 861.5L1185.5 861.4L1187.0 861.3L1188.5 861.2L1190.0 861.1L1191.5 861.0L1193.0 860.9L1194.5 860.8L1196.0 860.7L1197.5 860.6L1199.0 860.5L1200.5 860.4L1202.0 860.3L1203.5 860.2L1205.0 860.1L1206.5 860.0L1208.0 859.9L1209.5 859.8L1211.0 859.7L1212.5 859.6L1214.0 859.6L1215.5 859.5L1217.0 859.4L1218.5 859.3L1220.0 859.2L1221.5 859.2L1223.0 859.1L1224.5 859.0L1226.0 858.9L1227.5 858.9L1229.0 858.8L1230.5 858.8L1232.0 858.7L1233.5 858.6L1235.0 858.6L1236.5 858.5L1238.0 858.5L1239.5 858.4L1241.0 858.4L1242.5 858.3L1244.0 858.3L1245.5 858.3L1247.0 858.2L1248.5 858.2L1250.0 858.2L1251.5 858.1L1253.0 858.1L1254.5 858.1L1256.0 858.1L1257.5 858.0L1259.0 858.0L1260.5 858.0L1262.0 858.0L1263.5 858.0L1265.0 858.0L1266.5 858.0L1268.0 858.0L1269.5 858.0L1271.0 858.1L1272.5 858.1L1274.0 858.1L1275.5 858.1L1277.0 858.2L1278.5 858.2L1280.0 858.2L1281.5 858.3L1283.0 858.3M1283.0 858.8L1284.5 858.9L1286.0 858.9L1287.5 858.9L1289.0 859.0L1290.5 859.0L1292.1 859.0L1293.6 859.1L1295.1 859.1L1296.6 859.1L1298.1 859.2L1299.6 859.2L1301.1 859.2L1302.6 859.3L1304.1 859.3L1305.6 859.3L1307.1 859.4L1308.7 859.4L1310.2 859.5L1311.7 859.5L1313.2 859.5L1314.7 859.6L1316.2 859.6L1317.7 859.6L1319.2 859.7L1320.7 859.7L1322.2 859.8L1323.7 859.8L1325.3 859.8L1326.8 859.9L1328.3 859.9L1329.8 860.0L1331.3 860.0L1332.8 860.0L1334.3 860.1L1335.8 860.1L1337.3 860.1L1338.8 860.2L1340.3 860.2L1341.9 860.3L1343.4 860.3L1344.9 860.3L1346.4 860.4L1347.9 860.4L1349.4 860.5L1350.9 860.5L1352.4 860.5L1353.9 860.6L1355.4 860.6L1356.9 860.6L1358.5 860.7L1360.0 860.7L1361.5 860.8L1363.0 860.8L1364.5 860.8L1366.0 860.9L1367.5 860.9L1369.0 860.9L1370.5 861.0L1372.0 861.0L1373.6 861.0L1375.1 861.1L1376.6 861.1L1378.1 861.1L1379.6 861.2L1381.1 861.2L1382.6 861.2L1384.1 861.3L1385.6 861.3L1387.1 861.3L1388.6 861.3L1390.2 861.4L1391.7 861.4L1393.2 861.4L1394.7 861.5L1396.2 861.5L1397.7 861.5L1399.2 861.5L1400.7 861.5L1402.2 861.6L1403.7 861.6L1405.2 861.6L1406.8 861.6L1408.3 861.7L1409.8 861.7L1411.3 861.7L1412.8 861.7L1414.3 861.7L1415.8 861.7L1417.3 861.8L1418.8 861.8L1420.3 861.8L1421.8 861.8L1423.4 861.8L1424.9 861.8L1426.4 861.8L1427.9 861.8L1429.4 861.8L1430.9 861.8L1432.4 861.8L1433.9 861.9L1435.4 861.9L1436.9 861.9L1438.4 861.9L1440.0 861.9L1441.5 861.9L1443.0 861.9L1444.5 861.8L1446.0 861.8L1447.5 861.8"/></g></defs>
<g shape-rendering="crispEdges">
<use href="#bands" x="-1.2"/>
<use href="#bands" x="0"/>
<use href="#bands" x="1.2"/>
</g>
<path d="M1283.0 222.5V213.9M1283.0 342.6V346.8M1283.0 346.0V358.2M1283.0 399.5V406.7M1283.0 468.9V461.7M1283.0 499.3V505.5M1283.0 541.8V556.6M1283.0 792.8V777.9M1283.0 858.3V853.8M1283.0 858.3V858.8" fill="none" stroke="#000" stroke-width="2" shape-rendering="crispEdges"/>
<g fill="#000" shape-rendering="crispEdges">
<rect x="263.0" y="35" width="3" height="13.5"/>
<rect x="263.0" y="977.5" width="3" height="13.5"/>
<rect x="438.0" y="35" width="3" height="13.5"/>
<rect x="438.0" y="977.5" width="3" height="13.5"/>
<rect x="557.5" y="35" width="3" height="13.5"/>
<rect x="557.5" y="977.5" width="3" height="13.5"/>
<rect x="783.0" y="35" width="3" height="13.5"/>
<rect x="783.0" y="977.5" width="3" height="13.5"/>
<rect x="1017.5" y="35" width="3" height="13.5"/>
<rect x="1017.5" y="977.5" width="3" height="13.5"/>
<rect x="1077.5" y="35" width="3" height="13.5"/>
<rect x="1077.5" y="977.5" width="3" height="13.5"/>
<rect x="1178.0" y="35" width="3" height="13.5"/>
<rect x="1178.0" y="977.5" width="3" height="13.5"/>
<rect x="1281.5" y="35" width="3" height="13.5"/>
<rect x="1281.5" y="977.5" width="3" height="13.5"/>
<rect x="78" y="169.9" width="14" height="3"/>
<rect x="1434" y="169.9" width="14" height="3"/>
<rect x="78" y="306.9" width="14" height="3"/>
<rect x="1434" y="306.9" width="14" height="3"/>
<rect x="78" y="443.9" width="14" height="3"/>
<rect x="1434" y="443.9" width="14" height="3"/>
<rect x="78" y="579.7" width="14" height="3"/>
<rect x="1434" y="579.7" width="14" height="3"/>
<rect x="78" y="716.9" width="14" height="3"/>
<rect x="1434" y="716.9" width="14" height="3"/>
<rect x="78" y="853.1" width="14" height="3"/>
<rect x="1434" y="853.1" width="14" height="3"/>
</g>
<path d="M78 309H1447" stroke="#f00" stroke-width="2" stroke-dasharray="9.5 3" fill="none" shape-rendering="crispEdges"/>
<rect x="78.5" y="35.5" width="1369" height="956" fill="none" stroke="#000" stroke-width="3"/>
<text transform="translate(46.00 45) scale(0.93 1)" x="-1.00" y="0" font-size="32">2</text>
<text transform="translate(45.50 182.5) scale(0.93 1)" x="-2.00" y="0" font-size="32">1</text>
<text transform="translate(46.00 319) scale(0.93 1)" x="-1.00" y="0" font-size="32">0</text>
<text transform="translate(36.00 455.5) scale(0.93 1)" x="-1.00 8.22" y="0" font-size="32">-1</text>
<text transform="translate(36.00 591.5) scale(0.93 1)" x="-1.00 9.75" y="0" font-size="32">-2</text>
<text transform="translate(35.50 729.5) scale(0.93 1)" x="-1.00 10.29" y="0" font-size="32">-3</text>
<text transform="translate(36.00 865.5) scale(0.93 1)" x="-1.00 9.68" y="0" font-size="32">-4</text>
<text transform="translate(36.00 1002) scale(0.93 1)" x="-1.00 9.75" y="0" font-size="32">-5</text>
<text transform="translate(27.80 1031) scale(0.93 1)" x="-1.00 23.41 41.12 66.71 92.98" y="0" font-size="32">Gamma</text>
<text transform="translate(258.00 1031) scale(0.93 1)" x="-2.00" y="0" font-size="32">L</text>
<text transform="translate(408.80 1028) scale(0.93 1)" x="-2.00" y="0" font-size="32">B</text>
<text transform="translate(427.50 1036) scale(0.93 1)" x="-1.50" y="0" font-size="24">1</text>
<text transform="translate(452.00 1031) scale(0.93 1)" x="-2.00" y="0" font-size="32">B</text>
<text transform="translate(550.00 1031) scale(0.93 1)" x="-1.00" y="0" font-size="32">Z</text>
<text transform="translate(733.90 1031) scale(0.93 1)" x="-1.00 23.41 41.12 66.71 92.98" y="0" font-size="32">Gamma</text>
<text transform="translate(993.00 1031) scale(0.93 1)" x="-1.00 20.43 37.71" y="0" font-size="32">X Q</text>
<text transform="translate(1071.80 1031) scale(0.93 1)" x="-2.00" y="0" font-size="32">F</text>
<text transform="translate(1164.60 1028) scale(0.93 1)" x="-2.00" y="0" font-size="32">P</text>
<text transform="translate(1183.80 1036) scale(0.93 1)" x="-1.50" y="0" font-size="24">1</text>
<text transform="translate(1258.00 1031) scale(0.93 1)" x="-1.00 19.35 39.94" y="0" font-size="32">Z L</text>
<text transform="translate(1440.00 1031) scale(0.93 1)" x="-2.00" y="0" font-size="32">P</text>
</svg></body></html>
